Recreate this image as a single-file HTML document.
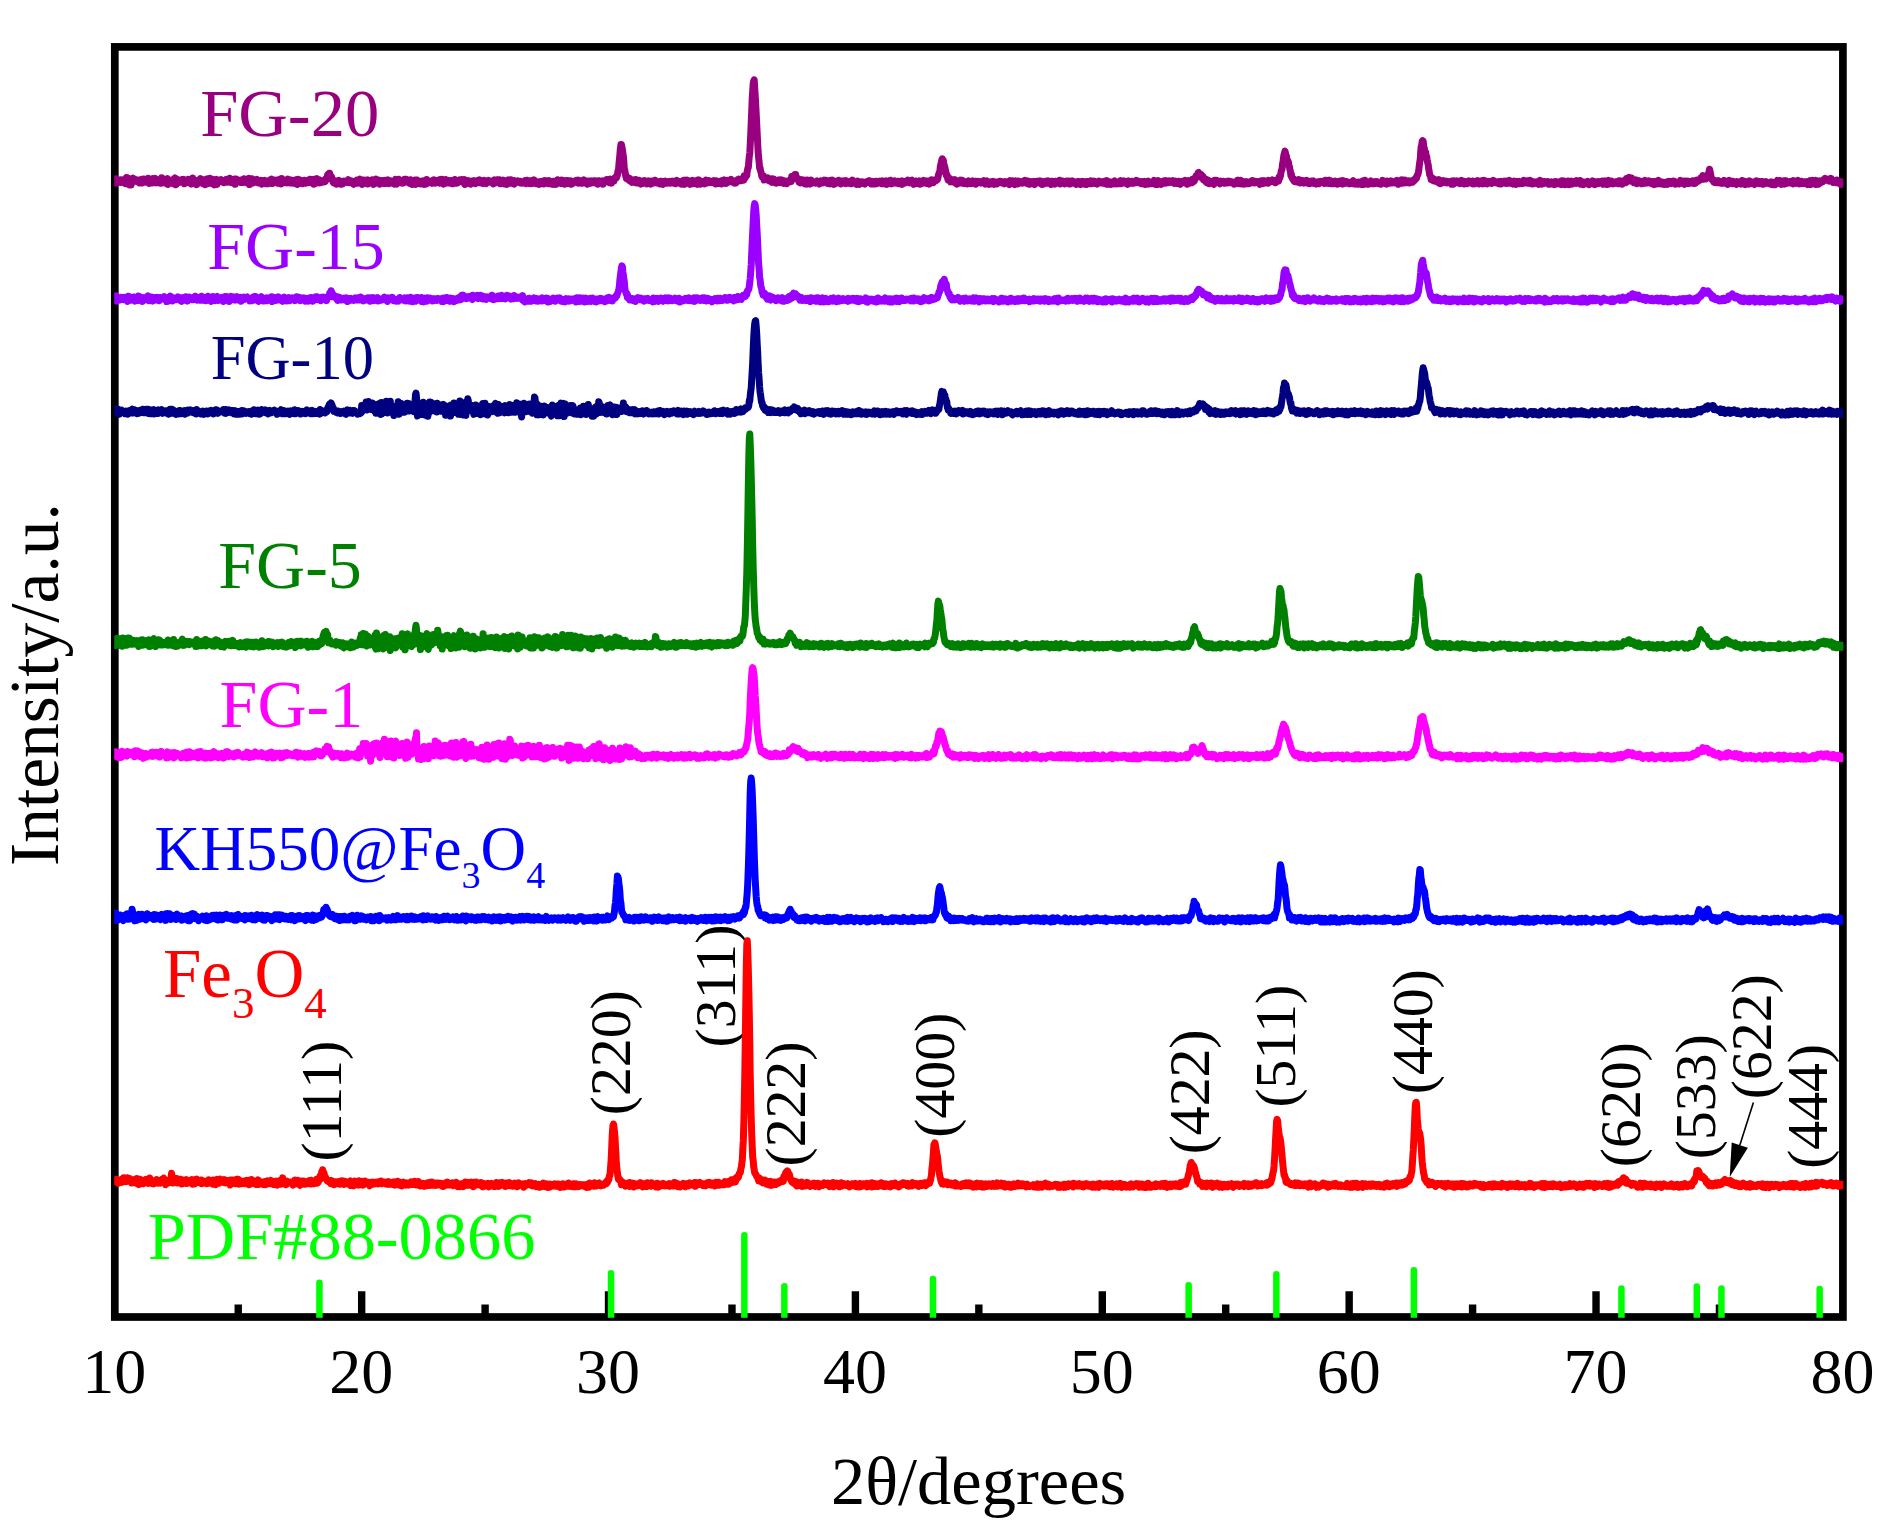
<!DOCTYPE html>
<html lang="en"><head><meta charset="utf-8"><title>XRD patterns</title>
<style>html,body{margin:0;padding:0;background:#fff;overflow:hidden}svg{display:block}text{font-family:"Liberation Serif",serif}</style></head><body>
<svg width="1890" height="1530" viewBox="0 0 1890 1530">
<rect width="1890" height="1530" fill="#fff"/>
<rect x="114.80" y="46.90" width="1728.10" height="1270.10" fill="none" stroke="#000" stroke-width="7.70"/>
<path d="M361.67 1317.0 V1291.3 M608.54 1317.0 V1291.3 M855.41 1317.0 V1291.3 M1102.29 1317.0 V1291.3 M1349.16 1317.0 V1291.3 M1596.03 1317.0 V1291.3 M238.24 1317.0 V1304.6 M485.11 1317.0 V1304.6 M731.98 1317.0 V1304.6 M978.85 1317.0 V1304.6 M1225.72 1317.0 V1304.6 M1472.59 1317.0 V1304.6 M1719.46 1317.0 V1304.6" stroke="#000" stroke-width="7.4" fill="none"/>
<g font-size="64" text-anchor="middle" fill="#000">
<text x="114.3" y="1393">10</text>
<text x="361.2" y="1393">20</text>
<text x="608.0" y="1393">30</text>
<text x="854.9" y="1393">40</text>
<text x="1101.8" y="1393">50</text>
<text x="1348.7" y="1393">60</text>
<text x="1595.5" y="1393">70</text>
<text x="1842.4" y="1393">80</text>
</g>
<text x="978.6" y="1503.7" font-size="68.5" text-anchor="middle">2θ/degrees</text>
<text transform="translate(58 684.5) rotate(-90)" font-size="69.5" text-anchor="middle">Intensity/a.u.</text>
<g font-size="57.7" text-anchor="middle" fill="#000">
<text transform="translate(341.0 1101.1) rotate(-90)">(111)</text>
<text transform="translate(629.8 1052.8) rotate(-90)">(220)</text>
<text transform="translate(735.0 986.0) rotate(-90)">(311)</text>
<text transform="translate(805.0 1104.1) rotate(-90)">(222)</text>
<text transform="translate(953.7 1075.3) rotate(-90)">(400)</text>
<text transform="translate(1208.8 1091.9) rotate(-90)">(422)</text>
<text transform="translate(1295.0 1046.2) rotate(-90)">(511)</text>
<text transform="translate(1431.7 1031.7) rotate(-90)">(440)</text>
<text transform="translate(1639.8 1104.7) rotate(-90)">(620)</text>
<text transform="translate(1714.8 1096.8) rotate(-90)">(533)</text>
<text transform="translate(1770.6 1036.8) rotate(-90)">(622)</text>
<text transform="translate(1826.5 1106.4) rotate(-90)">(444)</text>
</g>
<g font-size="68">
<text x="200.2" y="135.9" font-size="68.6" fill="#99007f">FG-20</text>
<text x="207.3" y="269.3" fill="#9900ff">FG-15</text>
<text x="210.7" y="378.7" fill="#000080" font-size="62.5">FG-10</text>
<text x="218.3" y="588" fill="#008000">FG-5</text>
<text x="219.6" y="727.3" fill="#ff00ff">FG-1</text>
<text x="163" y="997.2" font-size="69" fill="#ff0000">Fe<tspan font-size="45" dy="20.3">3</tspan><tspan dy="-20.3">O</tspan><tspan font-size="45" dy="20.3">4</tspan></text>
<text x="147.8" y="1259" font-size="68.4" fill="#00ff00">PDF#88-0866</text>
</g>
<text x="154.6" y="870" font-size="63.1" fill="#0000ff">KH550@Fe<tspan font-size="38" dy="18">3</tspan><tspan dy="-18">O</tspan><tspan font-size="38" dy="18">4</tspan></text>
<clipPath id="pa"><rect x="114.2" y="0" width="1729.2" height="1530"/></clipPath>
<g clip-path="url(#pa)">
<path transform="scale(.1)" fill="none" stroke="#99007f" stroke-width="70" stroke-linejoin="round" d="M1148 1819l5 9 5-10 5-31 5 43 5-9 5-19 5 21 4-4 5-1 5-5 5 10 5-25 5 11 5-6 5 21 5-11 5-6 5-10 5 10 5 5 5-5 5 30 5-6 4-57 5 2 5 33 5-5 5 12 5 0 5 34 5-59 5 14 5 45 5-25 5 0 5-22 5-22 5 35 5-2 4-25 5 11 5 11 5-16 5 16 5 3 5-1 5-10 5 21 5 5 5-11 5-21 5 29 5-23 5 26 5-36 4 36 5-17 5-22 5 17 5 7 5 4 5-23 5-3 5 24 5-12 5 13 5 10 5-44 5 34 5 18 5-28 4-9 5 28 5-9 5 12 5-22 5-21 5 25 5-6 5 22 5-11 5-32 5 7 5 38 5-4 5-24 5 12 4 8 5 0 5 8 5-11 5-7 5-3 5 24 5-54 5 33 5 3 5-26 5 31 5-17 5 26 5-17 5 14 4 10 5-15 5-22 5-11 5 57 5-33 5-10 5 15 5-6 5 18 5-14 5-1 5-12 5 20 5-26 5 30 4 15 5-53 5-8 5 45 5 24 5-52 5-4 5 32 5-25 5 6 5 2 5 16 5-17 5 12 5-8 5-11 4 9 5-11 5 17 5-20 5 1 5 43 5-25 5 0 5 9 5-16 5 4 5 11 5-3 5-24 5 34 5-24 4-8 5 2 5 9 5 34 5-47 5 22 5-36 5 34 5 15 5-19 5-7 5 15 5 7 5 0 5 22 5-30 4-13 5 8 5 1 5 3 5-3 5 4 5-31 5 42 5-24 5-9 5 29 5 12 5-14 5-5 5-18 5 48 4-19 5-33 5 6 5 14 5-26 5 28 5-10 5 27 5-4 5-48 5 33 5-27 5 44 5-15 5 6 5-26 4 47 5 3 5-50 5 23 5-17 5 11 5-20 5 50 5-45 5 10 5 13 5-18 5 6 5-5 5 7 5-16 4 11 5 4 5-2 5 6 5-5 5 16 5-17 5 3 5-8 5 2 5-12 5 29 5-27 5 7 5 17 5 1 4-13 5-25 5 38 5-2 5-27 5 35 5-23 5-7 5 19 5-4 5 6 5-28 5 53 5-38 5-14 5 33 4-15 5 11 5-11 5 5 5 5 5-16 5 22 5-18 5-6 5 15 5 6 5-11 5-10 5 23 5-36 5 11 4 16 5-21 5 21 5-1 5 15 5-28 5 4 5 15 5-36 5 62 5-42 5 0 5 24 5-14 5-26 5 37 4 3 5-20 5 3 5 11 5-21 5 21 5-4 5-13 5-11 5 18 5-10 5 28 5-13 5 10 5-10 5 2 4-16 5 22 5 17 5-31 5-5 5 7 5-5 5-3 5 12 5-6 5 26 5-22 5 5 5 10 5-19 5 26 4-31 5-3 5 7 5 4 5-19 5 20 5-24 5 45 5-22 5-8 5-4 5 8 5 2 5-12 5 2 5 11 4-5 5 21 5 3 5-16 5 6 5-26 5 29 5-10 5 8 5 16 5-53 5 33 5-19 5 24 5-28 5 12 4 11 5 6 5-8 5-13 5 4 5 21 5-13 5-25 5 37 5-6 5 6 5-17 5 17 5-28 5 24 5-15 4 16 5 5 5-25 5 10 5 1 5 17 5-7 5-28 5 24 5 5 5 17 5-52 5 16 5 27 5-38 5 2 4 24 5 7 5-24 5 18 5-6 5 19 5-21 5 14 5-27 5 10 5 1 5 18 5-8 5-19 5 20 5 2 4-13 5-2 5 1 5-21 5 26 5 1 5-15 5 22 5-30 5 12 5 1 5 34 5-50 5 30 5 6 5-8 4 11 5-31 5-14 5 39 5-28 5 12 5-12 5 31 5-3 5-22 5 22 5-11 5-4 5 2 5-4 5 10 4-6 5-11 5 15 5-27 5 6 5-8 5 3 5-41 5 19 5-30 5-6 5-1 5 27 5 6 5-4 5 10 4 16 5 5 5 28 5 7 5-5 5-6 5-10 5 7 5 12 5 16 5-14 5-16 5 4 5-7 5-4 5 9 4 5 5 23 5-25 5 18 5 6 5-23 5 21 5-12 5-15 5 9 5-3 5-4 5 1 5 4 5 4 5-17 4 11 5-20 5 24 5 5 5-6 5 2 5 4 5-17 5 6 5 10 5 6 5-8 5 22 5-28 5 14 5 4 4-19 5-9 5-5 5 18 5 13 5-11 5-2 5-7 5 13 5-34 5 29 5-2 5-19 5 45 5-45 5 4 4-2 5 31 5-26 5 20 5-1 5-4 5-21 5 9 5 31 5-40 5 6 5 9 5 13 5-7 5 6 5-24 4 27 5-5 5-28 5 41 5 6 5-36 5 10 5 18 5-38 5-6 5 9 5 9 5 0 5 16 5-5 5-20 4 24 5 17 5-9 5-2 5-13 5 13 5-26 5 23 5-11 5 16 5-9 5-20 5 16 5 14 5-31 5 8 4-3 5-9 5 31 5 5 5-7 5-7 5-4 5 4 5-12 5 21 5 2 5-2 5-19 5 8 5-3 5 25 4-21 5-26 5 29 5 19 5-15 5 2 5-10 5-26 5 2 5 7 5 15 5 5 5 5 5-13 5 17 5-16 4-6 5 20 5-22 5-14 5 12 5 15 5-27 5 21 5 0 5-14 5 0 5 13 5-2 5 23 5-11 5-25 4 10 5 19 5 16 5-20 5-1 5 20 5-24 5-3 5-14 5 11 5 32 5-43 5 18 5-18 5 19 5 10 4-14 5 12 5 0 5-4 5 16 5-11 5-14 5-5 5-2 5 17 5-10 5 29 5-2 5-26 5-1 5 25 4-45 5 18 5 18 5-24 5 6 5 2 5 12 5-6 5 3 5 2 5-7 5 14 5-23 5-9 5-4 5 2 4 13 5 20 5-11 5-9 5-6 5 7 5 1 5-2 5-11 5 12 5 19 5-38 5 22 5-22 5 27 5-11 4-16 5 26 5 22 5-21 5 13 5-16 5-23 5 30 5-11 5-13 5 28 5-6 5-10 5 17 5-21 5 18 4-19 5 18 5-20 5 32 5-15 5 14 5-28 5 5 5 16 5-35 5 11 5 26 5-7 5 6 5-15 5 10 4-15 5-8 5-4 5 14 5 0 5-1 5-17 5 0 5 18 5 10 5-10 5-4 5-14 5 49 5-38 5 34 4-1 5-16 5-10 5 8 5-15 5 17 5-3 5 6 5 5 5 10 5-26 5 17 5-22 5-1 5 3 5-4 4 24 5-1 5 4 5-15 5 3 5-10 5-7 5 19 5-2 5-16 5 20 5-28 5 19 5-6 5 2 5-7 4 25 5-5 5 7 5-12 5-18 5 12 5-10 5 19 5 10 5-11 5-11 5 3 5 6 5-19 5 19 5 0 4-8 5 1 5 7 5-12 5 0 5 19 5-6 5 17 5-32 5-9 5 32 5 0 5-20 5-8 5 16 5-20 4 17 5-19 5 20 5-20 5 20 5 21 5-21 5 12 5-17 5-3 5-7 5 30 5-13 5 20 5-33 5 11 4 4 5 16 5 5 5-30 5-5 5-8 5 37 5-17 5-7 5 7 5-22 5 3 5 31 5-6 5-3 5-14 4 19 5 14 5-35 5 14 5-5 5 9 5-4 5-2 5-8 5 10 5-7 5 5 5 1 5 9 5-15 5 3 4 17 5-15 5-1 5 13 5-7 5-2 5 2 5-17 5 20 5 10 5-9 5-25 5 22 5-14 5 8 5 4 4-15 5 29 5-16 5 10 5-2 5 8 5-2 5-31 5 18 5-23 5 17 5 14 5 2 5 5 5-20 5 8 4-2 5 14 5 3 5-22 5 27 5-23 5-4 5 11 5 2 5-3 5-14 5 25 5-16 5 17 5-2 5-31 4 4 5-1 5 15 5-2 5 2 5-12 5 14 5 11 5-31 5 13 5 5 5-4 5-1 5 23 5-6 4-5 5-19 5 32 5-19 5-10 5 2 5-1 5 28 5-20 5-2 5-24 5 32 5-21 5-1 5 20 5-17 4 20 5 3 5-33 5 19 5-17 5 18 5 11 5-26 5 36 5-24 5-10 5 12 5 10 5-24 5 15 5-15 4 29 5-12 5-7 5 17 5-26 5 10 5 25 5-22 5 17 5-13 5-11 5 6 5 3 5-5 5-5 5 0 4-8 5 19 5 3 5 4 5-29 5 30 5-10 5-16 5 17 5 9 5-4 5 3 5 2 5-1 5-10 5-22 4 14 5 12 5-9 5 13 5 1 5-8 5 21 5-33 5 22 5-16 5-4 5 16 5-14 5 17 5-23 5 13 4-10 5 7 5-1 5-9 5 20 5-21 5 3 5 21 5 1 5-4 5-4 5 19 5-36 5 5 5-3 5 21 4-7 5 9 5-1 5-14 5-7 5-2 5 34 5-12 5-4 5-11 5 1 5-2 5 0 5-19 5 22 5-4 4 7 5-1 5 6 5-10 5 8 5-32 5 9 5 31 5-34 5 9 5 10 5-20 5 16 5-27 5-8 5 2 4-10 5 10 5-15 5-11 5-40 5 1 5-67 5-52 5-51 5-60 5-38 5 0 5 23 5 25 5 42 5 30 4 47 5 76 5 12 5 37 5 25 5 23 5-20 5 18 5 6 5 6 5-16 5 24 5-19 5 27 5 4 5 2 4-19 5 25 5-20 5-3 5 3 5 2 5 12 5 8 5-31 5 17 5 16 5-8 5 4 5-22 5 28 5-28 4 19 5 14 5 6 5-15 5 4 5-17 5 2 5 18 5-13 5-1 5-14 5 17 5 6 5-16 5 3 5 24 4-16 5-5 5-9 5 5 5 4 5 18 5-21 5 26 5-30 5 6 5 14 5-12 5-7 5 8 5 7 5-24 4 16 5 1 5-3 5 13 5-15 5 3 5 4 5 8 5-11 5 20 5-27 5 24 5-24 5 8 5 6 5 18 4-12 5-15 5 19 5-16 5-7 5 14 5-4 5 9 5-16 5 10 5 3 5-4 5-3 5-8 5 18 5-9 4 4 5-9 5 4 5-11 5 12 5 7 5-7 5 8 5-6 5 12 5-17 5-16 5 23 5-7 5-9 5 18 4-4 5 2 5-9 5 6 5 1 5 16 5-27 5 8 5 4 5-23 5 1 5 40 5-41 5 25 5-15 5 0 4-13 5 12 5 18 5-23 5 21 5-3 5 19 5-27 5 19 5-5 5-12 5-16 5 35 5-31 5 9 5 15 4 3 5-22 5 9 5-2 5 15 5 9 5-42 5 30 5-31 5 22 5-13 5 34 5-20 5-10 5 3 5-1 4 8 5-4 5 9 5 10 5-9 5-21 5-5 5 10 5 19 5-15 5-3 5 8 5-17 5 3 5 18 5-9 4-1 5 8 5-10 5-1 5 2 5 12 5-6 5-14 5 10 5 10 5 13 5-33 5 16 5-6 5 12 5-5 4 11 5-10 5-12 5 0 5 10 5 0 5 17 5-3 5-31 5 16 5-18 5-4 5 26 5-2 5-18 5 29 4-29 5-2 5 20 5-5 5-5 5 1 5 3 5-5 5 0 5-19 5 5 5 21 5-15 5 13 5 7 5-17 4 6 5 18 5-15 5 12 5-4 5-10 5-10 5-9 5-4 5 16 5-1 5-9 5 9 5-17 5 16 5-14 4-3 5-3 5-4 5 19 5-44 5 14 5 6 5-14 5-20 5 10 5-46 5-23 5-8 5-59 5-55 5-32 4-81 5-96 5-124 5-113 5-132 5-73 5-77 5-24 5-12 5 78 5 78 5 87 5 98 5 99 5 99 5 102 4 75 5 61 5 44 5 61 5-1 5 34 5 11 5 31 5 14 5 6 5 2 5-18 5 41 5-12 5-3 5 4 4-1 5 10 5 1 5-5 5-16 5 23 5 7 5 1 5-6 5 8 5 7 5-15 5 21 5-36 5 8 5 5 4-11 5 11 5 25 5 0 5-12 5 18 5-16 5-7 5 8 5-4 5 10 5-24 5 27 5-15 5 14 5-26 4 12 5 6 5 9 5-23 5 31 5-13 5-11 5 19 5-12 5 11 5 9 5-14 5-14 5 0 5 10 5-5 4-14 5-2 5 10 5 8 5-50 5 20 5-19 5 2 5-5 5-9 5-9 5 0 5 0 5 39 5-8 5 4 4 10 5-5 5 22 5 15 5 1 5-27 5 33 5-22 5-11 5 7 5 4 5 10 5-10 5-5 5 14 5 23 4-28 5 13 5-4 5 21 5-42 5 32 5-25 5 7 5 6 5 22 5-29 5-12 5 34 5-23 5 7 5 2 4 2 5-3 5 4 5 2 5 5 5-14 5-3 5-4 5 18 5-7 5 7 5 0 5 12 5-16 5 6 5-21 4 2 5 8 5-10 5 20 5-21 5 15 5-22 5 9 5 9 5 1 5-17 5 20 5 10 5-4 5-14 5 1 4-6 5 19 5 9 5-21 5-13 5 21 5 5 5-29 5 23 5 20 5-13 5-3 5-1 5 7 5-21 5 1 4 13 5-12 5 10 5-23 5 29 5 1 5-9 5 1 5 16 5-29 5 2 5-2 5 7 5-6 5 11 5-7 4-9 5-1 5 30 5-14 5-2 5 3 5-1 5 9 5-2 5-12 5-3 5-3 5-1 5 28 5-25 5-11 4 12 5 1 5 11 5-12 5 15 5-2 5 9 5 8 5 0 5-7 5-26 5 8 5 7 5 18 5-14 5 6 4-15 5 8 5 2 5-13 5 13 5 3 5-13 5 13 5 6 5-16 5-1 5-3 5-4 5 9 5-6 5 1 4-5 5-8 5 6 5 14 5-16 5 5 5 24 5-5 5-19 5 13 5-13 5 24 5-23 5 7 5 14 5-24 4 23 5-23 5 12 5-6 5 2 5 3 5-3 5-10 5 20 5-1 5 6 5 1 5-29 5 28 5 0 5-20 4 17 5 5 5-22 5-8 5 10 5 25 5-18 5-16 5 10 5-7 5 6 5 5 5-22 5 25 5 11 5-17 4-2 5 16 5-25 5 0 5-2 5 13 5 6 5-5 5 7 5 3 5-4 5-14 5 6 5 16 5-24 5 8 4-1 5 2 5-9 5-3 5 35 5-11 5-18 5 7 5 8 5-11 5 10 5-13 5 3 5 3 5-4 5-16 4 21 5 2 5 3 5-16 5 14 5-1 5-21 5-2 5 26 5-15 5 20 5 11 5-28 5-1 5 7 5 7 4-19 5 25 5-2 5-4 5-13 5 16 5-1 5-22 5 34 5-24 5 7 5-10 5 10 5 8 5-21 5-9 4 12 5-9 5 6 5 6 5 1 5 14 5-24 5 14 5-10 5 20 5 6 5-18 5 14 5-24 5-11 5 3 4-4 5 6 5 6 5 14 5-6 5-4 5-10 5-6 5 6 5-2 5-4 5-5 5-14 5-32 5-8 5-19 4-1 5-54 5-20 5-20 5-28 5-11 5 10 5 5 5 29 5 25 5 13 5 24 5 23 5 36 5-8 5 24 4 18 5 15 5-27 5 21 5 7 5-6 5 22 5-5 5-5 5-12 5 4 5 5 5 15 5-17 5-7 5 6 4 9 5 24 5 4 5-25 5 15 5 5 5-1 5-15 5-12 5 9 5-14 5 22 5 5 5-27 5 19 5 4 4 10 5 1 5-6 5-15 5 3 5 17 5-19 5 6 5 17 5-15 5-16 5 11 5 10 5-8 5 14 5 1 4-20 5 1 5 5 5-12 5 17 5-6 5 10 5-14 5-3 5 28 5-28 5 3 5-2 5 5 5-6 4 9 5-7 5 3 5 8 5 4 5-3 5-12 5 11 5-5 5 0 5-17 5 25 5-8 5 19 5-11 5-18 4-3 5 26 5-21 5 17 5-11 5 24 5-20 5 15 5-2 5-18 5 1 5 19 5-15 5-10 5 22 5 8 4-21 5 15 5-16 5 16 5-17 5 17 5-8 5-8 5 4 5-8 5-6 5 1 5 10 5-10 5 16 5 1 4-1 5-10 5 6 5-1 5 14 5-22 5 4 5 2 5 1 5-6 5 1 5 17 5-17 5 16 5 11 5-7 4-32 5 26 5-3 5 1 5-23 5 25 5-19 5 25 5-2 5 9 5-25 5-11 5 26 5-2 5-13 5 19 4-7 5-21 5 10 5-1 5 3 5 3 5-9 5 5 5 9 5-7 5-2 5-1 5 2 5-19 5 22 5-12 4 12 5-17 5 25 5-7 5-17 5 17 5-10 5 26 5-13 5-14 5 11 5-3 5 13 5-9 5 2 5-17 4 20 5 12 5-14 5-7 5 2 5-11 5 11 5-13 5 12 5-5 5-4 5 15 5-22 5 15 5-13 5 33 4 1 5-12 5 11 5-13 5-1 5-10 5-5 5 11 5-7 5 1 5 12 5-9 5-15 5 14 5-5 5 4 4-8 5 24 5 7 5-31 5 18 5 0 5-18 5 13 5 13 5-6 5 8 5-29 5 5 5 11 5 0 5-3 4-5 5 0 5-2 5 11 5-26 5 38 5-22 5-9 5 20 5-20 5 18 5-8 5 11 5 2 5 5 5-19 4 2 5 3 5-14 5 21 5-5 5-16 5 27 5 2 5-28 5 19 5 7 5-4 5-19 5-4 5 13 5-4 4 5 5-1 5 7 5-12 5 5 5 22 5-22 5 9 5-5 5 0 5-12 5 15 5-6 5 9 5 12 5-19 4 6 5-18 5 11 5 15 5-16 5-6 5 8 5-4 5 0 5-2 5 25 5-30 5 5 5-2 5 19 5-16 4 17 5-12 5-2 5-15 5 28 5-7 5-2 5-5 5-3 5-9 5 23 5-7 5-7 5-2 5 7 5-2 4 18 5-9 5-14 5-5 5 9 5-7 5 10 5 3 5 3 5-2 5-7 5 8 5-15 5 8 5 10 5-6 4-16 5 1 5-4 5 35 5-35 5 15 5 20 5-7 5 2 5-19 5 13 5 13 5-21 5 5 5-8 5 3 4 4 5 11 5-24 5-5 5 15 5 2 5 12 5-7 5-14 5 12 5 6 5-9 5-6 5 10 5-10 5-16 4 33 5-27 5 10 5 0 5 0 5 0 5-12 5 21 5-5 5 0 5 10 5 1 5 2 5 5 5-14 5-21 4 19 5-3 5 1 5-7 5-3 5 18 5 1 5-21 5 17 5-7 5-3 5 11 5-7 5-5 5 6 5-21 4 14 5 2 5-10 5 16 5 1 5-9 5 4 5 9 5 4 5-19 5 12 5 7 5-11 5-8 5 0 5 5 4-8 5 32 5-27 5 10 5-2 5 5 5-11 5-9 5 30 5-18 5 2 5 1 5 11 5-5 5 4 5-4 4-6 5 1 5-11 5-12 5 17 5-8 5 32 5-5 5-4 5-18 5 27 5-39 5 5 5 5 5-2 5 11 4 1 5 18 5-10 5 3 5-9 5-6 5-5 5-9 5 7 5 5 5 12 5-26 5 4 5 16 5-13 5 14 4-8 5-3 5-6 5 13 5-7 5 1 5 0 5 9 5-1 5-19 5 16 5 6 5 6 5-2 5-6 5-14 4 3 5 18 5-17 5 18 5 2 5-24 5 16 5-6 5 22 5-12 5-14 5 9 5-14 5 8 5 4 5-1 4 2 5-13 5-10 5 15 5-5 5 1 5 28 5-9 5-14 5-13 5 1 5 16 5 7 5-14 5 3 5 0 4 7 5-32 5 19 5-1 5 2 5-11 5-23 5-3 5-20 5 7 5-11 5-5 5-20 5-3 5 31 5-9 4 21 5-9 5-16 5 29 5 10 5-11 5-7 5 33 5-2 5 10 5-19 5 29 5-23 5 14 5 19 5-26 4 0 5 15 5 23 5 0 5-23 5 17 5-4 5-3 5 1 5-11 5 16 5 3 5 10 5-11 5-30 5 8 4 16 5-3 5-20 5 18 5-2 5 3 5 0 5 10 5 6 5-8 5-18 5 2 5 2 5 7 5-4 5 1 4-6 5 19 5-1 5 1 5-10 5 5 5-14 5-1 5 5 5 11 5-7 5-10 5 12 5 4 5-3 5-8 4 7 5-5 5 1 5 3 5 8 5 11 5-2 5-10 5-11 5 1 5 1 5 14 5-32 5 23 5-23 5 21 4 13 5-23 5-11 5 34 5 2 5-10 5 7 5-21 5 21 5 5 5-11 5-4 5 11 5-2 5-19 5 21 4-6 5-6 5 12 5-4 5-2 5-13 5 14 5-20 5 10 5-16 5-1 5 23 5-6 5 2 5 5 5-3 4-12 5 10 5-2 5-5 5 4 5-2 5-3 5 3 5 6 5 18 5-29 5 14 5-21 5 31 5-20 5 5 4 12 5-3 5-26 5 21 5-8 5 8 5-5 5 6 5-5 5-4 5 13 5-28 5 11 5-6 5 8 5-3 4 2 5-4 5 0 5-13 5 16 5 3 5-10 5-2 5-1 5 23 5-17 5 1 5-9 5-5 5-7 5 21 4-39 5 13 5-14 5-16 5-33 5-21 5-7 5-53 5-23 5-41 5-32 5-15 5-20 5 21 5 32 5-1 4 46 5-11 5 17 5 5 5 34 5 13 5 30 5 14 5 44 5-12 5 34 5 8 5 10 5-9 5 25 5 3 4-6 5 4 5-3 5 9 5-14 5 16 5-1 5-18 5-5 5 20 5 0 5 14 5-11 5-5 5-9 5 13 4-4 5-5 5 10 5 12 5-9 5-12 5 14 5-14 5-5 5 22 5-11 5 17 5-8 5-11 5 10 5 12 4-16 5-9 5 5 5-2 5-4 5-1 5 18 5 7 5-15 5 12 5 1 5 8 5-19 5-2 5 8 5-3 4 2 5 11 5-18 5 7 5-13 5 9 5-6 5 0 5 5 5-2 5 8 5 5 5-24 5 26 5-31 5 23 4 5 5-14 5 4 5-5 5 17 5-30 5 11 5-10 5 22 5 11 5-1 5-5 5-5 5-10 5 20 5-6 4-15 5-4 5 6 5 18 5 2 5 4 5-25 5 4 5 18 5-12 5 6 5-22 5 10 5 4 5-4 5 0 4-13 5 34 5-15 5-17 5 26 5-10 5 6 5-9 5-6 5 0 5 12 5 4 5-3 5 2 5 6 5-10 4 8 5 1 5-9 5-3 5-4 5-8 5-4 5 30 5-14 5-5 5 22 5-7 5-9 5 10 5-12 5 5 4 15 5-8 5-13 5 10 5 5 5-14 5-3 5 24 5-22 5-11 5 15 5 19 5-14 5 4 5-32 5 16 4 18 5-16 5 18 5-9 5-1 5 14 5-23 5 0 5 6 5 2 5-20 5 30 5-10 5-4 5 8 5-11 4 17 5-12 5 7 5-17 5 6 5 7 5-14 5 3 5 7 5 11 5-3 5 1 5-6 5 6 5 7 5-14 4 2 5 2 5-27 5 20 5 5 5 3 5-11 5 14 5-17 5 5 5 19 5-32 5 14 5-1 5 0 5-4 4 12 5-18 5-3 5 19 5-18 5 17 5-4 5-8 5 4 5 2 5 6 5-11 5 4 5-13 5 12 5-17 4 19 5-4 5 24 5-7 5-15 5 11 5-7 5-14 5-10 5 32 5-7 5-25 5 27 5 2 5-16 5 14 4-26 5 15 5 3 5 7 5-5 5-2 5 3 5-13 5 21 5-19 5 10 5-9 5-3 5 7 5-3 4 8 5-5 5-19 5 9 5-7 5-13 5-8 5 8 5-16 5-20 5-2 5-18 5-28 5-48 5-36 5-29 4-75 5-47 5-17 5-38 5-6 5 6 5 53 5 11 5 37 5 7 5 3 5 45 5-2 5 35 5 29 5 17 4 38 5 23 5 36 5 12 5 7 5 31 5-3 5 5 5-8 5 16 5-17 5 22 5-12 5 13 5-3 5 6 4 3 5-4 5 1 5-14 5-3 5 33 5-7 5-20 5 35 5-26 5 13 5-1 5-3 5 6 5-20 5 14 4-2 5 3 5-3 5-4 5-1 5 17 5-17 5 12 5 0 5-4 5 5 5 2 5-11 5 9 5 16 5-31 4 8 5-4 5 28 5-35 5 15 5 9 5-18 5 8 5-6 5-7 5 13 5 6 5-9 5 6 5 5 5 6 4-25 5 19 5-13 5-13 5 12 5 14 5-3 5-15 5 28 5-12 5-5 5-5 5 10 5-8 5 16 5-9 4 3 5-9 5-12 5 20 5-15 5 9 5 1 5-8 5 17 5-23 5 29 5-21 5 16 5 3 5-22 5 2 4 17 5-8 5-1 5-19 5 2 5 22 5 9 5-22 5-1 5 11 5 2 5 1 5-10 5-15 5 34 5-20 4 18 5-33 5 24 5-9 5-6 5 21 5 4 5-19 5 12 5-17 5 4 5 4 5-1 5 10 5-19 5 23 4-1 5-12 5-9 5-9 5 20 5-7 5 9 5-12 5 11 5-1 5 1 5 3 5 0 5 7 5-18 5 15 4-6 5-6 5-5 5 25 5-13 5-7 5 6 5-1 5-6 5-8 5 15 5-3 5-1 5 13 5-24 5 4 4 11 5 7 5-2 5 1 5-28 5 26 5-1 5 3 5-14 5 12 5 5 5 6 5-14 5-16 5 14 5 6 4-1 5 14 5-21 5-8 5 4 5 13 5-15 5-3 5 3 5 20 5-10 5-5 5 12 5-2 5-17 5 18 4-5 5-24 5 9 5 15 5 2 5-8 5-7 5 13 5-21 5 24 5-7 5 1 5-6 5 15 5-30 5 12 4 15 5-13 5 22 5-11 5-12 5 19 5-12 5 7 5-12 5 0 5 14 5-7 5-8 5-2 5 16 5 11 4-26 5 15 5-28 5 7 5 21 5 10 5-16 5 5 5-3 5 8 5-21 5 17 5-11 5 1 5 3 5-2 4-5 5 5 5-7 5 25 5-8 5-12 5 21 5-3 5-8 5-11 5 8 5 3 5 9 5-16 5-4 5 26 4-6 5-11 5-13 5 15 5 6 5-4 5 1 5-8 5 11 5-18 5 2 5 0 5-2 5 26 5-37 5 20 4-12 5-3 5 14 5-17 5 15 5 21 5-22 5 6 5-13 5 13 5-20 5 17 5-3 5 22 5-21 5-3 4-2 5-7 5 20 5 7 5-18 5 11 5-11 5 7 5 1 5-19 5 6 5 18 5-29 5 19 5-3 5-6 4 10 5 2 5 3 5-26 5 37 5-22 5 16 5-12 5-5 5 6 5 21 5-5 5-19 5 6 5 9 5-6 4-5 5-3 5-9 5 19 5 3 5 10 5-26 5 12 5-7 5 13 5-14 5-6 5-10 5 24 5-5 5 10 4-18 5 27 5-28 5 12 5-1 5 7 5-13 5-7 5-1 5 18 5-7 5 3 5-12 5 9 5 1 5 4 4-21 5 7 5 26 5-22 5 3 5-3 5-12 5 5 5 15 5-11 5 27 5-36 5-4 5 16 5-9 5 27 4-19 5 10 5-20 5 21 5 0 5 6 5-10 5 3 5-4 5 8 5-14 5 10 5-12 5 13 5-10 5-4 4 0 5 21 5-31 5 1 5 21 5-17 5 5 5-1 5 26 5-29 5-1 5 2 5 5 5 0 5-22 5 17 4 12 5-41 5 21 5-1 5-8 5-5 5-19 5 34 5-14 5 3 5 16 5-32 5 21 5 8 5 2 5 0 4 16 5-16 5 9 5-1 5-21 5 9 5 30 5-22 5 4 5-12 5 11 5-10 5 8 5 12 5-14 5 3 4 20 5-9 5 1 5 5 5-16 5 2 5-16 5 28 5-10 5 2 5-11 5 18 5 0 5-5 5-18 5 8 4 8 5-8 5 13 5 6 5-18 5 6 5-5 5 17 5-1 5 11 5-20 5-10 5 14 5-7 5 5 5 11 4-16 5 10 5-28 5 32 5-10 5-4 5-2 5 19 5-19 5 18 5-18 5 5 5 4 5 16 5-17 5-1 4-3 5-2 5-3 5 25 5-4 5-22 5 9 5-14 5 22 5-3 5-6 5-9 5 16 5-2 5-8 5 9 4-21 5 8 5-4 5 11 5 16 5-17 5 11 5-12 5-3 5 14 5-5 5 9 5-4 5-19 5-12 5 22 4-14 5-2 5-1 5 9 5 4 5 2 5 20 5-33 5 13 5-13 5 2 5 11 5 4 5-18 5 25 5-22 4 20 5-11 5 10 5-4 5-9 5 8 5-20 5 0 5 10 5 17 5-23 5 1 5 22 5-18 5-2 5-12 4 9 5 3 5-10 5 5 5-9 5 3 5-6 5-15 5 6 5 5 5-18 5-18 5 14 5-4 5 24 5-12 4-17 5 10 5 18 5-28 5 4 5-1 5-13 5-23 5-12 5-24 5 23 5 25 5 27 5 16 5 14 5 3 4 3 5 11 5 8 5 2 5-20 5 15 5 6 5-9 5 8 5-7 5 7 5-19 5 20 5-9 5-2 5 4 4 14 5-1 5-7 5 7 5-13 5-8 5-7 5 19 5-1 5 2 5 0 5 12 5-22 5 2 5 28 5-12 4-11 5-17 5 12 5 5 5 2 5 3 5-4 5 14 5-24 5 10 5-4 5 14 5-6 5 7 5-8 5 20 4-13 5-15 5 8 5-4 5 11 5 3 5-6 5-6 5-5 5 23 5-5 5-31 5 21 5-10 5 5 5 21 4-29 5 1 5 32 5-26 5 3 5 14 5-17 5 6 5 2 5 12 5-31 5 8 5 7 5 11 5-16 5 11 4-10 5 1 5 17 5-15 5 23 5-17 5 8 5-4 5-24 5 1 5 20 5-16 5 6 5 2 5-6 5 22 4-5 5-6 5 4 5-15 5 18 5-17 5 25 5-23 5 1 5 17 5-5 5-16 5 16 5-6 5 0 5 6 4 0 5 4 5-5 5-2 5-4 5 16 5-23 5 27 5 1 5 0 5-22 5 22 5-9 5 0 5 9 5-18 4 4 5-19 5-8 5 24 5 1 5 3 5-4 5-24 5 25 5 7 5 5 5-26 5 1 5 2 5 0 5-10 4 10 5 23 5-27 5-9 5 17 5-3 5 13 5-15 5 6 5-7 5-1 5 13 5-2 5-2 5 6 5-14 4 9 5 2 5 10 5-32 5 16 5 8 5-10 5 6 5 7 5-3 5-22 5 5 5-8 5 27 5-4 5 11 4-13 5-12 5 22 5-24 5 13 5-2 5 10 5 2 5-14 5-3 5 7 5-6 5 16 5-6 5 11 5 6 4-30 5 3 5 11 5-1 5-8 5-14 5 39 5-20 5-13 5-9 5 35 5-11 5-3 5-11 5 9 5-3 4-16 5 41 5-17 5-8 5-7 5 4 5 26 5-16 5-19 5 23 5-5 5-1 5-8 5-2 5 2 5-7 4-15 5 1 5 7 5-20 5 13 5-4 5 9 5-5 5-4 5 2 5 9 5 8 5-20 5-3 5 9 5-13 4 13 5 17 5 3 5 7 5-14 5 3 5-6 5 2 5 10 5 8 5-3 5-24 5 26 5-4 5-6 5 8 4 9 5-8 5-9 5 29 5-27 5 11 5 8 5-21"/>
<path transform="scale(.1)" fill="none" stroke="#9900ff" stroke-width="70" stroke-linejoin="round" d="M1148 2989l5-11 5 2 5-23 5 55 5-9 5-22 5 16 4-7 5-12 5 22 5-18 5-1 5-6 5 18 5-8 5 9 5-17 5 11 5-15 5 25 5-9 5 2 5 1 4-20 5 26 5 17 5-52 5-1 5 3 5 33 5-10 5 14 5-5 5-8 5 2 5-7 5 15 5-29 5 11 4 9 5 22 5-36 5-5 5 8 5 21 5-17 5 22 5-45 5 43 5-2 5-34 5 22 5 15 5-16 5 13 4 14 5-24 5-8 5-7 5 20 5-12 5 0 5 1 5 11 5-24 5-6 5-7 5 45 5-16 5 20 5-21 4-10 5 17 5-8 5-16 5 5 5 36 5-19 5 1 5-10 5-5 5 21 5-13 5-9 5 8 5-10 5 15 4 13 5-27 5 31 5-29 5 11 5-13 5 8 5 4 5-7 5-3 5 0 5-2 5-10 5 18 5 9 5 7 4-4 5 19 5-23 5-11 5 32 5-40 5 28 5-26 5 17 5-31 5 39 5-15 5-10 5 35 5-12 5-10 4-10 5 9 5-2 5 12 5 1 5-19 5 1 5 1 5-11 5 10 5 7 5 10 5 8 5-28 5 18 5-13 4 32 5-27 5 8 5-20 5 2 5 14 5-8 5 10 5-26 5 30 5-21 5 35 5-27 5 19 5-33 5 24 4-18 5 6 5 6 5-4 5 8 5 6 5-1 5-10 5-17 5 8 5 8 5-24 5 36 5-13 5 0 5 16 4-4 5-6 5-16 5 17 5 1 5-16 5 25 5-7 5-32 5 27 5-18 5 31 5-4 5-25 5 3 5 13 4-5 5 23 5-10 5-13 5 11 5-33 5 30 5 7 5-14 5-6 5 16 5 18 5-23 5-17 5 33 5-42 4 30 5-14 5 20 5-23 5 28 5-13 5-26 5-3 5 21 5 20 5-14 5-1 5-4 5 12 5-4 5-1 4-17 5 28 5 2 5-34 5 42 5-16 5-15 5-18 5 32 5-1 5-14 5-16 5 37 5-21 5 1 5 31 4 0 5-13 5-18 5 14 5-33 5 27 5-11 5-7 5-4 5 27 5-6 5 1 5 9 5-21 5-5 5-7 4 18 5 14 5-11 5 9 5-22 5 9 5-4 5-6 5 39 5-13 5-20 5 0 5 9 5-17 5 23 5-21 4 11 5-8 5 7 5-11 5-3 5 8 5 3 5 5 5 5 5 18 5-9 5-13 5 12 5-18 5 27 5-11 4-24 5 26 5 1 5-35 5 16 5 3 5-18 5 11 5 1 5 18 5-2 5 21 5-30 5 19 5-13 5 2 4-17 5-9 5 14 5 18 5 10 5-11 5-2 5-16 5 29 5-2 5-23 5 6 5-12 5 30 5-13 5-6 4 6 5 1 5-11 5-10 5 0 5-6 5 27 5 19 5-45 5 22 5 3 5-16 5 14 5-16 5 28 5-22 4 9 5 7 5-14 5-16 5 15 5 16 5-10 5 3 5-15 5 14 5 7 5-8 5 23 5-26 5-10 5-7 4 34 5-15 5 13 5-7 5 14 5-4 5-20 5 8 5 10 5-28 5 32 5-3 5-2 5-15 5 6 5-16 4 14 5-8 5 8 5-7 5 9 5 11 5-30 5 27 5-35 5 0 5 23 5 1 5 5 5-24 5 18 5 3 4 13 5-16 5 7 5-17 5 9 5-3 5 13 5-20 5 2 5 17 5 14 5-16 5-1 5-8 5 17 5-7 4 14 5-16 5-15 5 4 5-4 5-4 5 30 5-5 5-24 5 35 5-18 5-14 5 16 5-6 5-8 5-14 4 23 5 3 5-27 5 30 5 1 5-13 5 7 5-5 5-6 5 5 5 20 5-33 5 19 5 0 5-11 5 3 4-12 5 6 5 9 5 3 5-15 5 31 5-32 5 3 5-10 5-10 5 9 5-33 5 10 5-9 5-27 5 29 4-10 5 42 5-17 5 4 5-4 5 12 5 12 5-2 5-1 5 7 5 6 5 20 5-36 5 14 5-4 5-6 4 3 5 4 5 19 5-10 5-4 5 13 5-4 5-5 5 7 5-14 5 17 5-2 5-10 5-9 5 31 5-16 4 22 5-30 5 17 5-15 5 8 5 7 5-19 5 8 5 3 5 0 5 5 5 5 5-2 5-7 5-6 5-9 4 4 5 3 5 13 5-12 5-9 5 21 5-16 5 0 5 6 5 8 5-28 5 10 5 15 5-6 5-6 5 4 4 22 5-21 5 13 5 1 5-14 5 10 5-10 5-2 5-6 5 23 5-14 5-2 5-7 5 33 5-12 5-9 4-7 5-9 5 20 5 0 5-19 5 29 5-4 5-20 5 5 5 1 5 7 5-3 5-17 5 35 5-13 5 10 4 0 5-16 5 6 5 5 5 0 5-10 5-5 5 7 5-9 5 2 5-16 5 23 5-12 5 5 5 6 5 4 4 18 5-19 5-18 5 17 5-8 5 11 5-12 5 0 5 2 5-1 5-14 5 13 5 8 5 13 5-16 5-1 4 10 5 0 5 12 5-12 5-6 5 15 5 2 5-22 5 7 5-21 5 15 5-6 5 8 5-3 5 3 5 1 4 7 5-3 5-9 5-8 5 28 5 2 5-21 5 11 5-23 5 0 5 14 5 19 5-27 5 2 5 27 5-39 4 28 5-1 5-8 5 4 5 20 5-34 5 9 5 1 5-5 5-7 5 32 5-15 5-22 5 12 5 12 5 0 4-20 5 15 5 3 5 2 5 0 5-24 5 40 5-18 5 17 5 3 5-24 5-12 5 23 5-11 5-3 5-7 4 30 5-23 5-10 5 10 5-8 5 15 5-7 5-7 5 18 5-13 5 15 5 6 5-18 5-3 5 9 5 8 4-10 5 2 5-2 5 3 5 4 5-15 5 3 5 6 5-8 5 9 5 4 5-6 5-6 5-2 5 27 5-9 4-22 5 3 5 30 5-4 5-15 5 11 5-29 5 16 5 8 5-28 5 12 5 17 5 4 5-19 5 10 5 14 4-22 5-10 5 14 5-4 5 18 5-12 5-10 5 30 5-27 5 11 5 2 5 1 5-7 5 5 5-7 5-15 4 13 5 1 5 0 5 3 5-30 5 21 5 3 5-39 5 22 5-8 5-14 5 26 5-11 5 3 5-3 5 18 4 2 5-10 5 4 5-8 5 2 5-9 5 8 5-8 5 12 5 5 5-6 5 10 5 8 5-42 5 21 5-6 4 1 5-9 5 15 5-4 5-4 5 4 5-3 5-15 5 33 5-15 5-7 5 13 5-10 5-14 5 31 5-28 4 16 5 4 5 13 5-2 5-11 5-10 5 4 5 16 5 7 5-13 5-12 5 17 5-15 5 0 5 2 5 9 4-4 5 8 5 3 5-8 5-27 5 4 5 19 5-2 5 22 5-22 5-1 5 12 5 1 5-14 5 8 5-17 4 2 5 23 5-28 5 25 5-3 5 1 5 1 5-3 5-27 5 10 5 4 5 17 5-22 5 4 5 4 5 18 4-29 5 1 5 21 5-28 5 24 5-8 5-12 5 13 5-7 5 13 5 2 5 12 5-16 5 1 5-7 5 6 4 11 5-31 5 27 5-12 5 6 5 3 5 5 5-6 5-7 5 8 5-4 5-2 5 4 5 7 5-7 5 0 4-15 5 12 5-18 5 49 5-17 5 23 5 7 5-25 5 18 5-9 5-10 5-3 5 14 5 9 5-11 5-19 4 5 5 8 5 17 5-11 5 0 5 9 5-15 5 2 5-1 5-17 5 24 5-1 5 6 5-23 5 4 5 18 4-6 5 11 5-23 5 11 5-9 5 10 5-8 5 10 5 6 5-4 5-26 5 29 5-5 5-16 5 2 5 9 4 6 5-11 5-12 5 20 5-1 5 19 5-34 5 34 5-3 5-15 5 14 5-16 5 9 5-18 5 9 4-11 5-6 5 13 5-4 5 13 5 7 5-15 5 3 5 1 5-19 5 20 5-3 5 0 5-11 5-9 5 18 4 6 5 10 5-2 5 3 5-11 5 8 5-14 5 9 5 3 5 11 5-18 5-16 5 28 5-23 5 8 5-3 4-6 5 23 5-7 5-13 5 7 5-5 5 11 5-10 5-4 5 1 5 2 5 7 5-12 5 9 5 5 5 16 4-12 5-29 5 15 5 1 5 8 5 13 5-9 5-28 5 24 5-2 5 3 5 9 5-25 5 23 5-29 5 18 4 3 5 17 5-28 5-10 5 25 5-14 5 23 5-24 5-2 5 22 5-12 5 10 5-25 5 31 5-23 5 15 4-19 5-6 5 14 5 4 5 14 5-12 5 3 5 0 5 14 5-29 5 21 5-15 5 5 5-9 5 18 5-25 4-1 5 11 5-9 5 19 5 2 5-18 5 16 5-15 5 6 5 1 5 19 5-20 5-9 5-1 5 22 5-30 4 12 5 1 5-17 5 15 5 15 5-9 5-12 5 15 5-2 5 14 5-29 5 2 5 3 5-4 5 0 5-4 4-10 5-15 5 4 5-19 5-12 5-16 5-18 5-34 5-64 5-36 5-39 5-38 5-23 5 9 5 52 5 34 4 34 5 28 5 65 5 30 5 12 5 17 5-4 5 37 5-18 5 29 5 4 5-4 5 17 5-17 5 10 5 4 4-5 5-6 5 18 5-8 5-5 5 0 5 4 5 20 5-19 5-4 5-8 5-1 5-7 5 22 5-2 5-10 4-5 5 12 5-2 5-8 5 17 5-1 5-2 5 8 5-14 5 20 5-24 5 16 5 1 5-9 5 6 5-16 4-2 5 13 5-5 5 13 5-6 5 6 5-3 5-1 5-1 5-5 5 0 5 25 5-39 5 16 5 13 5-6 4 10 5-9 5-18 5 9 5-11 5 24 5 5 5-19 5 10 5-10 5-10 5 10 5-12 5 11 5 8 5 5 4 6 5-17 5 6 5 2 5 1 5-25 5 12 5 16 5-20 5 14 5 6 5-28 5 18 5 4 5-2 5-16 4 19 5-9 5 14 5-4 5-10 5 7 5-9 5 0 5-9 5 14 5 10 5-7 5-1 5-6 5 1 5 13 4-23 5 36 5-22 5 22 5-9 5-16 5 11 5-4 5 2 5 3 5-14 5 0 5 2 5-10 5 11 5 5 4 0 5 0 5-6 5 12 5-27 5 15 5 0 5 13 5-3 5 2 5-8 5 9 5-20 5 11 5-19 5 35 4-1 5-22 5-2 5-11 5 4 5 16 5-3 5-13 5 10 5-2 5 12 5 2 5-9 5 3 5-1 5-19 4 21 5-3 5 8 5-26 5 26 5-14 5 9 5 10 5-27 5 1 5 24 5-22 5 2 5 15 5-8 5 10 4-5 5-3 5 10 5 12 5-23 5 16 5-4 5-10 5 3 5-14 5 4 5 8 5-3 5 14 5-27 5 10 4-3 5 5 5 13 5-24 5 20 5-14 5 2 5 14 5-13 5 9 5-6 5-3 5-2 5-14 5 10 5 9 4 0 5-17 5 25 5-5 5-19 5 3 5 15 5-23 5 10 5 7 5-2 5 1 5 4 5-12 5 2 5 25 4-35 5 9 5 5 5-8 5 18 5-12 5 6 5-27 5 30 5-2 5-20 5 20 5-12 5 5 5 7 5-18 4-14 5 8 5-15 5 2 5-3 5-3 5 15 5-9 5-23 5 13 5-37 5-1 5-9 5-7 5-31 5-38 4-38 5-66 5-69 5-113 5-114 5-102 5-101 5-102 5-58 5-24 5 14 5 49 5 52 5 103 5 77 5 111 4 84 5 107 5 53 5 89 5 20 5 53 5 24 5 14 5 38 5-5 5 29 5-17 5 8 5-6 5 29 5 8 4-4 5-1 5-5 5 32 5-11 5-24 5 17 5-15 5 36 5 6 5-5 5-14 5-4 5-7 5 20 5-12 4 4 5-2 5 4 5 12 5 9 5-15 5-1 5-11 5-1 5 2 5 19 5-6 5 8 5-6 5-8 5-8 4 9 5-11 5 35 5-18 5-6 5 24 5-24 5 9 5-8 5 5 5-8 5 8 5 9 5-29 5-8 5 31 4-15 5 4 5-15 5 14 5-2 5-35 5 14 5-17 5-13 5 13 5 9 5-18 5 4 5 28 5-7 5 8 4-11 5 9 5 12 5 4 5 2 5 17 5-12 5-16 5 8 5 9 5 14 5-19 5 4 5 4 5-7 5-1 4 7 5 12 5-5 5-7 5 7 5-17 5 23 5-3 5-4 5-19 5 37 5-39 5 8 5 1 5 17 5-22 4 17 5-4 5-1 5 12 5 5 5-10 5-7 5-15 5 33 5-18 5-15 5 20 5 13 5-16 5-10 5 33 4-15 5-3 5 7 5-29 5 18 5-1 5 23 5-27 5 0 5-8 5 6 5 6 5 5 5-5 5 22 5-15 4 2 5 7 5-7 5-12 5-10 5 19 5-12 5 22 5-21 5-12 5 20 5 10 5-13 5 4 5 0 5 16 4-15 5-3 5-6 5-10 5 31 5-3 5-21 5 16 5-3 5-7 5 0 5 11 5-20 5 7 5 5 5 0 4-2 5 5 5 3 5-14 5 9 5-6 5 21 5-30 5 12 5 10 5-10 5-1 5-2 5 9 5-15 5 11 4 0 5-14 5 17 5-7 5 8 5 5 5-5 5-15 5 15 5-19 5 8 5 25 5-17 5 16 5-18 5 2 4-11 5 20 5-11 5 8 5-2 5 1 5-2 5-3 5 0 5-7 5-12 5 24 5 16 5-10 5 10 5-16 4-14 5 0 5 17 5-4 5-5 5 9 5-16 5 14 5-8 5 4 5 11 5-14 5 15 5 0 5-21 5 28 4-33 5 12 5 8 5-27 5 30 5 1 5-12 5 4 5-1 5-4 5 13 5-15 5 3 5 5 5 4 5 3 4-26 5-5 5 18 5 1 5-10 5 14 5 3 5-2 5 12 5-27 5 11 5 19 5-12 5-18 5 13 5 10 4 7 5-13 5 5 5-22 5 8 5 15 5-22 5 9 5-18 5 33 5-16 5 7 5-20 5 1 5 32 5-22 4-2 5 11 5 0 5-25 5 10 5 10 5-1 5 4 5-8 5 2 5 5 5-10 5-1 5 3 5 5 5-1 4-4 5 3 5 2 5 3 5 1 5-17 5 23 5-26 5 21 5-12 5 13 5 4 5-29 5 25 5-4 5-7 4 8 5-9 5 7 5-12 5 18 5-2 5 1 5-14 5 25 5 1 5-20 5-4 5 0 5 11 5 3 5-17 4-13 5 24 5-5 5 2 5 3 5-16 5 11 5-4 5 7 5 8 5-13 5-9 5 21 5-6 5-10 5-16 4 8 5 10 5 3 5-12 5 9 5-12 5 0 5 7 5-11 5 1 5 3 5-3 5-25 5-5 5-22 5-13 4 0 5-25 5-32 5 4 5-32 5-10 5-3 5-5 5-3 5-13 5 34 5 1 5 6 5 10 5 49 5 6 4 15 5 19 5 6 5-4 5 30 5 10 5 1 5 15 5 7 5-24 5 6 5 14 5-5 5 2 5 8 5-1 4-11 5 6 5-8 5 6 5-8 5-8 5 14 5 0 5 15 5 7 5-15 5 4 5-10 5-3 5 7 5 0 4 6 5-2 5 15 5-18 5-14 5 18 5-8 5 9 5 9 5-17 5 5 5 6 5-14 5 11 5 4 5 2 4 3 5-5 5-2 5-17 5-6 5 10 5 24 5-13 5-20 5 15 5 8 5-22 5 24 5-17 5 21 4-9 5 19 5-33 5 16 5-17 5 26 5-10 5 8 5-8 5-13 5 5 5-6 5 2 5 12 5 9 5-2 4-3 5-11 5 11 5-14 5 11 5 6 5-10 5-3 5 1 5 10 5-9 5-11 5 10 5-7 5 26 5-15 4-14 5 17 5 4 5-3 5-8 5 5 5 2 5 7 5-6 5 16 5-22 5 17 5-15 5-17 5 6 5-7 4 1 5 29 5-18 5 12 5-15 5 9 5-10 5 19 5-11 5-2 5 3 5 21 5-15 5 3 5-20 5 6 4 9 5-21 5 31 5-10 5-3 5-2 5 0 5-3 5 19 5-7 5 5 5-15 5-5 5 21 5-25 5 6 4 13 5 4 5-24 5 11 5 3 5-2 5-7 5 15 5-12 5 3 5-17 5 18 5-18 5 26 5-2 5-10 4 7 5-1 5-2 5 5 5-5 5-3 5-3 5 24 5-15 5-2 5 7 5-10 5 0 5 10 5 3 5-3 4-21 5 15 5-1 5 5 5-13 5-2 5 9 5-7 5-2 5 10 5 9 5-7 5 9 5-20 5 16 5-7 4-8 5 4 5-4 5 6 5-5 5 20 5-16 5-10 5 11 5 6 5-7 5 12 5-17 5 0 5 24 5-16 4 6 5-1 5 1 5-5 5-2 5 12 5-15 5 5 5 6 5-10 5-11 5 19 5 6 5-8 5-19 5 23 4 12 5-33 5-5 5 17 5 3 5 7 5 0 5-7 5 5 5-2 5-2 5-2 5-1 5 8 5-3 5-8 4 15 5-17 5 4 5 4 5-20 5 15 5 12 5-1 5-19 5 4 5-3 5 8 5 2 5-15 5 19 5-3 4-1 5-6 5 5 5-15 5 19 5 0 5-3 5-11 5 24 5-2 5-28 5 21 5-2 5-21 5 24 5 2 4 0 5-5 5-8 5 2 5 9 5 7 5-16 5 2 5 9 5-26 5 24 5-7 5-17 5 27 5-16 5 16 4 6 5-25 5 0 5 11 5-16 5 24 5-6 5 8 5-27 5 20 5 2 5-21 5 25 5-21 5 14 5-14 4 20 5 9 5-16 5 0 5 12 5-16 5 4 5 8 5-4 5 11 5-4 5 7 5-18 5 11 5-19 5 17 4 8 5 2 5-31 5 11 5 8 5-15 5 14 5 0 5-10 5-1 5-3 5 11 5 10 5-10 5 16 5-33 4 9 5 12 5-17 5 14 5 4 5-6 5-4 5 11 5-5 5 3 5-1 5-12 5-4 5 7 5 5 5-3 4 10 5-6 5 7 5-8 5-9 5 15 5-3 5-13 5 4 5 23 5-39 5 31 5-10 5-1 5-3 5-2 4 24 5-23 5 1 5 11 5-4 5-6 5-1 5-10 5 23 5-20 5-10 5 30 5-3 5-4 5-8 5 16 4-22 5-9 5 21 5 7 5-2 5 13 5-11 5-10 5 0 5 10 5-9 5-1 5-15 5 14 5-10 5 15 4-1 5 6 5 10 5-19 5 16 5-25 5 12 5 8 5 10 5-30 5 8 5 4 5-2 5-9 5-6 5 4 4 11 5-13 5 31 5-6 5-30 5 14 5 17 5 2 5-4 5-25 5 11 5 16 5-12 5-5 5 9 5 5 4-8 5 1 5 8 5-16 5-4 5 17 5-20 5 17 5-12 5 15 5-20 5 23 5-8 5-6 5-5 5 6 4-7 5-3 5 22 5-4 5 6 5-25 5-6 5 3 5 22 5 1 5-26 5 28 5-14 5-7 5 11 5 6 4-8 5 0 5-6 5-6 5 10 5-12 5 21 5-14 5 21 5-28 5 29 5-23 5 0 5 12 5 5 5-9 4-3 5 22 5-14 5-17 5 9 5 18 5-13 5 4 5 11 5-26 5 9 5-11 5 6 5 4 5-20 5 13 4-2 5 7 5-19 5-11 5 12 5-19 5 7 5-3 5-21 5 0 5-17 5-17 5-2 5-11 5 16 5-12 4 9 5 2 5 14 5-11 5 4 5 14 5 17 5-11 5 10 5 1 5 0 5-3 5 17 5 0 5 0 5 20 4-25 5 5 5-7 5 19 5-9 5 28 5-15 5 15 5 6 5-10 5 13 5-7 5-7 5 2 5 10 5 15 4-22 5 10 5-13 5 11 5-15 5 5 5 8 5-7 5 5 5 13 5-11 5-6 5-5 5 7 5 17 5-12 4-1 5 9 5 1 5 2 5-14 5-5 5-7 5 9 5 3 5 11 5-4 5-8 5 14 5-21 5 2 5-1 4 1 5 8 5-6 5 1 5 20 5-27 5 4 5 8 5 7 5 0 5-7 5-1 5 1 5 10 5-17 5-10 4 21 5-13 5 11 5 14 5-13 5 17 5-33 5 18 5 1 5 5 5-16 5 9 5 0 5-1 5-14 5-3 4 22 5-2 5-3 5 6 5 4 5-22 5 19 5 7 5-5 5-4 5 1 5-21 5 9 5 15 5 5 5-10 4-9 5 3 5 10 5 10 5-11 5-13 5 11 5-2 5 15 5-13 5-6 5-1 5-11 5 1 5 6 5-3 4 9 5-1 5 8 5 6 5-14 5-3 5-17 5 22 5 3 5-15 5 4 5-3 5 16 5-4 5 5 5-24 4 31 5-28 5-2 5 11 5-8 5 22 5-22 5-4 5 16 5 1 5-22 5 2 5 0 5-1 5 16 5-8 4-6 5-4 5-21 5-3 5-24 5-26 5-2 5-64 5-18 5-43 5-48 5-18 5-12 5 3 5 0 5 33 4 14 5 20 5-13 5 27 5 14 5 32 5 11 5 27 5 17 5 20 5 19 5 33 5-9 5-1 5 28 5-2 4 13 5 3 5-6 5 0 5 0 5 7 5-6 5 10 5 12 5-19 5 1 5 1 5 12 5 1 5 8 5-6 4-6 5 4 5-17 5 19 5-4 5 18 5-6 5-21 5 3 5 14 5-28 5 11 5 12 5 3 5-4 5 10 4-14 5 3 5-2 5-9 5 11 5-6 5 7 5-21 5 21 5-6 5-1 5 7 5-5 5 13 5 3 5-3 4 1 5-6 5-3 5-13 5 9 5 15 5-4 5-12 5 6 5 9 5-12 5 18 5-23 5 15 5-1 5-5 4 1 5 2 5-24 5 24 5 6 5-7 5 7 5-22 5 10 5 4 5-5 5 14 5-7 5-10 5 13 5 0 4-12 5 10 5-2 5 0 5-16 5 25 5-6 5-7 5 4 5 0 5-7 5-2 5 6 5-6 5 1 5-7 4 9 5 12 5-8 5-1 5-4 5-1 5-10 5 30 5-23 5-7 5 18 5-1 5-8 5-9 5 1 5 29 4-17 5-5 5 25 5-24 5-4 5 15 5-2 5 12 5-31 5 18 5-19 5 21 5-11 5 2 5-3 5 16 4 7 5-16 5-2 5-2 5 9 5-15 5 30 5-22 5 19 5-15 5-15 5-2 5 11 5-3 5 5 5-9 4 31 5 0 5-37 5 22 5 7 5-15 5 1 5 13 5-6 5-17 5 24 5-17 5 23 5-27 5-10 5 20 4 11 5-7 5-3 5-11 5 18 5-27 5 26 5-20 5 6 5-7 5 4 5 23 5-26 5 13 5-9 5 18 4-24 5 13 5 9 5 11 5-31 5 3 5 8 5 15 5-25 5 18 5-14 5-4 5-6 5 17 5 9 5-11 4-18 5 13 5 15 5-1 5-6 5 12 5-27 5 0 5 33 5-14 5-9 5-3 5-14 5 27 5-27 5 0 4 18 5 15 5-18 5 7 5-8 5 8 5-21 5 37 5-30 5 15 5-24 5 36 5-14 5 16 5-27 5 16 4-12 5 1 5 13 5-22 5 16 5 11 5-2 5-7 5-8 5-14 5 23 5-21 5 17 5-16 5 2 4-1 5 4 5-12 5 4 5-10 5 8 5-7 5-4 5-19 5 2 5-16 5-13 5-30 5-43 5-23 5-61 4-42 5-73 5-17 5-19 5-11 5 37 5 22 5 46 5 15 5-5 5 19 5-8 5 29 5 32 5 32 5 21 4 28 5 29 5 14 5 26 5 20 5 1 5 14 5-11 5 7 5 11 5 19 5-8 5 9 5-15 5 13 5-28 4 23 5-24 5 33 5-7 5 7 5-7 5-8 5-2 5 10 5 13 5-8 5-12 5 0 5-1 5 5 5 2 4-4 5 5 5-15 5 31 5-13 5 13 5-12 5-5 5 3 5 2 5-9 5 3 5 23 5-10 5-14 5 10 4-13 5 22 5-24 5 19 5-8 5 0 5-8 5 5 5-5 5-1 5 13 5 15 5-22 5 13 5-10 5-7 4 20 5-7 5 5 5-10 5 1 5-10 5 6 5 19 5-36 5 23 5 11 5-7 5 1 5-11 5 14 5 0 4-12 5 17 5-21 5-15 5 20 5-1 5-8 5 4 5 0 5-13 5 30 5-12 5 19 5-19 5 4 5-19 4 25 5-21 5 16 5 4 5-2 5-15 5 0 5 15 5 5 5 2 5-14 5-1 5 19 5-24 5 13 5-10 4-11 5 3 5 15 5-2 5 3 5-8 5-2 5 8 5-5 5-14 5 12 5 21 5-24 5 12 5-6 5 8 4-15 5-4 5 16 5-11 5 7 5-3 5 12 5-6 5-2 5-10 5-6 5 7 5 16 5-1 5-1 5-10 4-6 5 21 5-9 5 3 5-14 5 2 5 13 5 1 5-17 5 13 5-14 5 23 5-5 5 12 5-4 5-21 4 8 5-7 5 6 5 7 5-8 5 1 5-14 5 19 5-6 5 6 5 4 5-10 5 7 5-13 5 15 5-9 4-6 5 4 5-12 5 8 5 2 5 4 5-1 5-5 5 4 5-17 5 20 5 4 5 3 5 3 5-13 5 1 4-4 5 0 5 6 5 12 5-29 5 11 5 8 5-13 5 14 5-17 5 10 5-13 5 19 5-11 5 14 5-9 4-6 5 5 5 5 5-1 5-3 5-1 5 4 5 8 5-14 5 10 5-17 5 22 5-6 5-7 5 1 5-14 4 18 5-4 5-11 5 10 5 9 5-3 5 0 5-7 5 13 5-8 5 8 5 12 5-39 5 14 5 5 5-7 4 17 5-13 5 19 5-9 5-3 5-4 5 8 5-3 5 9 5-10 5 6 5-6 5-1 5-18 5 15 5 4 4-15 5-2 5 10 5 6 5-19 5 19 5 6 5-11 5 4 5 3 5-11 5 12 5-2 5-16 5 17 5 4 4-19 5 18 5-10 5-11 5 3 5 2 5 13 5-10 5 1 5-8 5 12 5-12 5 6 5 12 5 0 5-11 4 5 5 5 5-5 5 12 5 1 5-14 5-11 5 11 5 14 5-2 5 0 5 0 5-16 5 8 5 8 5-8 4 6 5-19 5-2 5 31 5-12 5-1 5 8 5 5 5 0 5-39 5 24 5 6 5-28 5 1 5 15 5 20 4-9 5 10 5-16 5 7 5 5 5-11 5-4 5 1 5-21 5 23 5-21 5 10 5 15 5-3 5-24 5 25 4 2 5-5 5 4 5-1 5-22 5 15 5-1 5-9 5 11 5-8 5 8 5-8 5 19 5 9 5-25 5 6 4 0 5 3 5-6 5-17 5 22 5-4 5-10 5 9 5-3 5 7 5-5 5 0 5 4 5 1 5-2 5 11 4-9 5-10 5 24 5-16 5 14 5-26 5 16 5 11 5-4 5-12 5-7 5 0 5 4 5-8 5 2 5-3 4 0 5 12 5-20 5 18 5 5 5-17 5 0 5 8 5-1 5 9 5-30 5 18 5 13 5-14 5 15 5 0 4-26 5 18 5-12 5-7 5-5 5-2 5-9 5 5 5 9 5 1 5-18 5 7 5-2 5-25 5 26 5-19 4 0 5 20 5 9 5-26 5 3 5 0 5 6 5 3 5-3 5-5 5 35 5-20 5-1 5 18 5-10 5 16 4-1 5 4 5-12 5 12 5-20 5 3 5 15 5-3 5 17 5-14 5-14 5 18 5-3 5 6 5-13 5 4 4 9 5 7 5-3 5 3 5-21 5 13 5 4 5 7 5-6 5-5 5 1 5 1 5-13 5 14 5 8 5-1 4-25 5 18 5-14 5 25 5-5 5 1 5-13 5-12 5 8 5 7 5-11 5 5 5 27 5-30 5 18 5-23 4 20 5 6 5-4 5 8 5 5 5-30 5 16 5 2 5-1 5 11 5-12 5 9 5-1 5-9 5 3 5-12 4 10 5-1 5-3 5-3 5 14 5-11 5 20 5-6 5-5 5-13 5 14 5-7 5-1 5-12 5 17 5-4 4-7 5-2 5 4 5-10 5 7 5 19 5-20 5 25 5-32 5 24 5 0 5 0 5-5 5-22 5 27 5-1 4-10 5-21 5 30 5-19 5 6 5 14 5 1 5-10 5-9 5 21 5-6 5-13 5-9 5 12 5-17 5 29 4-14 5-11 5 5 5-23 5 12 5-10 5-14 5 3 5 4 5-25 5 5 5-20 5 9 5-25 5 19 5-3 4 1 5 10 5-14 5 3 5 8 5-7 5-11 5 10 5 2 5 17 5-4 5 6 5 14 5 2 5 22 5-15 4-4 5 26 5-13 5 6 5 14 5-6 5 7 5-11 5 4 5 11 5-11 5 2 5 4 5 17 5-1 5-12 4-1 5-7 5 19 5-8 5 5 5-23 5 21 5-7 5 6 5 2 5-11 5-5 5 8 5-21 5 22 5-16 4-20 5 17 5-10 5-1 5-11 5-7 5-4 5-6 5 23 5 4 5-6 5 13 5-13 5 19 5-9 5 0 4-8 5 18 5-5 5-3 5 14 5-3 5 16 5-22 5 5 5 31 5-22 5 11 5-8 5 7 5 16 5-37 4 25 5-5 5 0 5-8 5-1 5 23 5-9 5-16 5 12 5-13 5 31 5-14 5-22 5 27 5-3 5-3 4-1 5-7 5 3 5-17 5 32 5 6 5-14 5 1 5-19 5 9 5-9 5 1 5 18 5 8 5-14 5 19 4-10 5-28 5 16 5 16 5-11 5 9 5-27 5 29 5-24 5 15 5 16 5-19 5-3 5 10 5-15 5-2 4 19 5-24 5 3 5 29 5-29 5 16 5 7 5-12 5-10 5 19 5-17 5 28 5 0 5-29 5 15 5-12 4 10 5-6 5-7 5 15 5-21 5 19 5-5 5-6 5 17 5-9 5-4 5 2 5 0 5 11 5-12 5-17 4 0 5 9 5-2 5 10 5-11 5 6 5 21 5-26 5 21 5-10 5 14 5-4 5-8 5 10 5-8 5-13 4 16 5 0 5-6 5 3 5-6 5 7 5-6 5-12 5 12 5 19 5-8 5 7 5-15 5-4 5-6 5 11 4 9 5-2 5-1 5-12 5 6 5-9 5 16 5-2 5-12 5 7 5-21 5 27 5-15 5 4 5 10 5 0 4-13 5 22 5 3 5-4 5-2 5-12 5 13 5-22 5-2 5 12 5 1 5-11 5 25 5-31 5-6 5 16 4 20 5-9 5-4 5-2 5 3 5-2 5-3 5-2 5-15 5 25 5-14 5 7 5 0 5 5 5-19 5 15 4-1 5-10 5-1 5 1 5-12 5 4 5-8 5 22 5-20 5-3 5 12 5 3 5-8 5-6 5 14 5 5 4-24 5 25 5-25 5 24 5-10 5 3 5 10 5 8 5 6 5-5 5-6 5-19 5 10 5 6 5-7 5 12 4-7 5 20 5-18 5-11 5 8 5-2 5 15 5 7"/>
<path transform="scale(.1)" fill="none" stroke="#000080" stroke-width="70" stroke-linejoin="round" d="M1148 4144l5-54 5 33 5-14 5 2 5 3 5-24 5 24 4-8 5 38 5-24 5-8 5 1 5-5 5-5 5 9 5 12 5-10 5 16 5-15 5 2 5 21 5-14 5-13 4 4 5 9 5 19 5-29 5 0 5 16 5-24 5 7 5 16 5-4 5-7 5 8 5-35 5 40 5-26 5-9 4 25 5 6 5-15 5-9 5 15 5-1 5 19 5-9 5-7 5 12 5-17 5-10 5 20 5 0 5-10 5-8 4 13 5-28 5 34 5-2 5-28 5 22 5-13 5 22 5-35 5 14 5 21 5 6 5-41 5 19 5 11 5-12 4 28 5-36 5 20 5-18 5 32 5-19 5-4 5-17 5 43 5-12 5 0 5 5 5-10 5-12 5-2 5 0 4 27 5-36 5 11 5 4 5 7 5 4 5-23 5-6 5 22 5 15 5-6 5-6 5-7 5 8 5-7 5 13 4-20 5 12 5-3 5 8 5-4 5 22 5-6 5 0 5-44 5 21 5-4 5 15 5-32 5 40 5-1 5-30 4 4 5 2 5 11 5 7 5 17 5-27 5 12 5-8 5 20 5-13 5 8 5-30 5 11 5-8 5 29 5-11 4-12 5-1 5 11 5-15 5-2 5 17 5 19 5-28 5-4 5-7 5-2 5 23 5 4 5-11 5 4 5-2 4 0 5-21 5 14 5 7 5-11 5 3 5-4 5 6 5 15 5-16 5 4 5 12 5-3 5 13 5-45 5 35 4-16 5 7 5 9 5 3 5-1 5-11 5 18 5-23 5 2 5 11 5-16 5 31 5-12 5 12 5-25 5-4 4 7 5 7 5-17 5 12 5-5 5 21 5-28 5 21 5-21 5-4 5 3 5-6 5 17 5 10 5-10 5 5 4 13 5-17 5-1 5-6 5-16 5 29 5-31 5 30 5-8 5 14 5-15 5-9 5 14 5-11 5 5 5 2 4-2 5 0 5-8 5 8 5-22 5 22 5-13 5 29 5 1 5-39 5 26 5-4 5-11 5 19 5-12 5-15 4 18 5 1 5 3 5-16 5 23 5 1 5-23 5 6 5 7 5-6 5 28 5-18 5-15 5 3 5 8 5 25 4-26 5 4 5 4 5-6 5 24 5-30 5 15 5-7 5 6 5-22 5 35 5-22 5 2 5-12 5 3 5 15 4 5 5-3 5 6 5-6 5-8 5 9 5-3 5-8 5 10 5 7 5-13 5-7 5 13 5 14 5-25 5 1 4 0 5 16 5-36 5 26 5 10 5-24 5 27 5-11 5-13 5 9 5-21 5 12 5 28 5-32 5 32 5-22 4 12 5-11 5-24 5 17 5 9 5-16 5-2 5 20 5-12 5-12 5 12 5 18 5-16 5 17 5 7 5-18 4-14 5-2 5 15 5 11 5-7 5 3 5-11 5 8 5-9 5 2 5-11 5-4 5 13 5-7 5 2 5 19 4-9 5 24 5-12 5-19 5 17 5-5 5-12 5 21 5-22 5-14 5 32 5-16 5 24 5-25 5-6 5 32 4-31 5 15 5 15 5-16 5-2 5 2 5 9 5-19 5 16 5 0 5 16 5-27 5-7 5 20 5-14 5 8 4-1 5 12 5-22 5 7 5-22 5 13 5 28 5-26 5 0 5-6 5 21 5-5 5-16 5 22 5-5 5 6 4-16 5 27 5-15 5-6 5-5 5 3 5 13 5-13 5 16 5-6 5 9 5-6 5-11 5-21 5 26 5 5 4-7 5 5 5-12 5 1 5-7 5 27 5-14 5-8 5-9 5 13 5 19 5-12 5-13 5 24 5 0 5-5 4-2 5 4 5-7 5 2 5-17 5 26 5-15 5 20 5-46 5 31 5 3 5-16 5 9 5 3 5-2 5-13 4 4 5 12 5 2 5-15 5-2 5-2 5 5 5-31 5-12 5 4 5-28 5-8 5-1 5 3 5-12 5 33 4-16 5 40 5-14 5 12 5 28 5-8 5-2 5 6 5 12 5-5 5 1 5 12 5-19 5 3 5 0 5 19 4-2 5 4 5-15 5-1 5 11 5-14 5 14 5-1 5-16 5 7 5 0 5 21 5 3 5-24 5 2 5-23 4 25 5-2 5-12 5 21 5-27 5 15 5 4 5-15 5 24 5 2 5-28 5 0 5 23 5-7 5-14 5 11 4 2 5-1 5 11 5-5 5 16 5-4 5-8 5 4 5 3 5-7 5-22 5 24 5-76 5 60 5-35 5 26 4-32 5 4 5 4 5-33 5-2 5-26 5 60 5 19 5-58 5 46 5-73 5 25 5 43 5-41 5 43 5-25 4 35 5-27 5-38 5 46 5 23 5-30 5 43 5-52 5 12 5 60 5-61 5-26 5 54 5-12 5-24 5 31 4-60 5 88 5 23 5-47 5-74 5 116 5-9 5-9 5-83 5 34 5 6 5 7 5 38 5-10 5-102 5 56 4 5 5 56 5-52 5-37 5 33 5 33 5-94 5 110 5-24 5 26 5-38 5-5 5 41 5 33 5-90 5 14 4 49 5-48 5-14 5 31 5-38 5 12 5-54 5 78 5 48 5-18 5 7 5-49 5-47 5 62 5-6 5 0 4 14 5-49 5 25 5 41 5-14 5-6 5 9 5-11 5-68 5 0 5 55 5-52 5 73 5-69 5 35 5 6 4-24 5 1 5 19 5 9 5-10 5 7 5 35 5-35 5-66 5-69 5-18 5 46 5 51 5 134 5-17 5-52 4 21 5 17 5 15 5-18 5-73 5 92 5-90 5 13 5-1 5-46 5 7 5 117 5 4 5-99 5-10 5 105 4-75 5 30 5 62 5-45 5 17 5-21 5-93 5 51 5-50 5 83 5-75 5 54 5-1 5-16 5 40 5-39 4-3 5 43 5-33 5-39 5 84 5-88 5 64 5 9 5-28 5 1 5 11 5 1 5-40 5 62 5-60 5 8 4 54 5-57 5-12 5 59 5-4 5-20 5 73 5-92 5 83 5-26 5 30 5-40 5-19 5 15 5-2 5 17 4 42 5-112 5 71 5-16 5-28 5-23 5 59 5-82 5 96 5-83 5 47 5 4 5 23 5-69 5 57 5 19 4 19 5-44 5-5 5-84 5 68 5 67 5-65 5 9 5 2 5 9 5-72 5 122 5-38 5-11 5-28 5 81 4-74 5 14 5-74 5-32 5 21 5 78 5 17 5-28 5 17 5-43 5 19 5 11 5-17 5 49 5-8 5 40 4-35 5-34 5 30 5-56 5 62 5-26 5 49 5-71 5 29 5-29 5 58 5-10 5-48 5 84 5-48 5-44 4-4 5-16 5 16 5 25 5-42 5 53 5-54 5 30 5 81 5-69 5 17 5 58 5-65 5 32 5-52 5 12 4 10 5-14 5-5 5 49 5 0 5-10 5 4 5-54 5 51 5-1 5-57 5-17 5 75 5 15 5-14 5-61 4 85 5-88 5 78 5-37 5 41 5-12 5-44 5 26 5-12 5 7 5-27 5 2 5 55 5 6 5-34 5-38 4 53 5-6 5 9 5-40 5-9 5 65 5-73 5 34 5-43 5 37 5-10 5 9 5 41 5-58 5 50 5-28 4-7 5-26 5 43 5 25 5-72 5 14 5-37 5 57 5-38 5 57 5-28 5 46 5-37 5-42 5 63 5-27 4 91 5-70 5 19 5 5 5-44 5-47 5 44 5 16 5-1 5-2 5 27 5-60 5 26 5-32 5 33 5 30 4-74 5 43 5 11 5 26 5-20 5-18 5 51 5-22 5-82 5 6 5-63 5 8 5 67 5 4 5-19 5 117 4-90 5 30 5 21 5 40 5-64 5 49 5-75 5 31 5 6 5-27 5 21 5 36 5 23 5-21 5-67 5 18 4 29 5-10 5 22 5-33 5-13 5 20 5 2 5 36 5-50 5 33 5 15 5 12 5 19 5-97 5-13 4 38 5-31 5 1 5 62 5-19 5 32 5-20 5 16 5-18 5-4 5 50 5-97 5 69 5-80 5 108 5-80 4-8 5-39 5 43 5 79 5-50 5-49 5-20 5 131 5-86 5-39 5 63 5 21 5 12 5-40 5 0 5 30 4-54 5 30 5 6 5 2 5-56 5 15 5 25 5 36 5-76 5 8 5 28 5 1 5 49 5-28 5 22 5-38 4 5 5 1 5 41 5-37 5 21 5-31 5 33 5-10 5-40 5 69 5-19 5-36 5-9 5 45 5-66 5 50 4-34 5 29 5-39 5 20 5 56 5-8 5-67 5 37 5-62 5 63 5 16 5-37 5 3 5 16 5-19 5 9 4 67 5-41 5-12 5 52 5-52 5 13 5-18 5-35 5 70 5-75 5 36 5-46 5 22 5-60 5 8 5 38 4 63 5-65 5 47 5-11 5-32 5 27 5 8 5-4 5 9 5 22 5-4 5-23 5-30 5 70 5-46 5 5 4-43 5 30 5-5 5-28 5-4 5 18 5 46 5 13 5 11 5 10 5-66 5-13 5 50 5-40 5 60 5 5 4-70 5 44 5 28 5-38 5-28 5 29 5 2 5-29 5 36 5-34 5 4 5-8 5 37 5-36 5 19 5-68 4 63 5-14 5 2 5-10 5-2 5 30 5 16 5-17 5-9 5 10 5 12 5 15 5-3 5-9 5 12 5-29 4 2 5-3 5 17 5 16 5-10 5-14 5-8 5 41 5-6 5-27 5 26 5-6 5 12 5-8 5 5 5-6 4-13 5 7 5-4 5 16 5-20 5-5 5 23 5 5 5 3 5-4 5-27 5 9 5 1 5 6 5-21 5 21 4 3 5-13 5 11 5 11 5-12 5 11 5 0 5-7 5 0 5-8 5 17 5-18 5-2 5 14 5-15 5 12 4 7 5-10 5 0 5 9 5-2 5-24 5 2 5 28 5-10 5-25 5 7 5 14 5-10 5 15 5-4 5 4 4-17 5 18 5 14 5-28 5 22 5-4 5-3 5-8 5-11 5 3 5 17 5 2 5 3 5-3 5-1 5-14 4-8 5 15 5 3 5-4 5-17 5 10 5-10 5 17 5-12 5 9 5 5 5-2 5 13 5-26 5-9 5 31 4 5 5 0 5-12 5 2 5-4 5-15 5 8 5 11 5-11 5 26 5-36 5 11 5 16 5-18 5-5 5-3 4 7 5 24 5-12 5 1 5-11 5 15 5-8 5-11 5 5 5 7 5 10 5-13 5 6 5 15 5-29 5-4 4 23 5-6 5-6 5 4 5-6 5 9 5-9 5 12 5-21 5 4 5 10 5-7 5 13 5-8 5-5 5 7 4-7 5-11 5 4 5 4 5 3 5 6 5 9 5-4 5 13 5-6 5-15 5 19 5-5 5-17 5 8 5 8 4-9 5 8 5-6 5 3 5-11 5 8 5-8 5 11 5-25 5 21 5 9 5-7 5-6 5 6 5-15 5 0 4 5 5 2 5 12 5-20 5 20 5-27 5 8 5 8 5 12 5-18 5-15 5 25 5-5 5-11 5 1 5 3 4 8 5 6 5-23 5 36 5-21 5-4 5 11 5-6 5 19 5-9 5-16 5 0 5-2 5 2 5 10 5-14 4 23 5-18 5-1 5 11 5-32 5 11 5 15 5-7 5-1 5 4 5-11 5 3 5-13 5-7 5 32 5-25 4 1 5 20 5-5 5-19 5-2 5 1 5-12 5 12 5-8 5-6 5 1 5-8 5 2 5-16 5-51 5 5 4-52 5-45 5-33 5-85 5-83 5-87 5-131 5-116 5-85 5-55 5-28 5-4 5 56 5 72 5 106 5 85 4 99 5 98 5 67 5 77 5 56 5 27 5 43 5 31 5 1 5 34 5 10 5 11 5-12 5 14 5 19 5-3 4-13 5 13 5 15 5-13 5 6 5 19 5-20 5 1 5-8 5 5 5 23 5-16 5-10 5 3 5 11 5 8 4-15 5 16 5-12 5 9 5 2 5 2 5-11 5 3 5 7 5-18 5 15 5 4 5 6 5-11 5-2 5 4 4-9 5 5 5 7 5-1 5-14 5 7 5-17 5 29 5-14 5 7 5-14 5 10 5 5 5 5 5-26 5 21 4-12 5-9 5 10 5-11 5-4 5-9 5 5 5-6 5-5 5-11 5 4 5 10 5 11 5-12 5 19 5-11 4-7 5 22 5-13 5 18 5 10 5-12 5 4 5 24 5-17 5 1 5 7 5-9 5 1 5 5 5-24 5 36 4-26 5 0 5 17 5-5 5-13 5 16 5-14 5 4 5-8 5 7 5 13 5-3 5 2 5 7 5-10 5-6 4 4 5 20 5-17 5 3 5-4 5 3 5 2 5-4 5-2 5-6 5-1 5 13 5 4 5 2 5-9 5-9 4 15 5 0 5-22 5 24 5-3 5 12 5-29 5-2 5 21 5-26 5 11 5-4 5 1 5-9 5 17 5 13 4-6 5 0 5-8 5 19 5-10 5 6 5-27 5 19 5-15 5 15 5-1 5-14 5 14 5 10 5-7 5 1 4-15 5 2 5-5 5 13 5 11 5-8 5-4 5-12 5 17 5-7 5-18 5 2 5 15 5-6 5 26 5-17 4-11 5 6 5 22 5-27 5 18 5-3 5 10 5-9 5-10 5 10 5-5 5 9 5-10 5 21 5-22 5 6 4-12 5 9 5-1 5 1 5 8 5-15 5-3 5 20 5-15 5-4 5 19 5-4 5-29 5 17 5 12 5 1 4-14 5 22 5-25 5 6 5 4 5-2 5 9 5 2 5-11 5 15 5-22 5 5 5 20 5-16 5 10 5-16 4 2 5 2 5 2 5-5 5 4 5 7 5 5 5-11 5 5 5 3 5-20 5-6 5 33 5-3 5-13 5 3 4-13 5-5 5 18 5-19 5 25 5-16 5 10 5 17 5-1 5-22 5 14 5-22 5 5 5 9 5 11 5-20 4 11 5-4 5-14 5 11 5 17 5-16 5 6 5 3 5-16 5 20 5 3 5 1 5-3 5-18 5-1 5-3 4-1 5 1 5 19 5 5 5-22 5 15 5-22 5 10 5-7 5-6 5 17 5 0 5-5 5-1 5-5 5 9 4-5 5 9 5-15 5 15 5 3 5 7 5-2 5-9 5-9 5-12 5 19 5 15 5 2 5-38 5 13 5 5 4-8 5 13 5-2 5-5 5 5 5-16 5 6 5 1 5 18 5-26 5 15 5 10 5-9 5 9 5-15 5 11 4 5 5 11 5-13 5 7 5-14 5 1 5 15 5-11 5 9 5-7 5 13 5 0 5-30 5 28 5-15 5 1 4-6 5 8 5-19 5 4 5-1 5 11 5 6 5-2 5-4 5-10 5-12 5 22 5-3 5 2 5 10 5-17 4-1 5-19 5 26 5-7 5-8 5 10 5-16 5 4 5 24 5-15 5-2 5-7 5-8 5-13 5 6 5-37 4-12 5-34 5-29 5-44 5-23 5 22 5-4 5-14 5 15 5 19 5-2 5 46 5-9 5 24 5 7 5 54 4 0 5 28 5-18 5 21 5 2 5 5 5 22 5 2 5-5 5-17 5 15 5 5 5-7 5 1 5-1 5-13 4 12 5 15 5-27 5 11 5 9 5-23 5 13 5-16 5 12 5-8 5 5 5 4 5 3 5 1 5-19 5 37 4-19 5-8 5 5 5 9 5-13 5 6 5 0 5 10 5-13 5 12 5-1 5-5 5 15 5-13 5-12 5 15 4-2 5-1 5 2 5 19 5-18 5 2 5-7 5 16 5-14 5-8 5-4 5 18 5 2 5-24 5 9 4 14 5 4 5-24 5 9 5 13 5-14 5 1 5-1 5-8 5 14 5 3 5-18 5 16 5 10 5-9 5 7 4-15 5 20 5-22 5 27 5-24 5-3 5-2 5 5 5 0 5-2 5 3 5 11 5 2 5-13 5 16 5-23 4 0 5-1 5 18 5-22 5 1 5 28 5 4 5-3 5-30 5 16 5 8 5-7 5-18 5 13 5-14 5 5 4 34 5-14 5-22 5-1 5 21 5-11 5 12 5-13 5 5 5 4 5-13 5-9 5 8 5 5 5 5 5 1 4 0 5 6 5-14 5 23 5 7 5-17 5-2 5 11 5-6 5-5 5-4 5-6 5-4 5 19 5 5 5-23 4 10 5 3 5-6 5-4 5 4 5-16 5 19 5-2 5 24 5-11 5-14 5 4 5 18 5-2 5-14 5-3 4-14 5 12 5 1 5-6 5 26 5-37 5 18 5 5 5 0 5 13 5-31 5 6 5 9 5 0 5-5 5-4 4 19 5-22 5 5 5 21 5 3 5-9 5-18 5 0 5 0 5-3 5 8 5 17 5-11 5-10 5 0 5-4 4 24 5-32 5 23 5-18 5 4 5-4 5 25 5-11 5 22 5-32 5 0 5 17 5 0 5-9 5-17 5 35 4-9 5-2 5-10 5 12 5-12 5 6 5-2 5 15 5-18 5 1 5 15 5-9 5-2 5-3 5 13 5-17 4 12 5 16 5-17 5-12 5-5 5 14 5-14 5-4 5 9 5-4 5 21 5-24 5 31 5-24 5 9 5 6 4-5 5 5 5-18 5-9 5 18 5-16 5 12 5 15 5-11 5-5 5-5 5 9 5 1 5-15 5 20 5-15 4 14 5-7 5 15 5-2 5-8 5-2 5 6 5 10 5-3 5-10 5 2 5 13 5-33 5 22 5-15 5 24 4-19 5 4 5-10 5 11 5 8 5 9 5-30 5 9 5 25 5-11 5-10 5 6 5-26 5 37 5-15 5-17 4 27 5-18 5-4 5 16 5-2 5-8 5 4 5-14 5-1 5 25 5 4 5-9 5-1 5-8 5 3 5-8 4 27 5-23 5 10 5-5 5-14 5 34 5-23 5-5 5 10 5-11 5 10 5-11 5 16 5-5 5-15 5 25 4-9 5-13 5 15 5 1 5 15 5-28 5 17 5-10 5 8 5-9 5 2 5 6 5-18 5-8 5 20 5-4 4 5 5 6 5-9 5 15 5-13 5 2 5 7 5-2 5-7 5 2 5-9 5 1 5 8 5 7 5-13 5 13 4 12 5 0 5-20 5 11 5-5 5 2 5 0 5-3 5 3 5-6 5-5 5 6 5 2 5 8 5-9 5 4 4 7 5-25 5 7 5 9 5-6 5-10 5 20 5-11 5-9 5 29 5-32 5 13 5-7 5 8 5 5 5-15 4 8 5 0 5-9 5 22 5-10 5-5 5-4 5 3 5 5 5-6 5 18 5-34 5 0 5 18 5-16 5 18 4-6 5 13 5-2 5 9 5-4 5 4 5-8 5 6 5-6 5-11 5-7 5 0 5 18 5-26 5 23 5-10 4 15 5-5 5-10 5 8 5-21 5 23 5 2 5-23 5 28 5-11 5 3 5-16 5 21 5 0 5-6 5-10 4 18 5 4 5-8 5 6 5-16 5 7 5 3 5-3 5 19 5-16 5-10 5 14 5-19 5 15 5 4 5-13 4 1 5-6 5 11 5-8 5 25 5-12 5-9 5-12 5 34 5-6 5-8 5-3 5-1 5-6 5 24 5-17 4-17 5 8 5-15 5 28 5 1 5 10 5 2 5-28 5 13 5 5 5-2 5-14 5 14 5-3 5 8 5-14 4-2 5-3 5 1 5-4 5 4 5 8 5 0 5 8 5-3 5-5 5-18 5 17 5 6 5-26 5 1 5 1 4-2 5 6 5-8 5 12 5-19 5 8 5-7 5-8 5 16 5-16 5-1 5-15 5 4 5-8 5-15 5-23 4 21 5-5 5-7 5 1 5 0 5 4 5-9 5 14 5 8 5-4 5 2 5 35 5-6 5-4 5 3 5-11 4 11 5 16 5 19 5-32 5 16 5 29 5-11 5-2 5 9 5-12 5 0 5 10 5 1 5-19 5 27 5-33 4 11 5 27 5-25 5 13 5-17 5 7 5-4 5 4 5 10 5 12 5-9 5 7 5-21 5 20 5-9 5 9 4-19 5 2 5 17 5-8 5-5 5-8 5 6 5 6 5 2 5-13 5 2 5 8 5-15 5 21 5-10 5-2 4-19 5 4 5 6 5 5 5-6 5 16 5-3 5-4 5-18 5 35 5-17 5 9 5-13 5 7 5 7 5-5 4 8 5-12 5 22 5-40 5 14 5 16 5-13 5-2 5-14 5 31 5-32 5 25 5-3 5 7 5 6 5-23 4-1 5 5 5-14 5 26 5-13 5 6 5-13 5 11 5-6 5 5 5-10 5 22 5-18 5-13 5 27 5-10 4-6 5 30 5-22 5-13 5 7 5 11 5-7 5 15 5-2 5-19 5 9 5 6 5-11 5-1 5 14 5-4 4-20 5 9 5 1 5 3 5-6 5 21 5-24 5-1 5 13 5-23 5 10 5 16 5-20 5 5 5 19 5-7 4-4 5 1 5-9 5 9 5-6 5 23 5-17 5-9 5 2 5-1 5-16 5 5 5 22 5-33 5 6 5 13 4 0 5-33 5 16 5-32 5 3 5-36 5-38 5-25 5-40 5-53 5-3 5-41 5 16 5-2 5 7 5 27 4 26 5 19 5 21 5-3 5 16 5 14 5 37 5 26 5-4 5 50 5 11 5 19 5-23 5 15 5 4 5-11 4 7 5 1 5 17 5 0 5 11 5-17 5-10 5 20 5 0 5 3 5 7 5-18 5 14 5-18 5 12 5 6 4-8 5 4 5-17 5 8 5 9 5-14 5 4 5 29 5-18 5-11 5-2 5 25 5-34 5 16 5 10 5-12 4 11 5-16 5 11 5 0 5 0 5 2 5-1 5 11 5-14 5-4 5 3 5 0 5-12 5-4 5 6 5 16 4-9 5 2 5 26 5-10 5-14 5-4 5 21 5-22 5 20 5-6 5 8 5-22 5 17 5-28 5 17 5 13 4-4 5-26 5 26 5-2 5-6 5-7 5 5 5-3 5 16 5-5 5 6 5-4 5-20 5 14 5 21 5-33 4 14 5-11 5-1 5 11 5 8 5-2 5-3 5 5 5-27 5 25 5-4 5-6 5 2 5-9 5 21 5-20 4-7 5 15 5-6 5 5 5 17 5-17 5 2 5 21 5-36 5 18 5 8 5 4 5 6 5-29 5 14 5-8 4-3 5-3 5-8 5 19 5 4 5-19 5 19 5-13 5-5 5-9 5 31 5-4 5-11 5-1 5-9 5 19 4-6 5 6 5-4 5-16 5-2 5 21 5-22 5 20 5 7 5-23 5 20 5-6 5 5 5-12 5 6 5 5 4 15 5-12 5-2 5-19 5 17 5-10 5 6 5 4 5 7 5-4 5-4 5-3 5 15 5-23 5 9 5 14 4-16 5 11 5 0 5 11 5-8 5-29 5 17 5 3 5 5 5-4 5 15 5-8 5-24 5 6 5-13 5 37 4-19 5 0 5-15 5 12 5 8 5-8 5 0 5-3 5 27 5-26 5-10 5 10 5 2 5 2 5-2 5-9 4 10 5 6 5-19 5 35 5-3 5-36 5 15 5 14 5 3 5 5 5-37 5 6 5 7 5 11 5-17 5 15 4 0 5 3 5-21 5 15 5-1 5-5 5 18 5-17 5 18 5-21 5 23 5 0 5-26 5 12 5-1 5-13 4 18 5-3 5-15 5 10 5 8 5-12 5-6 5 24 5-28 5 13 5 8 5-4 5-29 5 15 5 1 4-2 5 8 5-3 5-6 5-1 5 6 5-1 5-36 5 36 5-33 5 6 5-37 5-3 5-29 5-4 5-38 4-55 5-54 5-52 5-70 5-41 5-25 5 21 5 16 5 20 5 49 5 26 5 25 5-10 5 20 5 33 5 2 4 32 5 43 5 22 5 34 5 19 5 16 5 32 5-2 5 2 5 13 5 6 5 9 5 9 5 11 5-29 5 12 4-15 5 22 5 5 5-12 5-2 5 0 5-4 5 23 5 13 5-31 5 30 5-18 5-13 5 21 5 2 5-4 4-6 5 20 5-20 5 10 5 0 5-16 5-9 5 1 5 14 5 8 5-22 5 11 5 24 5-35 5 24 5-1 4 4 5-23 5 19 5-18 5 28 5-23 5 13 5-12 5 10 5-17 5 19 5 3 5-6 5 17 5-13 5 4 4-3 5 15 5-27 5 4 5 1 5 9 5-4 5 6 5-6 5-8 5 5 5 5 5-24 5 34 5-20 5 2 4 6 5-5 5-12 5 13 5 16 5-3 5 2 5-19 5 4 5 13 5 5 5-15 5-11 5-10 5 35 5-30 4 20 5 5 5 11 5-18 5-3 5 6 5 0 5 9 5-7 5-15 5-12 5 23 5-10 5 22 5-29 5 16 4-10 5-1 5 27 5-16 5-4 5 10 5-16 5 4 5-3 5 28 5-17 5 3 5 5 5-14 5 1 5-16 4 22 5-2 5-7 5 17 5-32 5 24 5-19 5 2 5 10 5 16 5-26 5 2 5-3 5 34 5-15 5-1 4 16 5-18 5-23 5 15 5-7 5 33 5-36 5 19 5-9 5 1 5 5 5-2 5-6 5-6 5 6 5-4 4 2 5 11 5-3 5 7 5-8 5 23 5-28 5-3 5 21 5-18 5 9 5 9 5-12 5-2 5 14 5-7 4-9 5-7 5 8 5-13 5 8 5-2 5 15 5 5 5-16 5 3 5-7 5-3 5 10 5 10 5-1 5 2 4-10 5-17 5 30 5 5 5-5 5 0 5 2 5 9 5-17 5 13 5-8 5-1 5-9 5-2 5-8 5 18 4-10 5-9 5 5 5-5 5 30 5-20 5 4 5-14 5 2 5 22 5-14 5 5 5 17 5 1 5-13 5-2 4-3 5-5 5 23 5-33 5 12 5-20 5 7 5 18 5 1 5-2 5-7 5-4 5 2 5 2 5 15 5 4 4-11 5-10 5-4 5 13 5-6 5-17 5 34 5-14 5-4 5-6 5 0 5 19 5-19 5 11 5 6 5 12 4-13 5-7 5-4 5 14 5 1 5-15 5 11 5-8 5-16 5 7 5 19 5 7 5-8 5-9 5-6 5 14 4-3 5-20 5 24 5-15 5 15 5-1 5 2 5 3 5-4 5-18 5 0 5 22 5-6 5-22 5-4 5 30 4 11 5-11 5-12 5 6 5-24 5 10 5 22 5-2 5-30 5 33 5-6 5 4 5-12 5 2 5-12 5 15 4 6 5-19 5 14 5-10 5 17 5-1 5-31 5 26 5 6 5-17 5 3 5 1 5-10 5 11 5 17 5-11 4 11 5-6 5 3 5-12 5 7 5 12 5-5 5-12 5-11 5-2 5 12 5 2 5-24 5 22 5 1 5 0 4-9 5 26 5-11 5-24 5 7 5 16 5-3 5-4 5-2 5-2 5-2 5-6 5 17 5-27 5 13 5 21 4-22 5-4 5 32 5-9 5-12 5-5 5 4 5-2 5 1 5-5 5 14 5-12 5-13 5 5 5 14 5-11 4-9 5 36 5-11 5-10 5-1 5 11 5 9 5-21 5 11 5-11 5 10 5-16 5-7 5 20 5-2 5 8 4-14 5 21 5-14 5 16 5-20 5 19 5-17 5 2 5 9 5-30 5 7 5 31 5-36 5 10 5 10 5 9 4-22 5 6 5-14 5 7 5 13 5-8 5-6 5 4 5-5 5-1 5-7 5-7 5 16 5-20 5 23 5 10 4-5 5 6 5-32 5 14 5-10 5 1 5-9 5 6 5 23 5 0 5 6 5 1 5-3 5-15 5 8 5 10 4 7 5-17 5 0 5 1 5 22 5-10 5-9 5-4 5 13 5-22 5 16 5-4 5 0 5 9 5 2 5 17 4-20 5 7 5-16 5-9 5 30 5 8 5-31 5 10 5 13 5-11 5-22 5 32 5-13 5 10 5-18 5 19 4 2 5-19 5 13 5-12 5 2 5-4 5 5 5-3 5 20 5-15 5-10 5 27 5-9 5 5 5-11 5 8 4-9 5-9 5 11 5 1 5 0 5 7 5-27 5 21 5-11 5 5 5 8 5-4 5-8 5 15 5-8 5 10 4 3 5-17 5-7 5 12 5 8 5-6 5-15 5-6 5 8 5 0 5 16 5-5 5 8 5-10 5 18 5-17 4 5 5-10 5 9 5 7 5-3 5 5 5-20 5 11 5 13 5-15 5-5 5-1 5-3 5 7 5 13 5-10 4-5 5-9 5-3 5 31 5-25 5 6 5-7 5 7 5-7 5 5 5 14 5-24 5 13 5-7 5 7 5-15 4 10 5-15 5-10 5 4 5 2 5-3 5 6 5 13 5-25 5 14 5-5 5-12 5-5 5 12 5-2 5-12 4-1 5-1 5-16 5 12 5 0 5 13 5-33 5 3 5 9 5-7 5 1 5 5 5-3 5 4 5 6 5-20 4 24 5-24 5 40 5-6 5-13 5 19 5-10 5 9 5 6 5-2 5-1 5 8 5-6 5 0 5-4 5-7 4 37 5-7 5-21 5 19 5-1 5-22 5 13 5 8 5 19 5-6 5 1 5-10 5 7 5-23 5 18 5 0 4-21 5 15 5 13 5 4 5-6 5-21 5 7 5-4 5 19 5-21 5-1 5-6 5 20 5 3 5-10 5-1 4 7 5 16 5-27 5 15 5 3 5 2 5 10 5-4 5-5 5 13 5-3 5-9 5 0 5-14 5 14 5-10 4-3 5 9 5-15 5 9 5 4 5 8 5-6 5 7 5 12 5-7 5-21 5-6 5 9 5 0 5-11 5 3 4 0 5 11 5 21 5 3 5-28 5 5 5-9 5-3 5 16 5 1 5-7 5 13 5-10 5 15 5-16 5 14 4-11 5 3 5 5 5-20 5 6 5 7 5-2 5 6 5-11 5-6 5 13 5 4 5-11 5 20 5-5 5 2 4-1 5-17 5 31 5-29 5 11 5 4 5-4 5-1 5-11 5 5 5 4 5 13 5-20 5 14 5-2 5-4 4-6 5 4 5-16 5 19 5 2 5-9 5 11 5-2 5-10 5 16 5-14 5 25 5-30 5 2 5 2 5 9 4 9 5-11 5-5 5 24 5-9 5-14 5 2 5-15 5 16 5 18 5-30 5-2 5 15 5-22 5 35 5-30 4 8 5 6 5 14 5-8 5-24 5 2 5 20 5-23 5 17 5-5 5 17 5 4 5-33 5 25 5 2 5-15 4 2 5-6 5 8 5 8 5 10 5 1 5-18 5-6 5 19 5-30 5 5 5 21 5 15 5-29 5 9 5-13 4 11 5 0 5-7 5 12 5-6 5 7 5-8 5-10 5 14 5 7 5-17 5 22 5-9 5-9 5 4 5-5 4-5 5 19 5-1 5-14 5 3 5-1 5 9 5 8 5-22 5 9 5-4 5 6 5 9 5-25 5-12 5 19 4-15 5 33 5-25 5 4 5 6 5-1 5-6 5 4 5 10 5-13 5 22 5-15 5-24 5 30 5-27 5 22 4 17 5-9 5-22 5 4 5 9 5 15 5-22 5 19 5-8 5-4 5 0 5 19 5-32 5 4 5 21 5 1 4-23 5 4 5-2 5 17 5-12 5 21 5-6 5-5"/>
<path transform="scale(.1)" fill="none" stroke="#008000" stroke-width="70" stroke-linejoin="round" d="M1148 6406l5 10 5 40 5-22 5-49 5 35 5-13 5 17 4-38 5 40 5 0 5 28 5-26 5 4 5-43 5 74 5-83 5 64 5-30 5-11 5 4 5 0 5 22 5-10 4 34 5-70 5 39 5-19 5 35 5-58 5 35 5 11 5-35 5 52 5-17 5 17 5-1 5-40 5 4 5 12 4 20 5 2 5-32 5 2 5-4 5 5 5 7 5 2 5 44 5-51 5 4 5 16 5-29 5 12 5 8 5 15 4-42 5 55 5-35 5 10 5 14 5-4 5 9 5-18 5-4 5 7 5-27 5 45 5-40 5-10 5 66 5-43 4-21 5 61 5-44 5 28 5-38 5 12 5-28 5-5 5 19 5 18 5 17 5 24 5-60 5 41 5-32 5 9 4-26 5 0 5 14 5-8 5 23 5-14 5 39 5-22 5 1 5 19 5-12 5-11 5-1 5-1 5 24 5-6 4-8 5 8 5-26 5 21 5-37 5 53 5-24 5 2 5 8 5-12 5-4 5 28 5-21 5-20 5 26 5-41 4 65 5-35 5 4 5 37 5 0 5-36 5 10 5 9 5 11 5-34 5 5 5 21 5-18 5 9 5-3 5-33 4 6 5-22 5 33 5 30 5-46 5 45 5-5 5-20 5 1 5 2 5-17 5 10 5 5 5 12 5 4 5-29 4 29 5-29 5 11 5 10 5-7 5-2 5 7 5-15 5-1 5 8 5 21 5-19 5 37 5-31 5-41 5 29 4 39 5-31 5-8 5-8 5 41 5-6 5-6 5-5 5 19 5-11 5-38 5 37 5-11 5-5 5 16 5-13 4-37 5 64 5-9 5-21 5-4 5 11 5-28 5 29 5-9 5-3 5-10 5 5 5 32 5 4 5-15 5-10 4-14 5 28 5 16 5-57 5 49 5-56 5 30 5 13 5-31 5-3 5 30 5 13 5-24 5 32 5-38 5 45 4-29 5 3 5 6 5-5 5 27 5 3 5-26 5-12 5-18 5 8 5 13 5-2 5 1 5 1 5 9 5-32 4 6 5 37 5-5 5-24 5 32 5-34 5 7 5-27 5 47 5-15 5 19 5-7 5-10 5 1 5 18 5-23 4 0 5 4 5 13 5 2 5 17 5-34 5 23 5-33 5 22 5-8 5 27 5-19 5-18 5 18 5-4 5-11 4 0 5-11 5 50 5-31 5 14 5-36 5 1 5 16 5 0 5 16 5-30 5 26 5 17 5-41 5 31 5-32 4 22 5 1 5 23 5-41 5 14 5 15 5-37 5 20 5-15 5 3 5 23 5 1 5 21 5-10 5-1 5-24 4-3 5 8 5-36 5 61 5-39 5-6 5 10 5 22 5 6 5-26 5 13 5-8 5-16 5 20 5-3 5-25 4 43 5-44 5 30 5-21 5 4 5 2 5 23 5-32 5 17 5 29 5-37 5 11 5 12 5-21 5 18 5-19 4 22 5-10 5-16 5 38 5-24 5-3 5-11 5 8 5 6 5 4 5 15 5-39 5 16 5 25 5-16 5 3 4 19 5-20 5 2 5-8 5 29 5-11 5-28 5 20 5-27 5 36 5-7 5-13 5-4 5-22 5 41 5-14 4-3 5 16 5-22 5 1 5-1 5-11 5 54 5-35 5-3 5 20 5-46 5 32 5 0 5-15 5 22 5-38 4 31 5 14 5-45 5 8 5 20 5 2 5-10 5 16 5-2 5-25 5 19 5-19 5-9 5 0 5 45 5-18 4 32 5-53 5 17 5 11 5-8 5 10 5-5 5-12 5-19 5 13 5 42 5-15 5 9 5-30 5 5 5-11 4 20 5-6 5 6 5 19 5-41 5 23 5-35 5 37 5-27 5 2 5-3 5 16 5-36 5-20 5-25 5 7 4-34 5-8 5-1 5 9 5-16 5 33 5 32 5-34 5 59 5 25 5-30 5 27 5-23 5 31 5-6 5 12 4-16 5 3 5 7 5-3 5 2 5 7 5-13 5 15 5 10 5-35 5 31 5-14 5-5 5-3 5 7 5 2 4 16 5-24 5 35 5-28 5 23 5 6 5-34 5 34 5 16 5-38 5 16 5-11 5 4 5-4 5-5 5 19 4 2 5-13 5 23 5-6 5-6 5-21 5 39 5-9 5-49 5 13 5 10 5 21 5 4 5-22 5 8 5 6 4-29 5 28 5-13 5 7 5-3 5-17 5 3 5 9 5-22 5-39 5 44 5-79 5 100 5-6 5-10 5-98 4 81 5 11 5-16 5 42 5-110 5 110 5 8 5-66 5-21 5-11 5 69 5-22 5 28 5-27 5 39 5-36 4 3 5-18 5 21 5-27 5-14 5 2 5 28 5-56 5 128 5 11 5-162 5 34 5-7 5 132 5-93 5 40 4-67 5 19 5 76 5 3 5-49 5 40 5 22 5-9 5 19 5-135 5 127 5-70 5-67 5 109 5-45 5-28 4 72 5-74 5 8 5 9 5 83 5-110 5 138 5-64 5 3 5-33 5 34 5 3 5 9 5-47 5 41 5-64 4 83 5 8 5-40 5 18 5-21 5-36 5-19 5 54 5-9 5-13 5-1 5-4 5 20 5-51 5-39 5 133 4-40 5 8 5-55 5 63 5 51 5-92 5-20 5 36 5-63 5-20 5 101 5-31 5 37 5 9 5-47 5-25 4 79 5 3 5-17 5-43 5 28 5 14 5-99 5 84 5-103 5-47 5-29 5 38 5 90 5 30 5-30 5 60 4-20 5-13 5-52 5 140 5-138 5 87 5-47 5 33 5 5 5 33 5-28 5-34 5-2 5 36 5-47 5-43 4-15 5 7 5 131 5 20 5-88 5 49 5-59 5-1 5 6 5 48 5-76 5 55 5-35 5-49 5 16 5 69 4-31 5-2 5 25 5-7 5-4 5-5 5-103 5 35 5 66 5-5 5-29 5 90 5-95 5 51 5 9 5 67 4-44 5-26 5 3 5-44 5-11 5 51 5-24 5 16 5-57 5 64 5-66 5 72 5 31 5-77 5-6 5 76 4-67 5 104 5-109 5 65 5 19 5-30 5-60 5-14 5 51 5-29 5 39 5 61 5-112 5 22 5 80 5-1 4-55 5 60 5-135 5 0 5-27 5 30 5 35 5 23 5 55 5-28 5-6 5 26 5-15 5 37 5-28 5-42 4 6 5-54 5 51 5 26 5 21 5-24 5 45 5-69 5 82 5-66 5-35 5 17 5 0 5-35 5-1 5 32 4 32 5-5 5 70 5-33 5-70 5 91 5-73 5 9 5 27 5 17 5-37 5 50 5-75 5 83 5-16 5-13 4 10 5-26 5-97 5 76 5 19 5 39 5-72 5 36 5 10 5-38 5 25 5 22 5-35 5-40 5 37 5 47 4-41 5-32 5 74 5-89 5 57 5-40 5-1 5 24 5 28 5 18 5-54 5 69 5-29 5-79 5 105 5-49 4 4 5-20 5 71 5-57 5 34 5-55 5 19 5-36 5 72 5-59 5-10 5 18 5-14 5-26 5 118 5-49 4-10 5-1 5-23 5 45 5-28 5 25 5 46 5-117 5 13 5 17 5 29 5-17 5-55 5 96 5-10 5-27 4 25 5-26 5-22 5 67 5-44 5-35 5 58 5-57 5 105 5-138 5 15 5-8 5 72 5 42 5-94 5 77 4-84 5-1 5 45 5 36 5-13 5-21 5 30 5-23 5 29 5 4 5-23 5-12 5 25 5-42 5 1 5-6 4 51 5-74 5 103 5-5 5-28 5 0 5 14 5-37 5 57 5-84 5-30 5 60 5 17 5-44 5-25 5 62 4-31 5 46 5-22 5-53 5 26 5 44 5-36 5-14 5 16 5 67 5-2 5-45 5 10 5-10 5-9 5-44 4 71 5-35 5-3 5 19 5-30 5-33 5 88 5-39 5 19 5 28 5-80 5 7 5 34 5 30 5 18 4-79 5 16 5-13 5-17 5 32 5-48 5 74 5-70 5 112 5-85 5 41 5 11 5-35 5 27 5-5 5-16 4 22 5 16 5-11 5-15 5-85 5 11 5 92 5-44 5-34 5 40 5-7 5-40 5 104 5-96 5 93 5-113 4 37 5 55 5-4 5 23 5-64 5-47 5 111 5-65 5 19 5 32 5 29 5-106 5 75 5-87 5 62 5-56 4 104 5-25 5-38 5 32 5-39 5 80 5-66 5 12 5 56 5-113 5 79 5-23 5 6 5-44 5 51 5-49 4 53 5-57 5 37 5-16 5-14 5 62 5-67 5 22 5 38 5-27 5 59 5-90 5-2 5 9 5-8 5 101 4-29 5-70 5 61 5-29 5 22 5-18 5-18 5 47 5-33 5-1 5-42 5 35 5 27 5-49 5 65 5-28 4-9 5-45 5 21 5 24 5 6 5-15 5 40 5-20 5 17 5-41 5 38 5-37 5 16 5 59 5-65 5-23 4 29 5 40 5-34 5-42 5 22 5 13 5 6 5 8 5-37 5 72 5-11 5-60 5 5 5 49 5-42 5-44 4 50 5 9 5-29 5 13 5 44 5-55 5 2 5-22 5 43 5 10 5-11 5-24 5 63 5-31 5-5 5 11 4-23 5 47 5-33 5-26 5 11 5 37 5-27 5 35 5-17 5 15 5-17 5 23 5-9 5 12 5-16 5-15 4-4 5 11 5 10 5-12 5 33 5-25 5 6 5-4 5-17 5 29 5-5 5 3 5-23 5 12 5-1 5 16 4-32 5 25 5 8 5-21 5-5 5 27 5-14 5 11 5-4 5 4 5-16 5-23 5 33 5-16 5 16 5-14 4 27 5-24 5 14 5 3 5-15 5 5 5-4 5-11 5 30 5-30 5-8 5 13 5 8 5-1 5-5 5-27 4-53 5 7 5 40 5 3 5 12 5 32 5-12 5-23 5 16 5-9 5 3 5 39 5-11 5-15 5 3 5 19 4-33 5 23 5-18 5 19 5-8 5-12 5 23 5-7 5 17 5-29 5 7 5-10 5 24 5-25 5 9 5 17 4-10 5-3 5 0 5 1 5 4 5-12 5-21 5 41 5-30 5 37 5-20 5 20 5-9 5-9 5 6 5-29 4 20 5-7 5 5 5-25 5 0 5 33 5-8 5-7 5 5 5-7 5 2 5 15 5-12 5 12 5-18 5-14 4 14 5 7 5-12 5 9 5-2 5 18 5-1 5 3 5-23 5 14 5 12 5-14 5-4 5-8 5 20 5-9 4 11 5-15 5 27 5-25 5-15 5 18 5 3 5 10 5-22 5-1 5 4 5-2 5-19 5 33 5 6 5-25 4-3 5 11 5-9 5 20 5-17 5 15 5-23 5-2 5-2 5 2 5 23 5 5 5-9 5 1 5-27 5 38 4-30 5 32 5 8 5-24 5 7 5 0 5-24 5 2 5 5 5 11 5 8 5-9 5 12 5-20 5-12 5 18 4-1 5-17 5 30 5-25 5 3 5 11 5-16 5 21 5-3 5 0 5-6 5-6 5-4 5 13 5 13 5-8 4-5 5 7 5 3 5-32 5 14 5 15 5-23 5 1 5 13 5-11 5 16 5-19 5 10 5 15 5-11 5-32 4 2 5-1 5 10 5-19 5 22 5 12 5-5 5-32 5 2 5-4 5-12 5 26 5-36 5-12 5 9 5-10 4 2 5-14 5-40 5-46 5-1 5-46 5-57 5-140 5-135 5-157 5-244 5-297 5-332 5-268 5-203 5-44 4 94 5 140 5 182 5 216 5 211 5 274 5 225 5 163 5 155 5 110 5 81 5 38 5 42 5 22 5 38 5 8 4 9 5 26 5-1 5-5 5 35 5 3 5-1 5-14 5 29 5-17 5-13 5 24 5 26 5-25 5 14 5 11 4-12 5-5 5 5 5 8 5-12 5 12 5 3 5-10 5 13 5-1 5-10 5 2 5 5 5-3 5 0 5-10 4 14 5 8 5-1 5-17 5 17 5 1 5-19 5 18 5-9 5-2 5 7 5-5 5-21 5 26 5-17 5 12 4 9 5-12 5-4 5 6 5 2 5-18 5-1 5 9 5 8 5-25 5 3 5-27 5 0 5-9 5-25 5 8 4-7 5-23 5 23 5 8 5 5 5 7 5-9 5 13 5 15 5 0 5 12 5 27 5-20 5 11 5 30 5-21 4-7 5 16 5 1 5 1 5-21 5 24 5 2 5 20 5-15 5-13 5 9 5 5 5-9 5 1 5 17 5-10 4 1 5-17 5 16 5-27 5 37 5-19 5 13 5 9 5-29 5 26 5-10 5 10 5-17 5-4 5 23 5-10 4-4 5-14 5 29 5-19 5 1 5-5 5 8 5 7 5-7 5-1 5-5 5 24 5 1 5-22 5-7 5 14 4-22 5 21 5 1 5-2 5 17 5 3 5-16 5-9 5 16 5 1 5-27 5 5 5 6 5-16 5 6 5 32 4-33 5 24 5-19 5 21 5-8 5 7 5-27 5 20 5-10 5 15 5 0 5-7 5-3 5 1 5 3 5-8 4 1 5-3 5-5 5 25 5-28 5 31 5-7 5-28 5-1 5 21 5-13 5 14 5 10 5-7 5-7 5 1 4 19 5-21 5 24 5 3 5-27 5 8 5 16 5-28 5 13 5 8 5-24 5 16 5-3 5-7 5 23 5-19 4 24 5-14 5-16 5 11 5-12 5 18 5-2 5-21 5 9 5 10 5-4 5-12 5 24 5 3 5-33 5 34 4-40 5 21 5-6 5 2 5 8 5-15 5 12 5 20 5-14 5 12 5-7 5-29 5 39 5-10 5-3 5-11 4-2 5-6 5 10 5 3 5-3 5 0 5-20 5 13 5 0 5 12 5-8 5 0 5 6 5-6 5 2 5 16 4-15 5-8 5 17 5 2 5-2 5-22 5 26 5-10 5 1 5-1 5 4 5 1 5 11 5-14 5-4 5 9 4-9 5 14 5-11 5 7 5-15 5 18 5-5 5-16 5 5 5 5 5-16 5 3 5 18 5 0 5 10 5-30 4 10 5-19 5 43 5-35 5 13 5 24 5-6 5-26 5 33 5-18 5-16 5 14 5 4 5 0 5-31 5 45 4-39 5 16 5 18 5-12 5-4 5-7 5 13 5 9 5-21 5 11 5-9 5-1 5-19 5 27 5 7 5-12 4 14 5-10 5 12 5-12 5-6 5-2 5 7 5 2 5-12 5 7 5-13 5 0 5 22 5-3 5 5 5-8 4 1 5 18 5-30 5 12 5 15 5 4 5-16 5-8 5-10 5 9 5 4 5-2 5 5 5 0 5-11 5-5 4 6 5 8 5 13 5-37 5 29 5-15 5 14 5 8 5-16 5-19 5 7 5 7 5-9 5 1 5-10 5 4 4-8 5 13 5-11 5-2 5-36 5-1 5-23 5-26 5-46 5-52 5-39 5-91 5-73 5-26 5 26 5 9 4 14 5 37 5 31 5 36 5 23 5 58 5 53 5 20 5 46 5 24 5 24 5 14 5-6 5 10 5 9 5 7 4-8 5-7 5 17 5 4 5-7 5 6 5 13 5-23 5-1 5-4 5 17 5 7 5-16 5 26 5-26 5 10 4-4 5 17 5-22 5 26 5-20 5-13 5 9 5 4 5 21 5-24 5 6 5 23 5-21 5-9 5-1 5-9 4 21 5 10 5-17 5-8 5 15 5-3 5-2 5 7 5-5 5-4 5 15 5-32 5 9 5 9 5-12 5 32 4-40 5 31 5-2 5-2 5 1 5-11 5-2 5 24 5-17 5-15 5 3 5-4 5 20 5 10 5-16 4 5 5-7 5 16 5-1 5 1 5 10 5-34 5 23 5-26 5 25 5 1 5-1 5 1 5-10 5-5 5 15 4-15 5 15 5-17 5 13 5-1 5-12 5 6 5 13 5-10 5 6 5-12 5 7 5-17 5 8 5 22 5-8 4-6 5 2 5-16 5 19 5-18 5 5 5 16 5-16 5 3 5 4 5 2 5 14 5-33 5 14 5 11 5-12 4 1 5-5 5 6 5 10 5 7 5-10 5 11 5-14 5-19 5 26 5-30 5 22 5 0 5-12 5 10 5-4 4 8 5-5 5 10 5-11 5 11 5-7 5 3 5-1 5-7 5 18 5-6 5-30 5 10 5 32 5-21 5 25 4-18 5 1 5-10 5 2 5 4 5 9 5-9 5-2 5-10 5 6 5 0 5 3 5-6 5-4 5 8 5-19 4 6 5 7 5 13 5-11 5-5 5 19 5-9 5 17 5-18 5-5 5 4 5 23 5-3 5-15 5 10 5-26 4 28 5-10 5-4 5 1 5 2 5-7 5 0 5-9 5 30 5-26 5 7 5 13 5 2 5 2 5-21 5 1 4 4 5-19 5 29 5-27 5 16 5 11 5-1 5-13 5 14 5 2 5-30 5 15 5 10 5-2 5-7 5 1 4 26 5-29 5 16 5-24 5 18 5 6 5-16 5-2 5 27 5-22 5 13 5-26 5 34 5-39 5 11 5 3 4 6 5 3 5 15 5 6 5-2 5-12 5-6 5-24 5 21 5-5 5 13 5-18 5 2 5 1 5 15 5-5 4-13 5-8 5 13 5-1 5 1 5 7 5 7 5 1 5-16 5-1 5 25 5-19 5 10 5-6 5 3 5 13 4-20 5 15 5-7 5-7 5-3 5-1 5 18 5-1 5-20 5 13 5-24 5 21 5 21 5-35 5 16 5-10 4 8 5-12 5 13 5-25 5 20 5 0 5 2 5 23 5-34 5 5 5-8 5 21 5-6 5-13 5 23 5-7 4 13 5-8 5-7 5-10 5-13 5 15 5 19 5-15 5-6 5 12 5 5 5 15 5-34 5 7 5-9 5 5 4 18 5-11 5-15 5 30 5 5 5-11 5-19 5-1 5 26 5-25 5 5 5-10 5 37 5-29 5 6 5-7 4 1 5-5 5 25 5-20 5 24 5-31 5 20 5 5 5-23 5 15 5-9 5-6 5 8 5-16 5 17 5-14 4 25 5 9 5-1 5-24 5 7 5 23 5-8 5-7 5-28 5 18 5 28 5-20 5-10 5 6 5 24 5-10 4-29 5 2 5 13 5 14 5-23 5 2 5-15 5 14 5 14 5 0 5-23 5 25 5-18 5-7 5 21 5-23 4 12 5-4 5 8 5 4 5-8 5-4 5 4 5-15 5 19 5 25 5-19 5 9 5-13 5 0 5 5 5 3 4-1 5-16 5 10 5-17 5 28 5-12 5-3 5-11 5 20 5 6 5-6 5 7 5-21 5 19 5-10 5-22 4 25 5-15 5 10 5-6 5-2 5 22 5-18 5 8 5 6 5-12 5-10 5 15 5-2 5-9 5 12 5 13 4-4 5 7 5-2 5-13 5-2 5-13 5 26 5-20 5 13 5 12 5-17 5-18 5 5 5 8 5 19 5-19 4 2 5-11 5 16 5-2 5 7 5-19 5 17 5-23 5 8 5 2 5 4 5 6 5-27 5 22 5-4 5-10 4 11 5 9 5-11 5 0 5 13 5-16 5 20 5-7 5 0 5 2 5 7 5-22 5 21 5-23 5 14 5 3 4-6 5-14 5-1 5 1 5 12 5 2 5 4 5-24 5 21 5 8 5-10 5-2 5 9 5 8 5-2 5 1 4-33 5 30 5-20 5 12 5-17 5 10 5-13 5 2 5 22 5-38 5 20 5-17 5-21 5 16 5-28 5-24 4-9 5-34 5 7 5-53 5 1 5-18 5 31 5 16 5 11 5 16 5-9 5 4 5 28 5-4 5 25 5 5 4 10 5 18 5 21 5 5 5-4 5-21 5 27 5 6 5 4 5-13 5 21 5-7 5-25 5 31 5 11 5-15 4-12 5 30 5-9 5-32 5 33 5-7 5-1 5-23 5 1 5 21 5 20 5-20 5 0 5-8 5 2 5 16 4-20 5 30 5-16 5-2 5-5 5-6 5 5 5-14 5 17 5-22 5 44 5-23 5-17 5 20 5-1 5-8 4 9 5-12 5 8 5-1 5 8 5-12 5 9 5-25 5 34 5-10 5 4 5-9 5 13 5-10 5 3 5-2 4-7 5-4 5 17 5 1 5-8 5 15 5-13 5 4 5 7 5-4 5-10 5-10 5 3 5-3 5 21 5-32 4 46 5-33 5 22 5-9 5 3 5-21 5 27 5-13 5 8 5-18 5 10 5-7 5 11 5 4 5-10 5 8 4 0 5-6 5-3 5-19 5 34 5-10 5-5 5 6 5-9 5 2 5 10 5-23 5 13 5 6 5-20 5 5 4 27 5 8 5-19 5 4 5-18 5 25 5-16 5 2 5 3 5-11 5-2 5 7 5-12 5 6 5-17 5 11 4 16 5 7 5-6 5-17 5 10 5-12 5-2 5 23 5-17 5 0 5 5 5 7 5-10 5-5 5 5 5-7 4-4 5-22 5 11 5 5 5-14 5 28 5-6 5-10 5-41 5 0 5-23 5-33 5-66 5-30 5-64 5-93 4-73 5-95 5-25 5 15 5 15 5 59 5 36 5 47 5-5 5 31 5 15 5 55 5 33 5 55 5 50 5 28 4 34 5 25 5 14 5 21 5-3 5 16 5 0 5 0 5-2 5-6 5 15 5 16 5-9 5 22 5-26 5 7 4-12 5 31 5-27 5 21 5-1 5 20 5-8 5-5 5-7 5 20 5-25 5-9 5 24 5-10 5-7 5 12 4 2 5-23 5 28 5 12 5-26 5-13 5 20 5-4 5 10 5 2 5-11 5 18 5-38 5 13 5 10 5 3 4-5 5 6 5-20 5-8 5 32 5 6 5-15 5-13 5 5 5 15 5-4 5 12 5 4 5-4 5-17 5 15 4-6 5-4 5 0 5-3 5-10 5 15 5-13 5 8 5 10 5 0 5-30 5 13 5-4 5 15 5-11 5 18 4-15 5 10 5-16 5 3 5 5 5 8 5-28 5 24 5-18 5 19 5-22 5 15 5 18 5 3 5-28 5 31 4-24 5 5 5 5 5-4 5 3 5-2 5 7 5-7 5-7 5-7 5 0 5 10 5 9 5-4 5-7 5 8 4-11 5 8 5 3 5-9 5 19 5-2 5-16 5 10 5-5 5 2 5 0 5 11 5-11 5 0 5 7 5 0 4 9 5-28 5 16 5-27 5 20 5-14 5-1 5 14 5-11 5 9 5-20 5 38 5-38 5 16 5 26 5-34 4 34 5-7 5-13 5-3 5 1 5 6 5 8 5 4 5-38 5 33 5-3 5-21 5 24 5 1 5-1 5-11 4 10 5 5 5-21 5 2 5-1 5 19 5-13 5-8 5-3 5-3 5 16 5 7 5 5 5-25 5 0 5 0 4 1 5-7 5 34 5-12 5-11 5-17 5 37 5-6 5-7 5 6 5-16 5 15 5-13 5 11 5-7 5-13 4 3 5 24 5-1 5-14 5-5 5 2 5 10 5-20 5 26 5-20 5-4 5 13 5 21 5-29 5 3 5-8 4 15 5 0 5-3 5-4 5 8 5 5 5-14 5 2 5-5 5 1 5 19 5-24 5 13 5 9 5-18 5 12 4 2 5-25 5 27 5-23 5 13 5-19 5-2 5 15 5 21 5 5 5-1 5-9 5-2 5-5 5-2 5-13 4-2 5 9 5-1 5-13 5-8 5 3 5 30 5-33 5 21 5-5 5-5 5-24 5 25 5-26 5-18 4-12 5-9 5 4 5-67 5-34 5-48 5-65 5-103 5-95 5-92 5-63 5-48 5 11 5 53 5 60 5 65 4 21 5 30 5 2 5 26 5 24 5 29 5 69 5 41 5 70 5 25 5 36 5 16 5 26 5 23 5-7 5 30 4 16 5 2 5 0 5 8 5-11 5 3 5 17 5-9 5 14 5-15 5 14 5 8 5-14 5 21 5-1 5-39 4 46 5-41 5 42 5-33 5-11 5 7 5 21 5-16 5 5 5 20 5-24 5 17 5 9 5-35 5 8 5 16 4-3 5 4 5-25 5 12 5 15 5 2 5 8 5-19 5-3 5-3 5 1 5-12 5 41 5-24 5-3 5 1 4 14 5-5 5-10 5 20 5-8 5-5 5 2 5 13 5-5 5-9 5 13 5-34 5 30 5-18 5 3 5 4 4 25 5-24 5 1 5 8 5-29 5 20 5 10 5-19 5 18 5-15 5-8 5 27 5-9 5 7 5-6 5-14 4 24 5-7 5 0 5-9 5-8 5 29 5-7 5-7 5-9 5 22 5-25 5 1 5 32 5-16 5 3 5-2 4 15 5-18 5 1 5-16 5 11 5-18 5 13 5 4 5 8 5 8 5-24 5-4 5 15 5-13 5 29 5-4 4-26 5 14 5 12 5-25 5 5 5 4 5 17 5-10 5-8 5 6 5-3 5 1 5 4 5-3 5 5 5-8 4-3 5 0 5-15 5 13 5 25 5-21 5 7 5 4 5-15 5 1 5 10 5-17 5 21 5-2 5-5 5 0 4 5 5-7 5-23 5 28 5-17 5 5 5 1 5 0 5-14 5-2 5 20 5 2 5 4 5-19 5 11 5 12 4-13 5-2 5 29 5-41 5 10 5-4 5 7 5 28 5-34 5 9 5-3 5-3 5 18 5-14 5 17 5 4 4-21 5 21 5-29 5 17 5 8 5-23 5 11 5 6 5 1 5-3 5 19 5-24 5 15 5 9 5-29 5 2 4-7 5 20 5 8 5-36 5 9 5 4 5 29 5-26 5 8 5-18 5 24 5-22 5 11 5-11 5 11 5-1 4 4 5 0 5 18 5-28 5 23 5-12 5-5 5 5 5 0 5 7 5-1 5-2 5-4 5-21 5 28 5 3 4-9 5-1 5-12 5 12 5 7 5-25 5 10 5-1 5 20 5-19 5-16 5 22 5 14 5-17 5-3 5 7 4 17 5-22 5 0 5 7 5-13 5-10 5 20 5-5 5 8 5-3 5 5 5-18 5 15 5-14 5 15 5-9 4 24 5-29 5-14 5 25 5-7 5-5 5 13 5 16 5-20 5-6 5 23 5-3 5-12 5-7 5 14 5-16 4 1 5-2 5 15 5 11 5-16 5 19 5-42 5 22 5-19 5 29 5 4 5-34 5 11 5 9 5-17 5 7 4-2 5 12 5-9 5-5 5 4 5 8 5 2 5-3 5 15 5-17 5 5 5 5 5-10 5 19 5-7 5 1 4-19 5 8 5 8 5 6 5-19 5 1 5-9 5-2 5 29 5-12 5 6 5 6 5-12 5 2 5-13 5 5 4 11 5 11 5-4 5-19 5-1 5 16 5-2 5 1 5-4 5 12 5-11 5 13 5-10 5-6 5-13 5 16 4 7 5-8 5-13 5-10 5 18 5 22 5-32 5 7 5 7 5 9 5-21 5 11 5 3 5-16 5 17 5-16 4 13 5 5 5-6 5-15 5 22 5 0 5-6 5 7 5-14 5-4 5 7 5 7 5 4 5-17 5 10 5-1 4-7 5-17 5 3 5 29 5-28 5-3 5 4 5 12 5 17 5-10 5-10 5 1 5 8 5-5 5-20 5 31 4-4 5-23 5 8 5 6 5-3 5-9 5 2 5 17 5-26 5 11 5-11 5-18 5 16 5-6 5 5 5 2 4-9 5-10 5 1 5 3 5-19 5-2 5 21 5-20 5 11 5 24 5-8 5 6 5-12 5 16 5-20 5 4 4 9 5-3 5 25 5-14 5-8 5 24 5 1 5 7 5-25 5 5 5-12 5 28 5-4 5-5 5 22 5-22 4 3 5-4 5-1 5 11 5-1 5-2 5-8 5-2 5 8 5 6 5-9 5 5 5 1 5-6 5-6 5 15 4 19 5-12 5-7 5-6 5 1 5 19 5-24 5 32 5-19 5 3 5-7 5 15 5 0 5-19 5 29 5-18 4-19 5 22 5-2 5-1 5 7 5 3 5-25 5 11 5 0 5 2 5-20 5 23 5-2 5 20 5-30 5 4 4 10 5-5 5 10 5 3 5-23 5 11 5 6 5-15 5 30 5-19 5-1 5-19 5 9 5-14 5 29 5-16 4 9 5 4 5-2 5-7 5 12 5-20 5-9 5 5 5 24 5 7 5-23 5 1 5 11 5-20 5 10 5-11 4 16 5-23 5 6 5-3 5 18 5 6 5-6 5 23 5-22 5-12 5 6 5 12 5-3 5 19 5-22 5-13 4-2 5 21 5-32 5 26 5 4 5-15 5 7 5 11 5 0 5-3 5-6 5-16 5-15 5-14 5 35 5-17 4-37 5 14 5-33 5-17 5-26 5 21 5-51 5-3 5 22 5 9 5 7 5-6 5 19 5-1 5 9 5 28 4-16 5 7 5-15 5 10 5 20 5 19 5-6 5 28 5 14 5-36 5 26 5 11 5-6 5 24 5-16 5 4 4-20 5 30 5-15 5 10 5-8 5-5 5 6 5-12 5 11 5 15 5-2 5-22 5 19 5-15 5-4 5 12 4-1 5-18 5 15 5-14 5 19 5-43 5 10 5-5 5-9 5-9 5 28 5-11 5-18 5 10 5 4 5 10 4-13 5 30 5-15 5 18 5-8 5-8 5 4 5 9 5 0 5 4 5 8 5 8 5-23 5-5 5 10 5 26 4-15 5-3 5 12 5 5 5-20 5 2 5 11 5 0 5-7 5 31 5-8 5-16 5 10 5-21 5 24 5-13 4-5 5-8 5 25 5-8 5-7 5 18 5-15 5 6 5-8 5 10 5-18 5 9 5 5 5-10 5 3 5 15 4-14 5 18 5-7 5-5 5-17 5 34 5 0 5-13 5-2 5-1 5-5 5 2 5 7 5-22 5 17 5 5 4-24 5 12 5-10 5 1 5 23 5-20 5 36 5-25 5-7 5 6 5 3 5 3 5 1 5 0 5 8 5 2 4-13 5 3 5-12 5 1 5 3 5 20 5-24 5 11 5-1 5 7 5-15 5 2 5 17 5-9 5-9 5 19 4-12 5-7 5 16 5 10 5-25 5-6 5-12 5 44 5-27 5 2 5-7 5 9 5-10 5 29 5-9 5-14 4-8 5 21 5-16 5 23 5-11 5-3 5-13 5 16 5-18 5 28 5-35 5 18 5 26 5-28 5 14 5 4 4-8 5-5 5 13 5 0 5-18 5 24 5-3 5-26 5 17 5 0 5-4 5-9 5-6 5 19 5-24 5 12 4-16 5 14 5 10 5-18 5 25 5 1 5-6 5 3 5 9 5-8 5-28 5 18 5-8 5 9 5-19 5 20 4-4 5 9 5-17 5 7 5-21 5 22 5 1 5-15 5 14 5-16 5 20 5-15 5 4 5 22 5-13 5 9 4-7 5-14 5 17 5-16 5-6 5-7 5-11 5 17 5-11 5 5 5-9 5 5 5-15 5 8 5 7 5 3 4-15 5-10 5 28 5-2 5-20 5 24 5-7 5-15 5 13 5-14 5 12 5 1 5 6 5 15 5-26 5-7 4 35 5-9 5 15 5 1 5 11 5-40 5 41 5-17 5-4 5 24 5-3 5-28 5 9 5 23 5-31 5 20 4 2 5-7 5-4 5 15 5-11 5-8 5 18 5-24"/>
<path transform="scale(.1)" fill="none" stroke="#ff00ff" stroke-width="70" stroke-linejoin="round" d="M1148 7529l5-10 5 21 5 13 5 14 5-20 5-13 5-4 4 30 5 17 5-27 5-29 5 6 5 49 5-27 5-37 5 32 5-21 5 10 5 3 5-4 5 24 5-12 5-10 4 19 5 8 5-47 5 27 5-14 5 15 5-21 5 25 5-1 5-5 5-14 5 12 5-13 5-5 5 30 5-25 4 43 5-9 5-51 5 43 5-26 5 21 5 1 5-38 5 32 5 0 5 23 5-40 5 35 5-33 5 14 5-10 4 43 5-17 5 27 5-25 5 3 5 0 5-26 5 10 5 26 5-32 5 11 5-4 5 11 5-17 5 3 5 8 4-3 5-17 5 31 5-39 5 2 5-2 5 41 5-24 5-11 5-3 5 28 5-27 5-3 5 33 5-32 5 16 4 5 5-7 5 7 5 24 5-33 5-13 5-10 5 29 5-3 5 11 5-13 5 0 5-4 5 4 5 12 5-10 4 9 5 31 5-25 5-36 5 58 5-24 5-23 5 33 5-16 5-11 5 0 5-6 5 18 5 18 5-25 5 13 4 26 5-54 5 26 5-10 5-13 5 0 5 18 5 8 5-17 5 10 5 12 5-8 5 10 5-7 5 1 5 23 4-21 5-8 5 9 5-27 5 10 5 19 5-3 5 16 5-26 5-25 5 57 5-14 5-36 5 41 5-23 5-31 4 23 5-1 5 35 5-40 5 9 5 0 5-2 5-9 5 19 5 15 5-8 5-26 5-3 5 21 5-14 5 1 4-17 5 60 5-17 5-31 5 31 5 7 5-55 5 24 5 3 5 17 5-13 5-2 5 3 5 32 5 2 5-42 4-6 5 48 5-49 5 7 5 10 5 7 5 9 5-10 5-21 5 22 5-4 5 27 5-31 5-21 5 4 5 41 4-32 5-24 5 23 5 9 5 20 5-36 5 27 5 2 5-24 5 9 5 31 5-1 5-14 5-8 5 13 5-21 4 1 5-12 5 14 5-2 5 34 5-35 5 23 5 1 5-24 5 21 5-50 5 33 5 12 5-45 5 14 5 35 4-21 5-13 5 11 5-3 5 20 5-4 5-11 5-6 5 9 5 22 5-15 5 4 5-12 5-18 5 9 5 21 4-8 5-16 5-11 5 27 5-7 5 0 5 0 5 10 5 0 5 10 5 0 5 6 5-8 5-18 5 5 5 8 4-12 5 13 5 9 5-30 5-15 5 46 5-18 5 10 5-31 5 47 5-15 5-13 5-4 5 7 5-4 5-2 4-12 5 36 5-20 5 2 5 0 5-32 5 39 5-13 5 0 5 6 5-16 5 28 5-24 5-3 5 1 5 15 4 9 5-20 5-14 5 39 5-32 5 34 5-19 5-9 5 0 5 17 5 6 5-16 5 17 5 16 5-33 5-14 4 2 5-5 5 11 5-2 5-8 5 27 5-37 5 10 5 49 5-14 5-8 5-1 5 19 5-18 5-6 5-20 4 17 5-9 5 0 5 0 5 10 5-4 5 17 5-32 5 17 5 30 5-27 5 17 5-1 5 3 5-9 5-31 4 17 5-2 5-17 5 16 5-11 5-7 5 28 5-4 5-9 5-4 5 6 5 2 5 0 5 5 5-6 5 12 4 2 5-2 5-15 5 1 5 15 5-9 5 2 5-28 5 0 5 34 5-1 5 16 5-10 5-7 5-3 5-21 4 33 5-21 5 16 5-5 5 1 5 9 5-19 5 1 5-7 5 7 5 29 5-29 5 22 5-5 5-2 5 1 4-26 5 20 5 17 5-33 5 9 5-9 5 14 5-20 5 37 5-29 5-18 5 45 5-15 5-11 5-6 5-20 4-7 5 7 5-1 5 3 5-3 5-2 5 11 5 24 5 8 5-22 5-1 5 24 5-8 5-2 5-31 5 9 4-7 5 3 5-34 5 32 5-22 5-6 5-27 5 15 5 22 5-34 5 35 5 14 5-10 5 28 5-9 5 26 4-5 5-2 5 27 5-15 5 8 5-33 5 8 5 21 5 1 5-13 5 12 5-25 5 18 5-18 5 20 5-11 4-2 5 10 5 24 5-38 5 5 5 23 5-20 5 30 5-21 5-2 5 4 5 19 5-15 5-2 5-3 5-25 4 9 5 32 5-9 5-4 5 2 5-16 5 12 5-17 5 18 5-15 5 7 5 9 5-11 5 13 5-2 5-1 4 13 5-38 5-1 5 29 5 5 5 14 5-17 5-43 5-31 5 80 5-75 5 32 5-28 5 11 5-8 5-66 4 46 5-31 5 31 5 35 5 8 5-90 5 39 5 13 5 75 5-41 5 25 5 5 5-40 5-52 5 154 5-115 4 69 5-49 5 10 5 19 5-60 5-48 5 59 5-7 5-7 5 24 5-77 5 90 5-11 5 26 5-17 5-46 4 59 5 43 5-70 5-42 5-17 5 95 5-110 5 80 5 2 5 8 5-127 5 124 5-87 5 63 5-43 5-36 4 153 5-74 5-54 5-9 5 60 5 39 5-42 5-78 5 158 5-47 5 37 5-3 5-67 5 94 5-81 5 51 4-135 5-5 5 34 5 76 5-18 5-39 5 8 5 20 5-4 5 68 5-16 5-64 5-2 5 63 5-101 5 56 4 43 5-25 5-30 5-19 5 8 5 114 5-90 5-38 5-34 5 84 5 67 5-72 5-54 5 99 5-42 5-10 4 50 5-64 5 60 5-2 5-45 5-29 5 49 5-89 5 5 5-46 5 24 5-78 5 192 5-20 5 27 5 64 4-64 5-47 5 40 5-26 5 101 5-102 5 58 5 18 5 1 5-49 5-57 5 108 5 11 5-39 5 28 5-75 4 76 5-11 5-68 5 93 5-53 5-74 5 61 5 8 5 4 5-21 5-17 5 60 5-56 5 59 5-73 5-28 4 97 5-144 5 94 5-17 5 61 5-27 5-15 5-75 5 123 5-83 5 48 5-62 5 105 5-74 5-31 5 101 4-87 5 23 5 24 5-57 5 92 5-101 5 53 5 22 5-23 5-39 5 76 5-64 5-8 5 86 5 3 5-109 4 33 5 20 5-72 5 56 5 71 5-103 5 118 5-1 5-89 5-29 5 69 5-97 5 147 5-31 5-83 5 15 4 17 5 70 5-20 5-73 5 67 5-53 5 73 5-83 5 27 5-77 5 12 5-20 5 26 5 92 5 19 5 35 4-118 5 69 5-84 5 104 5-6 5-26 5-41 5 16 5 1 5-57 5 120 5-89 5 34 5-9 5 61 5-41 4 6 5 0 5 20 5-44 5-5 5 24 5-23 5 46 5-16 5-2 5 51 5-24 5-6 5-51 5 87 5-37 4-72 5 8 5 105 5-72 5 79 5-11 5-69 5 24 5 10 5-44 5-52 5 136 5-110 5 32 5 83 5-77 4 53 5-59 5-39 5 29 5 29 5-47 5 92 5-48 5-81 5 97 5-27 5-1 5 35 5-97 5 36 5 29 4-81 5 125 5-130 5 126 5-21 5-53 5 45 5-37 5 96 5-48 5-4 5-8 5-48 5-41 5 70 5 85 4-43 5-29 5 25 5-29 5 50 5-23 5-56 5 26 5-121 5 10 5 84 5 36 5-38 5 71 5-2 5-88 4 19 5 30 5-53 5 82 5-22 5 21 5-37 5 2 5 44 5-32 5-9 5 24 5-32 5 56 5-29 5-47 4-21 5 74 5 45 5-49 5 31 5-18 5 27 5-109 5 34 5 38 5-2 5-25 5-25 5-30 5 92 5 4 4-42 5 0 5-12 5 60 5-21 5 36 5-90 5 11 5-28 5 72 5-42 5 56 5 20 5-31 5 28 5-63 4-30 5 42 5-6 5 60 5-115 5 51 5 70 5-93 5 9 5 2 5 10 5 60 5 7 5-54 5 74 5-79 4 21 5 54 5-107 5 5 5-6 5 28 5 58 5 11 5-27 5 8 5-32 5-21 5-8 5 34 5-25 4-28 5 77 5-57 5 24 5 44 5-8 5-31 5-23 5-2 5 40 5-10 5-10 5-30 5 50 5-12 5-45 4 26 5 17 5 55 5-90 5 59 5 5 5 0 5-39 5 50 5-34 5-7 5-40 5-5 5 26 5-52 5 89 4-13 5 75 5-124 5-26 5 84 5 8 5-4 5-81 5 17 5 4 5 101 5-101 5 34 5 53 5-16 5-47 4-35 5 80 5-65 5 96 5-60 5 24 5-75 5 67 5-4 5-2 5 3 5 0 5-23 5 28 5 47 5-52 4-12 5 25 5-16 5 7 5 31 5-39 5 0 5 57 5-65 5-23 5 8 5 43 5-5 5-34 5-24 5 68 4-19 5-3 5-18 5-50 5 53 5-9 5 50 5 26 5-12 5-59 5 49 5-87 5 14 5-51 5-2 5 54 4 55 5 34 5-50 5-11 5 54 5-24 5-9 5 57 5-120 5-1 5 45 5 48 5 17 5-61 5-13 5-13 4 49 5 2 5-23 5 45 5 32 5-96 5 39 5-50 5 27 5-42 5 65 5 33 5-44 5 47 5-4 5 9 4-58 5-17 5 15 5 35 5-34 5-12 5-4 5 82 5-115 5 76 5-23 5 41 5 13 5-66 5 17 5-20 4 34 5-33 5-14 5-17 5-22 5 82 5-2 5 7 5-15 5 18 5-32 5 44 5-7 5-85 5 75 5 15 4-5 5-1 5-35 5 6 5 10 5 14 5-32 5-14 5 30 5-9 5 26 5 6 5 14 5-10 5-31 5 15 4 0 5 26 5-28 5 20 5-13 5 30 5-25 5 2 5-1 5 3 5 20 5-27 5-4 5 7 5 10 5-19 4 20 5 0 5-11 5-1 5-6 5 6 5-6 5 23 5 4 5-21 5 3 5-21 5 15 5 10 5-1 5-2 4 8 5-8 5-5 5 22 5-39 5 8 5 5 5 0 5-1 5 6 5-5 5 7 5 7 5-6 5 1 5-12 4-2 5 10 5 13 5-6 5 8 5-1 5 1 5-21 5 22 5-5 5 14 5-16 5-3 5-5 5 3 5-19 4 15 5 2 5 12 5-19 5 9 5 19 5-26 5 15 5-15 5 5 5 6 5 4 5-15 5-6 5 28 5-14 4 6 5 2 5-2 5-11 5 1 5-15 5 19 5-8 5 5 5 21 5-13 5-7 5-15 5 22 5 9 5-25 4 13 5-10 5 4 5-3 5-13 5 12 5-12 5 32 5-3 5-11 5 2 5-2 5 1 5 0 5-4 5 0 4-12 5 3 5 5 5 8 5-6 5 25 5-23 5-2 5 9 5 6 5 9 5-10 5-16 5 4 5 13 5-8 4 5 5-9 5 18 5-2 5-3 5-11 5-19 5 3 5 18 5 4 5-30 5 17 5 18 5-2 5-16 5 12 4-6 5-3 5 14 5 0 5-18 5-4 5-4 5-1 5 29 5 6 5-18 5 9 5-19 5 7 5 10 5-6 4-4 5-18 5 2 5 11 5-1 5 5 5-6 5 4 5 3 5 4 5-5 5-6 5 2 5 13 5-12 5-8 4-1 5 13 5 3 5 7 5-17 5 18 5-19 5 1 5-4 5 11 5 5 5-11 5-6 5-12 5 18 5-6 4 1 5-5 5-4 5 4 5 8 5 5 5-12 5 3 5-7 5-1 5-14 5 22 5-5 5 6 5-24 5 5 4-14 5 8 5-8 5 4 5-15 5 1 5-21 5 0 5-25 5-22 5-21 5-32 5-64 5-59 5-53 5-86 4-116 5-98 5-90 5-72 5-58 5-12 5 14 5 49 5 23 5 91 5 99 5 67 5 87 5 96 5 78 5 59 4 14 5 42 5 40 5 17 5 25 5 11 5 26 5-11 5 9 5 4 5 15 5-19 5 19 5-10 5-4 5 29 4-4 5 10 5-10 5 6 5-4 5 5 5-9 5 23 5-26 5 28 5-20 5 12 5-7 5 4 5 11 5-13 4-12 5 13 5 5 5-29 5 33 5 1 5-30 5 17 5 10 5-21 5 8 5 1 5 9 5 6 5-13 5 1 4 8 5-4 5-8 5 14 5-30 5 15 5-8 5-2 5 5 5-4 5 18 5-17 5-6 5 10 5-11 5-34 4 17 5 2 5-19 5 5 5-12 5 5 5-24 5-6 5 13 5 7 5 12 5-16 5-3 5 20 5-6 5 22 4-16 5-15 5 17 5 3 5-1 5 11 5 5 5 8 5 0 5 14 5 2 5 1 5 2 5-20 5 4 5 10 4 13 5-16 5 12 5 8 5 19 5-18 5-8 5 18 5-9 5-5 5 16 5-21 5 12 5-1 5 9 5-22 4-1 5 10 5 1 5 4 5-5 5 9 5 3 5-5 5-13 5 23 5-28 5 14 5 12 5-16 5 20 5 7 4-4 5-12 5 6 5-16 5 10 5 1 5-4 5 1 5-4 5-18 5 25 5-1 5 18 5-14 5-7 5 9 4-3 5-7 5-3 5-12 5 17 5 16 5-37 5 10 5 18 5-6 5 2 5-24 5 14 5 11 5 1 5-3 4-12 5 15 5-18 5 2 5-2 5 28 5-20 5 5 5-22 5 33 5-7 5-22 5 1 5 34 5-27 5 29 4-24 5-16 5 32 5-6 5 2 5-13 5 3 5 13 5-19 5-12 5 30 5-16 5 20 5-18 5 0 5 2 4-18 5 33 5-19 5 5 5 17 5-14 5 8 5-6 5 5 5-5 5 9 5-14 5 7 5-13 5 21 5-34 4 23 5 2 5 0 5-4 5 14 5 7 5-27 5-14 5 9 5 2 5 8 5 1 5 11 5-15 5 4 5 1 4-10 5 6 5 24 5-22 5-9 5-11 5 32 5-14 5-4 5 28 5-6 5-33 5 14 5 15 5-2 5-21 4 31 5 1 5-32 5-6 5 3 5 22 5 5 5-10 5-8 5 5 5 7 5-19 5-5 5 17 5 14 5-11 4 0 5-9 5 17 5-28 5 17 5-5 5 4 5-8 5 18 5-9 5-5 5 11 5-6 5-5 5 0 5 14 4-18 5 8 5-1 5 6 5-5 5 23 5-40 5 25 5-7 5 12 5-28 5 29 5-27 5 22 5-2 5-5 4-8 5-1 5 10 5-9 5-13 5 1 5 28 5 0 5-3 5-5 5 3 5 1 5-2 5-11 5 0 5-4 4 14 5-12 5 8 5 16 5-18 5 14 5 6 5-35 5 4 5 20 5-13 5 13 5 2 5-13 5 14 5 9 4-8 5-19 5 7 5-4 5 22 5-19 5-5 5 7 5 5 5-9 5 4 5-1 5 8 5 2 5-8 5-8 4 9 5-14 5 20 5-8 5-2 5-24 5 41 5-6 5-3 5-13 5 5 5 12 5-29 5 13 5-3 5-8 4 0 5-18 5 12 5-26 5 26 5-20 5-28 5-26 5 7 5-13 5-36 5 6 5-37 5-31 5-31 5-4 4-13 5 4 5 5 5-5 5 15 5 24 5 9 5 10 5 30 5 9 5 30 5 15 5 4 5 32 5 7 5 17 4-13 5 33 5 6 5-11 5 6 5 5 5 2 5 11 5-15 5-3 5 11 5 23 5-23 5-5 5 1 5 13 4 11 5-20 5 10 5 1 5 3 5-3 5 10 5-3 5-14 5 27 5-34 5 1 5 25 5-9 5-5 5 5 4 6 5-12 5-2 5-4 5 2 5 1 5 20 5-9 5 3 5-11 5 17 5-28 5 22 5 2 5-13 5-5 4 17 5-13 5-2 5 9 5-11 5 10 5 22 5-25 5 14 5-20 5 12 5-4 5 1 5 10 5 13 4-22 5 15 5-10 5 4 5-13 5-2 5 5 5-6 5 8 5-11 5 11 5 2 5 17 5-1 5-12 5-11 4 12 5 2 5-11 5-6 5-10 5 18 5 21 5-23 5 7 5 0 5 1 5 3 5-29 5 19 5 6 5-5 4 14 5-17 5 14 5 8 5-21 5 3 5-3 5 11 5-29 5 6 5 12 5 12 5-3 5-14 5 25 5-16 4-7 5 12 5 8 5-14 5-15 5 10 5 6 5 9 5-20 5 13 5-15 5 13 5-14 5 9 5-11 5 5 4-6 5-4 5 33 5 0 5-7 5-9 5 19 5-18 5 7 5 8 5-10 5 13 5-17 5 0 5 3 5-13 4 1 5 19 5-26 5 30 5-9 5 9 5-4 5-2 5 12 5-19 5 0 5 13 5-19 5 19 5-5 5-12 4-8 5-8 5 41 5-35 5 3 5 21 5-4 5-3 5-1 5-5 5-6 5 2 5 14 5 5 5 1 5-12 4-21 5 26 5-7 5-19 5 35 5-12 5-3 5 3 5-1 5 2 5-2 5-1 5 6 5-2 5 16 5-18 4-7 5-1 5 10 5-2 5 1 5-5 5 1 5 9 5 7 5-11 5-5 5-11 5 0 5 13 5-3 5 1 4-10 5 10 5-19 5 8 5 4 5 14 5-12 5-4 5 13 5-4 5 11 5-7 5-1 5-4 5 9 5-15 4-8 5 25 5-14 5 5 5 6 5 4 5-31 5 10 5 24 5-31 5 23 5-9 5-5 5 7 5-16 5 22 4 8 5-27 5 8 5 19 5-8 5-8 5 19 5-33 5 15 5 4 5-4 5 11 5-26 5 18 5-8 5 20 4-1 5-19 5-4 5 11 5-8 5 3 5 10 5-9 5 24 5-18 5-7 5-6 5 7 5 16 5-5 5 9 4-1 5-8 5-13 5 5 5 3 5-18 5 20 5-14 5 10 5-4 5 11 5 15 5-33 5 12 5 21 5-31 4 8 5 1 5 4 5-20 5 20 5 3 5 15 5-22 5-5 5 8 5-23 5 25 5 12 5-16 5 0 5-2 4 4 5-15 5 29 5-21 5 1 5 22 5-17 5-5 5 22 5-16 5 8 5-15 5-13 5 20 5 13 5-19 4 8 5 4 5-5 5-2 5 8 5-6 5-8 5 17 5-3 5-4 5 3 5-28 5 23 5-2 5-21 5 41 4-17 5-8 5 1 5 7 5-3 5-17 5 13 5 8 5 2 5 3 5-20 5 4 5 11 5-10 5 8 5-11 4 15 5-5 5 5 5-6 5-8 5-5 5 13 5-6 5-9 5 9 5 14 5 5 5-5 5 6 5-18 5 3 4-9 5 2 5 25 5-12 5 2 5 13 5 0 5-29 5 20 5-19 5 19 5-30 5 10 5 0 5 29 5-38 4 30 5 0 5-10 5 7 5 11 5-17 5-5 5 17 5-6 5-21 5 14 5 1 5-15 5 2 5 3 5-5 4 18 5-3 5-24 5 17 5 6 5-16 5 11 5 6 5-21 5 15 5-18 5 29 5-16 5-7 5-4 5 2 4 30 5-22 5 3 5 2 5-12 5 24 5-29 5 30 5-17 5 8 5 3 5 5 5-22 5 20 5-7 5-1 4-2 5 15 5-7 5 9 5-4 5-30 5 19 5 12 5-20 5-9 5-3 5 42 5-31 5 12 5-13 5 15 4 13 5-32 5 14 5-7 5-12 5 10 5 10 5 13 5 0 5-14 5-17 5 25 5-8 5 0 5-12 5 11 4 22 5-5 5-2 5-7 5-11 5 4 5 1 5 3 5-8 5-6 5 21 5-16 5 13 5-11 5 8 5-2 4 2 5-1 5-17 5-5 5 13 5 17 5-27 5-2 5 29 5-39 5 7 5-2 5-8 5-6 5 10 5-20 4-12 5-32 5 14 5-15 5-4 5 10 5 2 5 7 5 15 5-2 5 5 5 0 5 26 5-19 5 4 5 3 4-2 5-34 5-5 5-8 5-17 5 12 5 35 5-10 5 32 5 1 5 21 5 4 5-5 5-10 5 31 5-4 4-1 5 6 5-16 5 10 5 0 5-15 5 3 5 12 5-19 5 29 5 0 5-8 5 4 5-22 5 21 5 6 4-2 5 4 5-10 5 21 5-16 5 4 5 3 5-19 5-4 5 20 5-21 5 7 5 17 5-22 5 1 5-3 4 3 5 30 5-14 5 5 5-31 5 0 5 9 5 23 5 1 5-33 5 2 5 26 5-5 5 2 5 3 5-18 4 12 5-4 5 16 5-17 5-16 5 33 5 6 5-9 5-14 5-6 5 20 5-16 5 11 5 3 5-10 5-19 4 26 5-16 5-6 5 16 5 2 5-3 5 8 5-27 5 26 5 11 5-18 5-4 5 3 5 15 5-15 5-7 4-9 5 33 5 0 5-15 5 20 5-25 5 12 5-21 5 3 5 10 5 5 5 1 5-15 5 3 5 5 5-2 4 0 5 11 5 3 5-31 5 33 5-12 5 1 5 0 5 6 5-3 5-23 5 25 5-21 5 15 5-2 5-19 4 16 5-3 5-5 5 28 5-20 5-6 5 22 5-19 5-2 5-20 5 26 5 4 5 9 5-32 5 20 5 3 4-8 5-9 5-20 5 18 5-10 5-16 5 21 5-11 5-7 5 17 5-33 5-24 5-11 5 14 5-22 5-23 4-31 5-9 5-26 5-13 5-32 5-23 5-12 5-24 5 0 5-30 5 7 5 30 5-3 5-3 5 23 5 11 4 19 5 37 5 1 5 27 5 9 5 20 5 10 5 25 5 17 5 13 5 15 5 10 5 14 5-3 5 22 5-3 4 12 5-12 5 16 5-9 5-17 5 19 5 0 5-12 5 6 5 5 5 28 5-17 5 17 5-9 5 2 5-2 4-23 5 29 5-23 5 15 5-5 5 18 5-4 5 7 5-13 5-5 5 8 5 13 5-15 5-5 5-13 5 5 4 7 5 9 5-1 5-7 5 2 5 15 5 3 5-6 5 3 5-2 5 6 5-32 5 8 5 8 5 1 5 10 4-33 5 21 5 1 5-9 5 5 5 12 5-5 5-6 5 3 5-3 5 11 5-11 5 11 5-15 5 5 5-11 4 9 5 11 5-19 5 7 5 5 5-5 5 12 5-21 5 22 5 5 5 3 5-18 5-7 5-8 5 23 5 2 4-6 5 1 5 3 5-11 5-11 5 0 5 7 5-1 5-7 5 12 5-6 5 17 5-7 5 9 5-22 5 2 4-5 5 19 5 18 5-18 5-7 5 7 5-3 5 11 5-10 5-10 5-10 5 23 5 7 5-9 5-11 5 5 4 1 5 10 5-7 5 13 5-14 5-5 5 26 5-30 5 2 5 29 5-17 5 15 5-39 5 34 5-13 5 1 4 4 5-26 5 11 5 14 5 16 5-28 5 28 5-14 5 4 5-20 5 16 5-15 5-4 5 26 5-21 5 2 4 13 5-16 5-5 5 16 5 0 5 13 5-27 5 19 5 0 5-12 5 3 5 1 5-10 5-4 5 22 5-19 4 1 5 18 5-14 5 2 5-11 5 2 5-2 5 0 5 28 5-23 5-11 5 9 5 19 5-20 5 12 5-10 4-8 5 12 5-5 5 13 5 5 5-8 5 22 5-33 5 25 5-9 5 10 5-9 5-26 5 17 5 14 5-11 4-14 5 8 5 9 5 9 5-19 5 7 5-11 5-3 5 7 5 19 5-6 5-11 5 2 5 6 5-7 5-3 4 1 5 9 5-11 5 12 5-28 5 11 5 3 5 11 5-16 5 3 5 8 5-4 5-7 5 3 5-7 5 18 4-5 5 4 5 11 5-9 5-9 5-7 5 21 5-20 5-6 5 14 5-11 5-9 5 4 5 13 5-23 4-2 5-19 5-3 5 6 5-21 5-11 5-6 5-33 5-2 5-48 5-29 5-31 5-40 5-12 5-38 5-16 4-45 5 0 5 0 5-15 5 8 5-8 5 56 5-5 5 25 5 7 5 31 5 8 5 45 5 19 5 21 5 32 4 0 5 40 5 11 5 35 5 6 5 1 5 8 5 31 5-24 5 35 5-6 5 2 5-24 5 30 5-11 5-2 4 17 5-12 5 14 5-14 5 17 5-1 5-13 5 0 5 4 5 2 5 0 5 26 5-15 5-7 5 1 5-5 4 12 5-4 5-6 5 1 5 3 5-7 5 13 5-11 5 16 5-9 5 9 5-11 5-13 5 6 5 10 5 8 4 0 5 1 5 2 5-3 5 1 5-7 5 8 5-6 5 0 5 3 5 19 5-36 5 10 5 3 5 7 5-4 4 17 5-33 5 35 5-32 5 6 5 13 5-5 5-1 5 1 5 3 5 6 5-5 5-17 5 5 5 22 5 6 4-11 5 2 5-8 5 17 5-26 5 3 5-5 5 24 5-21 5 10 5-19 5-1 5 25 5-2 5 1 5-6 4-6 5-1 5-7 5 8 5 17 5-15 5-12 5 11 5-7 5-2 5 11 5-7 5-5 5 28 5 2 5-16 4 14 5-20 5 4 5 14 5-10 5 5 5-29 5 24 5-7 5 3 5-15 5 8 5 14 5 0 5 2 5 1 4 2 5-7 5-7 5-3 5 2 5-6 5 0 5 9 5-20 5 8 5 5 5 13 5 6 5-8 5-3 5-5 4 17 5-5 5-14 5 7 5 4 5 6 5-13 5 19 5-4 5-16 5 2 5-7 5 0 5 13 5 11 5 0 4-12 5-6 5-3 5 11 5-9 5 12 5-8 5 4 5-8 5 25 5-8 5-11 5-10 5 15 5 2 5-20 4 13 5 19 5-18 5-6 5 10 5 13 5-23 5 0 5 2 5 3 5 12 5-9 5-25 5 26 5 0 5 2 4-4 5-4 5 7 5-12 5-11 5 14 5-8 5 29 5-19 5 17 5-29 5 1 5 17 5-22 5 11 5-14 4 24 5-22 5 17 5-17 5 23 5 6 5-10 5-11 5 14 5 6 5-2 5 5 5 6 5-17 5-5 5-4 4 7 5-2 5-4 5 9 5 17 5-28 5 3 5 1 5-7 5 22 5-13 5 8 5-23 5 22 5-7 5-13 4 24 5 0 5-7 5 3 5-15 5 20 5-13 5 8 5 1 5-1 5-13 5 11 5-2 5 11 5-20 5 18 4-5 5-5 5 19 5-11 5-14 5 9 5-11 5-4 5 7 5 0 5 22 5-9 5-29 5 19 5-5 5 5 4 4 5-2 5 4 5-12 5 22 5-16 5 14 5-13 5 6 5-15 5 21 5-8 5-7 5 8 5 1 5-21 4 8 5-2 5 18 5-6 5-9 5-1 5 7 5-20 5 19 5 18 5-31 5 2 5 1 5 16 5-12 5 27 4-21 5-3 5-7 5 19 5 4 5-10 5 12 5-1 5-9 5-3 5-6 5 8 5-6 5 19 5-7 5-10 4-2 5 8 5 7 5-8 5 7 5-15 5 7 5 5 5-5 5 2 5 6 5-10 5 10 5-15 5 10 5-9 4 0 5 10 5 7 5-14 5 2 5 13 5-22 5 18 5-22 5-7 5 23 5-7 5-2 5-16 5 25 5-9 4-7 5 11 5-11 5 4 5-1 5 19 5-12 5 15 5-22 5-4 5 30 5-32 5 27 5-24 5 18 5-15 4 23 5 5 5-10 5-7 5-7 5 11 5 12 5-25 5-7 5 30 5-21 5 10 5-6 5 0 5-6 5 1 4-16 5 11 5-4 5 20 5-16 5 4 5-20 5 17 5 13 5-15 5 6 5-14 5-5 5 14 5-16 5-8 4 7 5-4 5 13 5-5 5-24 5 19 5-19 5 15 5 4 5-11 5 1 5 14 5-10 5-7 5 29 5-6 4-3 5 1 5 8 5-8 5 9 5-3 5-8 5 19 5-8 5-8 5 5 5-16 5 5 5 4 5 22 5 1 4 5 5-7 5 14 5-22 5-2 5-2 5 12 5-8 5-3 5 4 5 7 5-14 5 13 5 0 5 17 5-15 4-15 5 16 5-1 5-15 5-7 5 28 5-9 5-6 5 6 5 15 5 5 5-23 5 20 5-16 5 1 5-1 4 0 5-1 5-5 5 7 5-11 5 17 5-13 5 12 5-6 5-18 5 31 5-9 5-4 5-3 5 22 5-21 4 12 5-7 5-16 5 21 5-23 5 20 5 0 5-2 5-10 5 22 5 3 5-27 5 5 5 21 5-21 5 14 4-20 5 3 5 9 5 2 5-19 5 4 5 16 5 7 5-7 5-2 5 1 5-18 5 17 5 5 5-3 5-19 4 2 5 22 5-26 5 3 5 27 5-26 5 1 5 14 5 1 5-10 5-13 5 9 5 6 5-11 5-1 5 22 4-8 5 1 5 1 5-21 5 14 5 6 5-6 5-21 5-6 5 6 5 12 5-10 5 3 5-19 5 19 5-19 4 16 5-16 5-23 5 15 5-11 5-3 5 3 5 9 5-5 5 3 5-17 5-22 5 12 5-4 5 1 5 28 4-12 5-18 5 24 5-14 5-9 5 28 5-14 5 8 5 22 5-27 5 24 5-11 5-5 5 12 5 8 5 3 4-15 5 27 5-14 5 14 5 1 5-5 5 13 5-11 5-1 5-4 5-3 5 13 5-12 5 17 5-1 5 23 4-29 5 24 5-8 5-1 5-10 5-2 5 4 5 2 5 6 5-12 5 20 5 1 5-39 5 21 5-3 5-10 4-11 5 2 5 16 5 9 5-2 5 1 5-7 5 13 5-5 5 8 5-13 5-4 5-8 5 32 5-20 5-4 4-9 5 28 5-19 5 16 5 3 5 12 5-21 5-12 5 30 5-6 5-8 5 7 5 20 5-19 5-7 5 7 4 7 5-2 5 0 5 0 5-15 5 18 5 5 5-4 5-7 5 0 5 3 5-2 5-17 5 16 5 14 5-16 4-2 5 12 5-6 5-8 5 9 5 16 5 2 5-18 5-3 5 14 5-7 5 1 5-7 5-12 5-2 5 14 4-10 5 20 5 1 5 6 5-14 5 18 5-6 5-9 5 3 5-13 5-15 5 32 5-6 5 12 5-12 5-7 4-3 5-1 5 8 5-21 5 7 5 20 5-29 5 5 5 10 5 2 5 4 5 9 5-6 5 3 5-12 5 6 4-7 5 6 5 7 5-1 5-25 5 8 5 32 5-41 5 22 5-13 5 10 5-4 5 7 5-13 5 23 5 9 4-41 5 12 5-7 5 17 5 13 5 0 5-1 5-11 5-8 5 17 5-17 5-2 5 9 5-14 5 11 5-8 4 11 5 9 5-16 5 11 5 5 5-18 5 7 5-3 5 22 5-23 5 6 5-16 5 5 5 16 5-9 5 10 4-7 5 20 5-23 5 12 5-17 5 3 5-11 5 36 5-41 5 22 5-6 5 12 5-13 5 25 5-8 5-6 4-1 5 6 5-7 5 12 5-7 5-10 5 5 5-3 5 10 5-15 5 4 5-15 5 20 5-5 5-10 5 24 4-18 5-13 5 23 5-14 5-21 5 24 5-5 5 0 5-4 5-7 5 8 5-20 5 15 5 9 5 1 5-17 4 24 5-17 5-8 5 6 5-8 5 16 5-18 5 2 5-4 5 4 5 6 5 23 5-16 5 11 5-11 5 10 4-19 5 0 5 32 5-14 5-20 5 24 5-7 5 0 5 12 5-21 5 26 5-9 5-7 5-9 5 33 5-22 4-10 5 13 5 7 5 2 5 9 5-9 5-7 5 21"/>
<path transform="scale(.1)" fill="none" stroke="#0000ff" stroke-width="70" stroke-linejoin="round" d="M1148 9191l5 14 5-74 5 36 5 23 5 6 5-13 5 16 4-23 5 5 5-7 5-24 5 4 5 24 5-19 5 36 5 0 5 10 5-35 5 27 5-44 5 2 5 17 5 4 4-36 5-2 5 39 5-23 5 39 5-15 5-2 5-1 5 13 5-41 5-4 5-51 5 26 5 19 5 45 5-11 4-16 5 53 5-44 5 5 5 9 5 25 5-35 5 16 5-11 5-29 5 42 5 4 5-23 5 4 5-28 5 0 4 21 5 19 5-20 5 14 5 12 5-16 5 9 5 16 5-49 5 36 5-48 5 42 5-4 5-13 5-10 5 18 4-6 5 9 5-18 5 26 5-28 5 13 5-1 5 29 5-49 5 19 5 29 5-33 5-10 5 27 5-10 5 20 4-32 5 20 5 9 5 6 5-38 5 45 5-41 5-11 5 10 5 20 5-9 5 14 5 1 5-3 5-10 5 36 4-67 5 5 5 21 5-13 5-13 5 21 5 1 5-22 5 50 5 8 5-1 5-30 5 11 5-22 5 23 5-15 4 19 5-13 5 23 5-3 5 7 5-49 5-4 5 39 5-17 5 17 5-2 5-2 5 12 5-6 5-1 5-23 4 44 5-27 5 17 5-14 5 17 5-19 5 1 5-2 5-14 5 2 5 8 5 0 5-15 5 51 5-50 5 11 4 39 5-58 5 7 5-15 5-2 5-3 5 11 5 26 5 7 5-40 5 36 5-14 5 26 5-12 5-16 5 6 4 8 5 22 5 11 5-27 5-4 5 9 5-11 5 11 5-4 5-6 5-13 5 16 5 12 5-13 5 23 5-9 4-18 5 31 5-47 5 38 5 11 5-35 5 3 5 17 5 8 5-16 5-3 5 11 5-11 5-24 5 17 5 3 4-24 5 31 5-19 5 24 5-36 5 9 5-8 5 44 5 0 5 3 5 0 5-9 5 0 5-42 5 33 5-14 4 3 5-14 5 40 5-18 5-26 5 32 5-10 5-15 5 11 5-7 5-21 5 8 5 32 5-2 5-2 5-23 4 9 5 11 5 10 5-24 5-4 5 35 5-17 5-7 5-6 5 2 5 35 5-10 5-21 5-14 5 46 5-1 4-6 5-6 5-42 5 9 5 29 5-13 5 8 5-12 5-2 5 19 5-15 5 6 5 4 5 0 5 14 5 4 4-43 5 17 5-5 5 21 5-28 5 28 5-1 5-2 5-23 5 11 5-13 5 23 5 8 5-38 5 11 5 10 4-5 5 30 5-24 5 6 5-21 5 40 5-21 5 10 5-11 5-31 5 6 5 5 5 26 5-15 5 14 5-2 4 0 5 10 5-11 5-28 5 15 5 35 5-41 5 37 5 4 5-34 5 14 5-26 5 33 5-23 5-8 5 14 4-1 5-2 5 11 5-5 5-7 5 24 5 15 5-28 5-12 5-4 5 23 5-12 5 4 5-30 5 13 5 0 4 31 5-18 5-26 5 37 5 9 5 3 5-48 5 31 5 10 5-3 5-13 5-22 5 20 5 1 5 13 5 1 4-13 5 16 5-27 5 5 5 10 5 8 5-13 5 23 5-12 5-20 5 15 5-14 5-1 5-6 5 40 5-7 4-36 5 39 5-2 5-19 5 13 5 21 5-25 5 2 5 10 5-31 5-3 5-2 5 19 5 14 5-25 5-7 4 22 5-8 5 14 5-10 5-1 5 2 5 1 5-14 5-2 5 38 5 6 5-12 5-39 5 23 5 17 5-40 4 16 5 1 5-7 5 1 5 26 5-21 5 3 5 28 5-37 5-15 5 36 5 18 5-24 5 1 5-23 5 5 4 33 5-3 5-10 5-18 5-8 5 1 5-3 5 24 5-21 5 1 5 14 5-5 5-15 5-1 5-16 5-39 4 14 5-17 5-10 5 2 5-13 5 30 5-11 5 16 5 15 5 4 5 22 5 10 5 5 5-13 5 1 5 7 4 10 5-24 5 15 5-3 5 7 5-2 5 24 5-5 5 8 5-27 5 3 5 7 5 27 5 1 5-31 5 17 4 19 5-41 5 11 5 21 5-8 5-23 5 34 5-7 5-4 5-26 5 14 5 21 5-12 5 5 5-15 5 24 4-23 5 16 5-8 5-18 5 33 5-37 5 7 5 12 5-20 5-6 5 23 5-4 5 2 5 10 5 21 5-33 4 33 5-24 5-5 5-25 5 6 5 24 5 4 5-18 5 15 5 8 5-20 5-14 5 9 5 9 5 8 5 6 4-23 5 13 5-4 5 4 5 14 5 3 5-23 5-2 5-1 5 2 5 2 5 3 5-5 5-7 5-1 5 16 4 26 5-19 5 1 5-4 5-7 5 29 5-31 5-8 5-4 5 19 5-16 5 2 5 0 5-6 5 20 5-24 4 48 5-52 5 8 5 19 5 4 5-10 5 9 5-2 5 0 5 6 5-5 5-4 5-1 5 14 5-14 5 10 4 13 5-15 5 10 5-21 5 9 5 3 5-3 5 3 5 12 5-22 5-5 5 13 5-23 5 19 5 15 5-15 4 7 5-2 5 10 5-9 5-3 5-29 5 19 5 16 5-11 5-8 5 21 5-22 5 6 5 14 5-16 5 9 4-2 5-16 5 9 5 2 5-4 5 23 5-15 5-8 5-9 5 13 5 21 5-20 5 13 5-4 5-12 5-5 4 18 5-28 5 29 5-22 5 26 5-16 5 4 5 14 5-26 5 14 5-5 5 10 5 3 5-5 5-1 5-8 4 13 5-11 5 5 5 1 5-20 5 3 5 17 5-3 5 16 5-40 5 27 5 11 5-12 5 8 5-9 5-1 4 12 5-27 5-9 5 31 5-5 5 0 5 3 5 4 5-14 5 12 5-2 5-18 5 12 5 6 5-14 5 23 4-17 5 14 5 8 5-36 5 2 5 24 5-10 5 9 5 15 5-27 5 16 5-14 5-4 5 14 5-3 5 10 4-9 5 7 5-5 5-27 5 16 5 1 5 15 5-24 5 15 5-7 5-17 5 20 5 10 5-12 5 16 5-7 4-1 5-10 5 4 5 8 5-5 5-16 5 13 5 7 5 9 5-3 5-23 5 21 5-28 5 12 5-2 5 28 4-10 5-5 5-11 5 23 5-18 5 8 5 8 5-17 5 10 5-30 5 31 5-28 5 26 5-2 5 3 5 18 4-48 5 30 5-11 5 14 5-5 5-3 5-7 5-2 5 13 5-23 5 31 5-20 5 13 5-20 5 20 5-8 4 12 5 5 5-21 5 8 5 2 5 14 5-33 5 23 5-8 5-14 5 11 5-4 5 21 5-24 5 23 5-18 4 14 5-29 5 12 5 11 5-13 5-8 5 19 5 9 5-9 5-2 5 7 5-10 5 16 5 2 5-28 5 28 4-5 5-4 5 5 5 8 5 6 5-3 5-22 5 19 5-36 5 30 5-2 5 3 5-22 5 28 5-2 5-13 4-19 5 21 5-14 5-9 5 10 5 32 5-41 5 14 5 6 5 9 5-23 5 0 5 22 5-7 5 11 5-28 4 12 5 13 5-10 5-15 5 15 5-24 5 13 5 19 5 1 5-6 5 4 5-26 5 10 5 20 5 11 5-18 4-16 5-1 5 26 5-1 5-27 5 15 5 15 5 0 5-22 5 4 5 7 5-18 5-6 5 11 5 22 5-1 4-7 5-20 5-9 5 11 5 12 5 12 5-23 5 12 5-22 5-2 5 22 5-13 5 1 5-10 5 32 5-31 4 21 5-17 5 13 5 20 5-13 5-2 5 9 5-4 5 10 5-33 5 33 5-15 5-13 5 19 5 0 5-7 4 10 5-25 5-4 5 13 5 19 5-6 5-6 5-8 5 8 5 13 5-19 5-1 5 12 5 3 5-6 5 15 4-14 5-14 5-11 5 36 5-15 5 6 5 1 5 10 5-3 5 0 5-9 5-5 5 5 5-12 5 14 4 8 5-4 5-7 5-11 5-1 5 2 5 4 5 10 5 0 5 1 5 5 5-23 5 9 5 9 5 3 5-17 4 0 5 21 5-5 5-3 5-8 5-8 5 11 5 3 5 3 5 4 5-9 5 13 5-18 5 8 5-3 5-21 4 5 5 9 5 8 5 2 5 11 5-15 5-4 5 8 5-18 5 12 5-10 5 13 5-9 5 3 5 27 5-10 4 11 5-21 5-4 5-7 5 8 5-19 5 21 5-8 5-8 5-6 5 11 5 5 5 4 5-18 5 18 5 4 4 20 5-19 5 6 5-18 5 8 5-9 5-1 5 15 5-8 5 19 5-17 5 5 5-18 5 2 5 19 5-15 4 22 5-24 5-1 5 32 5-41 5 13 5 12 5 1 5-20 5 36 5-28 5-17 5 32 5-16 5 6 5 8 4-19 5 2 5 7 5 10 5-24 5 30 5-12 5-17 5 13 5 5 5 7 5-4 5 2 5-14 5 9 5-32 4 33 5-12 5 17 5-26 5 0 5 3 5 7 5-8 5 4 5-16 5 4 5 1 5-24 5-30 5-57 5-24 4-56 5-84 5-53 5-77 5 8 5 18 5 52 5 31 5 54 5 84 5 18 5 62 5 36 5 5 5 7 5 18 4 2 5 2 5 15 5 0 5 24 5-5 5-11 5 5 5 14 5-5 5-12 5-8 5 29 5-19 5 3 5 13 4-13 5 13 5-17 5 5 5-4 5 25 5-38 5 14 5-8 5 2 5-6 5 5 5 23 5 3 5-23 5-7 4 9 5 23 5-19 5-21 5 32 5-11 5 8 5-2 5-19 5 26 5-4 5-15 5-14 5 9 5 0 5 21 4-15 5 2 5 5 5-5 5 9 5 0 5 7 5-24 5 17 5-7 5 26 5-6 5-21 5 15 5-30 5 8 4 9 5 6 5-16 5 13 5 13 5-31 5 3 5-6 5 33 5-24 5 7 5-5 5 9 5-3 5 6 5 0 4 15 5-28 5 13 5-3 5-9 5 19 5 11 5-32 5 34 5-24 5 1 5-21 5 22 5-2 5-1 5 10 4-9 5 6 5-11 5-6 5 14 5 5 5 1 5-6 5-9 5 8 5-3 5-11 5 17 5-5 5-10 5 9 4 9 5 10 5-36 5 16 5 10 5 7 5-9 5-15 5 6 5 5 5-9 5-3 5-2 5 36 5-22 5-3 4 11 5-7 5-3 5 5 5-11 5 4 5 14 5-3 5-19 5 29 5-21 5-13 5 25 5-1 5-3 5-14 4 23 5-7 5-2 5-1 5 1 5 18 5-27 5 9 5 9 5-4 5-17 5 7 5-3 5-11 5 13 5 13 4-7 5 9 5-8 5-12 5 13 5-25 5 33 5-18 5 22 5-33 5 4 5 6 5 2 5-15 5 4 5 19 4-14 5 18 5 8 5-34 5 12 5 23 5-7 5-27 5 19 5 14 5-40 5 26 5 8 5-18 5-1 5 15 4-26 5 24 5 7 5-13 5-18 5 34 5-17 5 6 5-16 5 8 5 13 5-29 5 2 5-7 5 26 5 0 4-15 5 13 5-4 5 21 5-35 5 16 5-8 5 24 5-15 5-19 5 18 5-7 5-10 5 15 5-4 5-15 4 7 5 17 5-3 5-13 5-4 5 6 5-6 5-13 5 18 5-18 5 23 5-12 5-2 5-14 5 2 5-13 4-3 5-12 5 20 5-36 5 20 5-23 5-34 5 2 5-42 5-59 5-56 5-101 5-133 5-157 5-194 5-220 4-188 5-112 5-34 5 51 5 83 5 130 5 138 5 168 5 179 5 152 5 115 5 89 5 80 5 54 5 36 5 8 4 37 5 0 5 25 5 10 5 4 5 17 5-8 5 8 5-9 5 11 5 2 5 6 5-1 5-17 5 32 5 0 4-28 5 26 5 9 5-2 5 1 5-9 5-3 5 27 5-15 5 14 5-18 5 11 5-1 5 1 5-22 5 35 4-18 5-6 5 7 5-22 5 34 5-19 5 8 5-1 5-21 5 15 5 17 5-21 5 11 5 8 5 6 5-26 4 19 5-4 5-2 5 4 5-3 5-20 5 14 5-15 5 7 5-13 5 14 5-13 5-14 5-22 5 1 5-24 4-3 5-11 5 29 5-10 5 20 5 10 5 7 5-6 5 28 5 4 5-19 5 22 5-8 5 10 5 17 5-8 4 15 5-9 5 2 5 10 5-4 5-4 5 7 5-2 5-27 5 4 5 12 5 11 5-19 5-10 5 17 5-5 4 22 5-38 5 31 5-2 5-29 5 12 5 8 5 7 5-4 5 6 5-4 5-10 5 26 5-15 5-12 5 14 4-6 5-3 5-2 5-9 5 6 5-4 5-7 5 26 5-2 5-6 5-9 5 3 5 25 5-25 5 18 5-6 4 2 5-10 5 2 5 2 5-11 5 26 5-23 5 11 5 17 5-3 5-22 5 12 5 5 5-32 5 42 5-15 4-9 5 2 5-21 5 30 5 9 5-19 5 19 5-9 5-22 5 20 5-27 5 2 5 26 5-1 5-6 5-1 4-15 5 27 5-11 5-2 5 23 5-17 5-4 5 21 5-17 5-8 5 21 5-17 5-7 5 5 5 3 5 10 4 4 5-26 5 26 5-20 5 2 5-18 5 40 5-11 5-9 5 1 5 12 5-10 5-23 5 26 5-4 5 2 4-1 5 9 5-17 5 28 5-19 5-9 5 9 5-20 5 17 5-6 5-3 5 19 5-5 5-14 5 4 5 10 4 17 5-22 5 0 5 7 5-19 5 13 5 8 5-3 5-1 5-16 5 13 5 15 5 5 5-10 5-16 5 1 4 3 5 22 5-34 5 12 5-16 5 14 5 1 5 13 5-1 5-7 5-5 5-1 5 22 5-19 5-11 5 4 4 8 5-8 5-9 5 27 5-17 5 6 5 2 5-4 5 1 5-20 5 22 5-3 5-2 5 4 5 21 5-3 4-9 5 8 5-21 5 4 5 6 5 4 5 0 5 10 5-20 5 15 5-21 5 13 5-16 5 23 5-19 5 20 4-34 5 39 5-19 5 5 5-2 5-21 5 12 5-1 5 6 5-16 5 10 5 8 5 11 5-5 5-20 5 22 4 8 5-9 5-12 5-6 5 5 5 22 5-28 5-11 5 31 5-16 5 6 5-4 5 16 5-16 5-3 5-1 4 27 5-3 5-19 5-2 5 4 5 8 5-15 5 25 5-14 5-25 5 11 5 8 5 23 5-3 5-15 5-14 4 11 5 1 5-5 5 6 5 6 5-13 5-7 5 13 5-18 5 12 5 17 5-11 5-15 5 12 5-3 5 4 4 9 5-16 5-8 5 29 5-26 5 15 5-2 5-8 5 9 5-3 5-2 5 5 5-16 5 16 5-20 5 18 4 3 5-25 5 27 5-30 5 2 5-13 5-1 5-6 5-23 5-5 5-49 5-27 5-63 5-50 5-35 5-24 4-8 5 25 5 25 5 10 5 28 5 17 5 28 5 42 5 37 5 42 5 15 5 11 5-10 5 19 5 21 5 5 4-3 5-11 5-6 5 5 5 21 5 3 5 16 5-25 5 11 5-11 5 7 5 3 5-6 5 21 5-26 5 20 4-10 5-3 5 17 5-17 5 10 5-3 5 7 5-19 5 15 5 2 5-11 5-4 5 0 5 10 5-7 5 14 4-7 5-2 5 3 5 1 5 0 5 5 5 7 5-8 5 1 5 11 5 0 5-15 5-12 5 23 5-20 5 0 4 0 5 5 5-18 5 16 5 17 5 9 5-15 5 3 5 1 5-15 5-4 5 14 5 8 5-10 5 2 4-4 5-1 5-4 5 17 5-3 5-10 5 5 5 3 5 5 5 8 5-1 5-18 5 3 5-6 5 11 5 4 4-29 5 18 5 14 5-30 5 31 5-4 5-17 5-5 5 28 5-22 5-9 5 14 5-15 5 4 5 28 5-23 4 3 5-15 5 8 5 19 5-6 5 7 5-1 5-8 5-7 5-17 5 33 5-10 5 19 5-22 5 0 5-4 4-7 5 13 5 3 5-1 5-6 5-5 5 20 5-1 5-17 5-7 5 7 5 0 5 17 5-19 5 13 5-15 4 10 5 21 5-27 5 11 5-9 5 17 5-8 5-4 5 15 5-6 5-2 5-19 5 3 5 24 5-27 5 29 4 0 5-19 5-7 5-4 5 21 5-3 5-14 5-2 5 15 5-11 5 6 5-15 5 20 5-3 5-7 5-7 4 11 5 5 5 1 5-4 5-9 5 15 5 5 5-18 5-7 5 28 5-13 5-22 5 29 5-7 5-9 5 8 4-12 5 2 5-8 5 29 5-18 5 8 5 1 5-23 5 21 5-14 5 25 5-26 5 22 5 8 5-14 5 8 4 3 5-12 5-4 5-13 5 34 5-8 5-4 5-24 5 29 5-15 5 5 5 2 5 8 5-14 5-4 5 13 4-3 5-9 5 28 5-10 5-28 5-4 5 0 5 16 5 9 5 13 5-16 5-9 5 9 5-1 5-10 5 11 4-21 5 16 5 8 5-7 5 8 5 6 5-5 5 1 5 0 5-9 5 12 5-7 5-13 5 20 5-10 5-21 4 39 5-17 5-8 5 16 5-4 5-1 5 15 5-6 5-14 5-4 5-6 5 17 5-3 5 10 5-9 5 5 4 7 5-19 5-4 5 9 5-13 5 11 5 0 5 17 5-18 5 16 5-17 5 4 5-5 5 4 5-5 5-5 4-2 5 22 5-7 5 15 5-1 5-26 5 29 5-23 5-12 5 4 5 6 5-16 5 27 5-9 5 10 5-3 4 0 5 4 5-2 5-19 5 30 5-21 5 5 5 7 5-14 5 2 5-14 5 26 5 0 5-11 5-4 5-14 4 26 5-14 5 4 5 2 5-1 5 6 5 4 5-4 5-13 5 11 5-1 5-9 5 7 5 12 5-1 5-2 4 1 5-26 5 22 5 13 5-18 5 0 5-5 5 11 5-3 5-10 5 11 5-1 5 4 5 0 5-11 5 11 4-4 5-1 5-3 5 5 5-7 5-5 5 22 5-24 5 15 5 5 5-5 5-6 5 2 5-14 5 19 5-13 4 8 5-8 5 18 5-13 5 4 5 14 5-23 5 7 5-19 5 18 5-2 5-2 5 14 5 8 5-7 5-1 4 3 5-16 5-2 5 11 5 14 5-22 5-10 5 16 5 9 5-3 5-2 5-6 5 9 5-12 5 17 5 1 4-5 5 11 5 0 5-27 5 6 5-8 5-7 5 5 5 10 5 7 5-1 5-26 5 21 5-11 5 18 5-15 4 18 5 7 5 2 5-21 5 4 5-5 5 3 5 17 5-35 5 12 5 7 5-6 5-7 5 23 5-12 5-4 4-9 5 12 5 11 5-11 5 13 5-15 5-5 5 9 5-10 5-6 5 21 5 5 5 7 5-37 5 29 5-3 4-5 5 4 5 2 5-2 5 0 5-8 5 20 5-17 5 11 5-15 5 3 5-1 5 4 5 11 5-29 5 28 4-20 5 28 5-30 5 11 5 5 5-23 5 16 5 1 5 3 5-6 5-9 5-8 5 13 5 2 5 0 5 12 4-7 5-19 5 9 5 20 5-5 5-6 5-5 5 15 5-19 5 0 5 18 5-30 5 30 5-16 5 8 5-9 4-15 5 22 5-11 5 6 5 4 5-3 5-2 5 4 5-23 5 33 5-40 5 9 5-4 5-14 5 0 5-30 4-16 5-5 5-51 5 3 5-46 5 22 5 7 5 19 5-16 5 9 5 33 5 9 5 10 5 2 5 27 5 13 4 3 5 36 5-12 5 0 5 14 5-5 5 9 5-11 5 2 5 4 5 17 5-12 5 19 5-1 5-20 5 1 4 18 5-15 5-1 5 23 5-5 5-7 5-25 5 21 5-19 5 20 5 1 5 15 5-32 5 16 5 2 5 1 4 1 5 6 5-6 5-9 5 1 5 14 5-14 5-18 5 5 5 3 5 0 5 16 5-1 5-20 5 7 5 15 4 0 5-5 5 21 5-29 5 20 5-9 5-24 5 10 5 13 5-10 5 5 5 2 5 5 5-7 5 10 5-9 4-8 5 6 5-9 5 21 5-23 5 9 5 2 5 9 5 10 5-27 5 8 5-1 5-3 5-10 5 19 5-21 4 35 5-6 5 2 5 8 5-20 5-7 5-12 5 32 5-4 5-14 5-6 5 15 5-1 5-15 5 28 5-21 4 11 5-25 5 8 5 12 5-12 5 29 5-38 5 14 5-14 5 15 5 17 5-10 5-5 5 15 5-29 5 3 4-4 5 28 5-29 5 31 5-21 5 5 5-2 5 13 5-15 5 2 5 0 5 2 5-9 5 10 5-12 5 17 4-11 5 19 5-29 5 15 5-3 5 19 5-13 5-8 5-1 5-6 5 28 5-1 5-23 5-8 5 11 5 1 4-19 5 4 5-4 5 0 5 5 5-19 5-13 5 35 5-33 5-2 5-25 5-15 5-29 5-46 5-31 5-83 4-88 5-76 5-67 5-37 5 21 5 38 5 35 5 43 5 12 5 35 5 7 5 15 5 42 5 65 5 22 5 44 4 50 5 29 5 16 5 6 5 17 5 35 5-29 5 21 5 11 5 1 5 17 5-16 5-6 5-2 5 6 5 19 4-25 5 15 5-11 5 9 5 22 5-17 5 2 5-9 5-11 5 8 5 4 5 5 5-19 5 19 5 17 5-20 4 13 5-5 5-3 5-2 5 11 5 10 5-36 5 29 5-14 5 8 5 7 5-9 5 19 5-9 5-15 5 13 4-25 5 19 5-9 5-3 5 20 5-8 5-8 5 9 5-4 5-1 5-15 5 11 5 11 5-1 5-3 5-13 4 4 5-12 5 9 5 24 5 5 5-17 5-1 5-15 5 18 5-8 5 26 5-15 5-6 5-16 5 32 5-15 4 20 5-13 5-9 5 10 5 0 5-14 5 20 5 6 5-27 5-14 5 29 5-6 5-2 5-9 5 25 5-37 4 34 5-18 5-16 5 12 5 9 5 21 5-9 5-14 5 2 5 14 5-5 5 12 5-28 5 12 5-11 5 8 4-17 5 15 5-15 5 19 5 12 5-13 5-1 5-3 5-13 5 7 5 3 5-7 5 22 5-30 5 8 5 1 4 7 5-9 5-3 5 2 5 5 5-7 5 26 5-11 5 13 5-19 5 12 5-7 5 3 5 14 5-9 5-4 4-5 5-17 5 17 5-5 5 26 5-25 5 7 5-2 5-6 5 17 5-21 5 17 5-26 5 14 5 23 5-19 4 4 5 1 5-3 5-21 5 5 5 25 5-8 5-16 5 1 5 26 5-18 5 3 5-2 5-4 5 11 5 3 4-8 5 2 5-8 5 22 5-29 5 18 5 4 5 5 5-11 5 4 5-7 5-6 5 9 5 10 5-4 5-19 4 13 5 12 5-9 5 11 5-14 5-3 5-18 5 34 5-31 5 12 5-5 5 2 5 16 5-25 5 20 5-16 4 12 5 5 5-7 5-1 5 2 5-1 5 8 5-2 5-8 5 25 5-28 5 25 5-20 5 15 5-3 5-14 4 11 5 13 5-37 5 2 5 5 5 27 5-14 5-12 5 5 5 4 5-11 5 5 5 4 5 3 5 5 5-16 4 3 5-12 5 11 5 2 5-2 5 4 5-16 5 21 5-11 5 9 5-23 5 6 5 1 5-11 5 15 4-14 5-19 5 19 5-24 5-1 5-9 5-40 5-4 5-44 5-74 5-33 5-90 5-68 5-31 5-58 5 2 4 58 5 41 5 33 5 47 5-11 5 12 5 24 5 1 5 26 5 44 5 31 5 37 5 43 5 22 5 23 5 8 4 21 5 10 5 9 5-10 5 3 5-3 5 18 5 8 5 2 5 0 5 5 5 7 5-15 5 6 5-14 5 13 4 5 5-14 5 27 5-14 5 3 5-5 5 18 5-18 5 7 5-6 5-6 5 3 5-4 5 2 5 12 5-16 4 5 5 11 5 4 5-11 5-3 5-10 5 19 5-14 5 2 5 13 5-12 5 11 5-1 5-12 5 6 5 14 4-9 5-1 5-16 5 13 5 13 5-15 5 7 5 6 5 10 5-37 5 28 5 1 5-11 5 19 5-32 5-2 4 13 5 8 5-17 5 10 5-5 5 26 5-26 5 19 5-34 5 20 5 1 5-14 5 10 5 7 5-6 5-3 4 5 5 5 5 1 5-11 5 15 5-10 5 21 5-21 5 3 5-13 5 26 5-17 5 5 5 6 5-13 5 6 4-6 5-4 5-5 5-8 5 10 5-9 5 27 5-19 5 32 5-22 5-6 5 23 5-13 5-4 5-1 5 17 4-22 5-4 5 10 5 5 5-24 5 7 5 5 5 4 5 4 5-19 5 15 5-15 5 27 5-11 5 11 5 7 4-12 5-1 5-8 5 1 5 12 5 3 5 10 5-27 5-2 5 30 5-19 5-11 5 21 5-13 5-3 5-8 4 22 5 0 5 8 5-15 5-5 5 5 5 1 5-6 5-10 5 3 5 9 5-3 5 22 5-16 5-3 5-5 4 13 5-8 5 12 5-9 5 10 5-12 5 8 5 6 5-17 5 19 5-15 5 20 5-4 5-4 5-2 5 9 4-23 5 15 5-11 5 4 5 3 5 5 5-18 5-4 5-4 5 21 5-11 5 11 5 5 5 1 5-32 5 21 4 0 5-12 5-6 5 20 5 16 5-32 5 10 5 7 5-26 5 39 5-27 5 20 5 9 5-17 5-14 5 11 4-5 5 12 5-17 5 21 5-18 5 27 5-35 5 24 5-24 5 28 5-13 5-20 5 10 5 3 5-7 5 14 4-12 5 11 5 6 5-5 5-4 5 0 5 9 5-11 5 5 5-20 5 11 5 13 5-5 5 2 5 0 5 14 4-21 5-11 5 30 5-11 5-10 5-5 5-7 5 11 5 7 5 15 5-17 5 1 5-5 5-6 5 17 5-1 4-5 5 11 5-24 5 15 5-3 5 10 5-15 5 4 5-1 5 7 5-5 5-1 5-7 5 2 5 14 5-13 4 18 5 9 5-4 5-9 5-1 5 2 5-6 5-2 5 0 5-7 5 3 5 23 5-31 5 1 5-7 5 27 4 12 5-8 5-15 5 12 5-4 5 3 5-17 5 19 5-17 5 11 5 4 5 2 5 10 5-4 5-17 5 23 4-38 5 11 5 8 5 4 5-5 5-1 5 17 5-34 5 15 5-6 5 7 5-4 5 10 5 7 5 5 5-37 4 15 5 18 5-12 5-4 5 2 5 11 5-11 5 3 5-4 5 3 5 2 5 18 5-14 5-4 5 9 5-27 4 12 5 5 5-13 5 9 5-1 5-2 5-1 5 7 5 9 5-14 5 8 5 1 5-10 5 3 5 12 5-25 4 16 5-1 5-6 5-15 5 28 5 13 5-22 5 10 5-6 5 0 5-5 5 6 5-14 5 9 5 2 5 0 4-10 5 17 5-24 5 2 5 15 5-20 5 38 5-34 5 8 5 19 5-28 5 29 5-2 5-3 5-12 5 14 4-16 5 9 5-20 5 18 5-3 5-3 5 1 5-22 5 19 5-15 5 1 5 1 5-14 5 12 5-13 5 7 4-10 5-10 5 17 5-11 5 5 5-9 5-11 5 25 5-28 5 15 5-10 5 24 5-22 5 29 5 16 5-28 4 23 5 11 5-30 5 15 5-5 5 9 5-2 5 25 5-16 5 19 5 1 5-6 5-16 5 0 5-2 5 16 4-7 5 2 5 0 5 18 5-20 5-2 5 7 5 0 5 10 5 1 5-23 5 14 5-9 5 10 5-9 5-5 4 6 5 7 5-15 5 15 5-5 5-3 5 8 5 3 5-9 5-20 5 13 5 20 5-25 5 17 5-22 5 38 4-29 5 16 5-12 5 7 5 11 5-13 5-10 5 26 5-17 5 16 5-22 5 4 5 11 5 2 5-2 5-15 4 13 5-20 5 24 5-7 5 6 5-13 5 4 5 7 5-20 5 9 5 15 5-3 5-10 5-3 5-6 5 9 4 10 5-5 5-14 5 3 5 16 5-29 5 38 5-38 5 21 5-7 5-1 5 1 5 10 5-5 5-2 5 20 4-12 5-5 5-15 5 13 5 2 5 6 5-5 5-1 5-5 5 14 5-27 5 19 5 12 5-34 5 34 5-9 4-2 5-12 5 0 5-2 5 30 5-30 5 29 5-23 5-9 5 16 5-11 5-8 5 1 5 8 5-16 5-11 4-2 5-9 5-33 5 12 5-36 5 5 5 16 5 5 5 6 5 12 5 15 5 19 5-9 5 13 5-18 5 14 4-28 5-2 5-39 5 1 5 4 5-22 5 24 5 10 5 32 5-3 5 21 5 4 5 6 5-13 5 27 5-25 4 33 5-10 5-10 5 8 5-16 5 12 5 7 5 20 5-36 5 13 5-9 5 14 5 9 5-27 5 11 5 8 4-18 5-1 5-5 5 1 5-1 5-14 5 1 5-11 5 11 5-2 5 9 5-12 5 1 5-12 5 25 5-5 4-5 5 11 5 9 5-4 5 1 5 5 5-16 5 11 5 8 5-16 5 14 5 18 5-22 5 8 5 5 5 12 4-21 5 21 5 8 5-12 5-12 5 27 5-10 5 0 5 10 5-9 5-8 5-14 5 34 5-17 5-2 5 8 4 4 5-20 5 10 5-7 5-4 5 5 5 1 5 3 5-12 5 5 5 18 5-24 5 14 5-12 5 7 5 7 4 7 5 1 5-19 5 24 5-27 5 26 5-27 5 5 5 16 5-9 5 11 5-6 5-1 5 10 5-14 5-1 4 8 5-3 5 3 5 2 5 5 5-18 5-10 5 18 5 6 5-4 5-15 5-5 5 0 5 21 5-11 5 18 4 9 5-11 5-5 5-2 5 3 5 16 5-24 5-9 5 18 5 8 5-25 5-2 5-5 5 17 5-13 5 30 4-27 5 24 5-9 5-24 5 22 5 15 5-8 5-13 5 3 5 3 5 0 5-3 5-8 5-2 5-9 5 21 4-2 5-10 5 24 5-20 5 21 5-17 5-3 5 11 5-16 5 24 5 5 5-20 5 7 5-15 5 15 5 7 4-16 5 8 5-1 5-5 5 19 5 4 5-31 5 17 5-28 5 21 5 3 5-5 5 4 5 2 5 11 5-15 4-8 5 12 5 16 5-24 5 20 5-11 5-18 5 12 5-4 5 12 5-22 5 18 5-2 5-22 5 19 5-6 4 19 5-5 5 2 5-8 5-12 5 23 5-4 5-9 5 1 5 9 5-2 5-9 5-3 5 14 5-11 5-7 4 5 5-5 5 6 5-8 5 3 5 4 5-10 5-3 5 6 5-13 5 5 5-1 5 4 5-1 5-5 5 16 4-26 5 7 5 16 5-17 5 3 5-8 5 12 5 13 5-16 5-6 5 8 5-13 5 8 5 29 5-33 5 1 4 13 5-7 5 9 5 24 5-9 5-19 5 22 5 0 5 3 5-17 5 9 5-7 5 9 5-1 5 11 5-7 4-8 5-19 5 26 5 2 5 4 5-8 5 1 5-3"/>
<path transform="scale(.1)" fill="none" stroke="#ff0000" stroke-width="70" stroke-linejoin="round" d="M1148 11810l5 5 5-10 5-10 5 7 5-9 5 18 5 23 4-32 5-2 5 19 5-2 5-5 5-17 5 15 5 13 5-35 5 15 5-25 5 11 5-10 5 28 5-18 5 27 4-2 5-6 5-31 5 25 5 8 5 3 5-28 5 18 5-8 5 3 5 32 5-32 5 13 5 16 5-25 5 8 4 4 5-1 5-22 5 22 5 22 5-49 5 41 5-13 5-12 5 44 5-21 5-33 5 22 5 8 5-13 5 15 4-12 5 12 5 13 5-35 5 14 5-11 5 10 5-22 5 10 5 7 5 18 5 4 5-41 5 9 5 24 5-43 4 25 5 6 5 22 5-9 5-17 5 0 5 2 5 29 5-32 5 2 5 11 5-8 5-1 5-15 5 18 5-7 4 26 5-8 5-11 5 11 5-16 5 22 5-17 5 10 5-30 5 26 5-32 5-5 5 27 5-10 5 17 5 30 4-45 5 3 5 13 5 5 5-11 5 0 5 14 5-3 5-24 5-4 5-25 5-37 5 41 5 8 5 49 5-12 4-2 5-11 5 8 5-30 5 14 5 24 5-37 5 44 5-40 5 39 5-25 5 25 5-10 5-26 5 44 5 3 4-24 5-3 5 2 5-13 5 33 5-26 5 8 5-12 5 3 5-10 5 39 5-21 5 17 5-15 5-11 5 6 4-3 5 8 5-6 5 2 5-17 5 9 5 38 5-36 5-6 5 22 5 16 5-44 5 20 5-7 5-17 5 38 4-11 5 1 5-12 5 18 5-15 5 6 5-15 5-1 5 38 5-27 5 12 5-5 5-6 5-1 5 17 5-14 4 2 5 3 5 17 5-7 5-4 5-15 5-12 5 35 5 0 5-16 5 10 5 4 5 1 5 1 5-20 5 29 4-41 5 31 5-5 5 5 5 15 5-5 5-39 5-8 5 37 5-27 5 15 5 12 5-36 5-5 5 33 5-3 4-4 5 4 5-13 5-10 5 20 5-12 5-10 5 32 5-8 5 7 5-21 5 5 5-5 5 2 5 16 5-15 4 17 5 0 5 24 5-49 5 33 5-14 5 1 5-21 5 15 5 17 5-12 5 3 5-6 5 21 5-17 5-28 4 19 5-19 5 0 5 21 5 27 5-18 5-18 5 3 5 30 5-14 5-1 5-2 5 2 5 11 5-4 5-5 4-17 5 22 5-17 5 25 5-34 5 17 5 2 5-19 5 43 5-3 5-28 5 18 5-6 5-33 5 32 5-5 4 2 5-16 5 11 5 2 5 19 5-12 5-5 5 22 5-29 5 2 5-20 5 48 5-9 5 0 5-4 5-8 4 2 5-7 5 1 5 4 5 20 5-13 5-9 5-7 5-1 5 32 5-16 5-6 5-5 5-11 5 15 5 13 4-18 5 2 5 1 5 4 5-23 5 19 5-9 5 24 5-23 5 19 5 13 5-25 5-4 5 11 5-3 5-13 4 20 5 21 5-31 5 1 5-12 5 19 5-22 5 2 5 33 5-30 5 12 5-14 5-32 5 19 5 39 5-14 4-5 5-10 5 19 5 19 5-7 5-26 5 2 5 4 5 11 5-6 5 5 5 1 5-8 5 4 5 3 5-4 4 8 5 19 5-17 5-8 5-23 5 28 5-31 5 7 5 30 5-2 5-11 5-21 5 18 5-4 5 17 5 19 4-24 5-14 5-5 5 15 5-1 5-13 5 16 5-16 5 30 5-1 5 0 5-21 5 14 5-9 5-4 5 1 4-13 5-2 5 30 5-13 5 5 5 10 5-36 5 12 5 12 5 3 5-11 5 19 5-12 5-19 5 3 5 21 4-6 5-33 5 41 5-14 5 5 5-29 5-8 5-21 5 28 5-42 5 10 5-42 5 4 5-26 5 22 5 28 4-16 5 44 5 3 5-6 5 16 5 9 5 11 5-2 5-1 5 10 5-8 5-2 5 17 5 13 5-31 5 21 4-8 5-4 5 24 5-17 5 26 5-29 5 15 5-7 5-7 5 18 5-10 5 10 5-8 5-13 5 13 5 2 4 11 5-23 5 11 5-22 5 31 5-22 5-9 5 22 5 15 5-33 5 5 5 5 5-5 5 19 5-15 5 1 4 17 5-17 5 15 5-18 5-3 5-7 5 47 5-28 5 7 5-3 5 2 5-1 5 24 5-38 5-6 5 7 4-4 5 26 5 1 5-22 5-6 5 13 5 23 5-43 5 32 5-20 5 26 5-26 5 10 5-16 5 7 5 30 4-7 5-15 5-6 5-13 5 19 5 4 5 0 5 0 5-13 5 13 5 1 5 16 5 8 5-26 5-7 5 9 4-7 5-2 5 9 5-13 5 21 5-9 5 5 5-6 5-6 5-3 5 9 5-4 5 10 5-3 5-17 5 18 4-18 5 10 5 4 5-22 5 27 5 0 5-4 5-3 5 1 5-8 5 9 5-3 5 8 5-16 5 18 5-1 4-4 5-3 5 12 5-27 5 26 5-3 5 1 5 1 5-13 5 5 5 11 5-2 5-3 5-21 5 25 5 8 4-2 5-9 5-22 5 30 5-13 5-23 5 30 5-23 5 2 5 8 5 24 5-20 5 8 5 18 5-2 5-21 4-1 5-13 5 7 5 14 5 0 5-4 5 11 5-22 5 9 5 10 5-2 5 6 5-8 5-9 5 9 5-17 4-8 5 27 5-7 5 4 5-24 5 16 5-3 5-3 5-14 5 21 5 15 5-7 5-11 5 7 5 9 5-33 4 23 5 8 5 1 5 13 5-7 5-10 5 0 5 6 5-16 5 6 5 11 5 13 5-25 5 1 5 3 5 14 4-17 5 18 5-29 5 10 5 0 5 11 5 4 5-31 5 7 5 15 5-12 5-10 5 31 5-7 5 0 5-11 4 18 5-15 5 16 5-24 5 1 5 12 5-11 5 17 5-5 5-14 5 12 5-5 5 15 5-18 5 2 5 20 4 9 5 0 5-23 5 2 5 16 5-20 5-10 5 13 5 4 5-15 5-10 5 3 5 25 5-17 5 7 5 5 4 4 5-11 5 10 5-16 5 6 5-8 5 26 5-14 5-8 5 4 5 2 5 11 5-27 5 6 5 8 5 28 4-12 5-12 5 9 5 15 5-26 5-1 5 18 5-8 5 2 5-14 5 29 5-3 5-13 5 1 5-31 5 31 4-10 5 8 5 3 5-12 5-16 5 24 5-13 5 5 5-3 5 3 5-19 5 37 5-11 5 10 5 10 5-23 4-21 5 11 5-4 5 9 5 6 5-24 5 28 5-22 5 21 5-5 5-2 5 3 5-5 5-1 5-13 5 20 4 21 5 2 5-8 5-7 5-16 5 25 5-17 5 0 5-3 5 5 5-7 5 5 5-12 5 8 5 28 5-24 4-2 5 9 5 2 5-21 5 11 5 13 5-8 5-2 5 17 5-26 5 9 5-7 5 24 5-40 5 15 5 1 4 14 5 0 5 9 5-35 5 27 5-12 5-4 5 14 5-17 5-12 5 19 5-13 5 10 5 11 5 0 5 14 4-20 5-15 5 9 5-2 5-4 5 19 5-12 5-15 5 31 5-10 5 6 5-3 5 6 5-7 5 14 5-9 4-1 5 1 5-22 5 15 5-1 5 6 5-18 5 34 5-17 5-15 5-6 5 16 5 2 5-7 5 10 5-9 4 14 5-15 5 8 5 12 5 12 5-35 5 7 5-5 5 19 5-22 5 8 5 5 5-11 5 0 5 6 5-17 4 6 5 12 5 6 5-4 5-18 5 15 5 15 5-3 5-7 5-9 5 17 5-14 5-6 5 4 5 25 5-13 4 10 5-18 5 16 5-18 5 5 5 25 5-14 5-14 5 4 5 5 5 10 5-19 5-14 5 17 5 3 5 1 4 14 5-12 5 6 5-22 5 23 5 13 5-14 5-6 5-1 5 18 5-30 5 9 5 6 5 4 5-14 4 9 5-7 5 5 5-3 5-11 5 12 5 11 5-21 5 8 5 10 5-19 5 14 5-14 5 25 5 9 5 0 4-24 5 10 5-7 5 0 5 17 5-33 5 27 5-12 5 16 5-14 5-9 5 11 5 5 5-8 5 5 5-11 4-17 5 33 5-3 5-6 5-1 5 11 5-16 5-3 5 6 5 15 5-29 5 29 5-20 5-5 5 26 5-15 4-14 5 11 5 14 5 3 5-18 5 10 5 3 5-15 5 11 5-4 5-6 5 1 5 6 5-1 5-6 5 1 4 17 5-10 5 8 5 3 5-7 5 16 5-32 5 18 5-12 5 24 5-2 5-41 5 11 5 18 5 1 5-1 4-9 5 6 5 2 5-8 5 12 5-34 5 29 5-19 5 22 5-14 5-7 5 13 5-14 5-1 5-7 5 16 4 5 5 6 5-14 5 12 5-12 5-2 5 6 5 4 5-17 5 0 5-2 5 1 5-14 5 18 5-20 5 4 4-22 5 3 5-14 5-32 5-7 5-68 5-55 5-99 5-122 5-96 5-54 5-14 5 31 5 48 5 52 5 100 4 66 5 100 5 47 5 43 5 36 5 26 5-5 5 6 5 14 5-5 5 15 5 32 5-27 5 21 5-20 5 20 4-6 5 4 5 8 5 14 5-16 5 0 5-12 5 18 5-9 5 12 5-9 5 20 5-40 5 18 5 13 5-13 4-4 5 5 5-12 5 17 5 21 5-9 5-25 5 3 5 5 5 15 5-19 5 1 5 17 5 0 5-13 5-8 4-5 5 9 5-14 5 30 5-15 5 12 5 15 5-7 5-25 5 22 5 3 5-21 5-2 5 9 5-16 5 33 4-38 5 10 5 9 5 1 5 4 5 1 5-5 5 14 5-34 5 22 5-8 5 9 5 1 5-12 5 3 5 16 4-5 5-11 5 29 5 0 5-38 5 19 5 19 5-14 5-6 5-5 5-3 5 3 5-3 5 14 5-13 5 0 4-9 5 13 5-9 5 7 5 14 5-8 5 2 5-2 5-3 5-2 5-2 5 11 5-20 5 27 5-15 5-8 4 3 5-2 5 9 5-10 5 20 5-21 5-13 5 14 5-14 5 21 5 12 5-4 5-22 5 6 5 28 5-16 4-4 5 12 5 10 5-8 5-12 5 2 5 3 5-14 5-5 5 12 5-10 5 9 5 2 5 20 5-31 5 8 4 0 5 6 5 7 5-17 5-4 5-9 5 8 5 16 5-6 5-11 5 7 5 4 5 5 5-12 5 4 5-17 4 7 5 30 5-39 5 18 5 5 5-6 5-5 5 8 5 1 5-1 5-20 5 19 5-8 5 3 5 9 5 4 4 3 5-15 5 15 5 2 5 0 5 2 5-16 5-1 5 11 5-24 5 17 5-8 5 2 5-15 5 9 5 9 4 9 5 1 5-11 5-2 5-7 5 13 5-7 5 9 5 12 5-19 5-16 5 6 5-6 5 2 5 27 5-12 4-19 5 23 5 6 5-18 5-3 5 3 5 6 5 3 5 6 5 0 5-1 5 1 5-8 5-24 5 14 5 4 4-8 5 13 5-14 5-7 5 24 5-9 5-6 5 6 5 0 5-9 5-27 5 13 5 0 5-7 5 10 5 8 4-21 5-10 5 30 5-30 5-13 5 10 5-4 5-19 5 8 5-23 5-16 5-1 5-10 5-36 5-16 5-41 4-29 5-103 5-88 5-173 5-218 5-276 5-344 5-374 5-354 5-225 5-37 5 112 5 168 5 213 5 239 5 297 4 298 5 246 5 194 5 165 5 116 5 117 5 33 5 64 5 24 5 34 5 10 5 2 5 11 5 13 5 9 5-1 4 12 5 23 5-31 5 25 5-9 5 15 5 10 5-7 5 11 5-23 5 31 5-17 5 15 5-4 5-22 5 15 4 11 5 15 5-12 5 0 5-17 5 31 5 5 5-18 5-3 5-14 5 27 5 12 5-13 5 6 5-7 5-16 4 25 5-28 5 11 5 5 5 7 5-5 5-1 5-12 5-6 5 13 5-9 5-7 5-1 5 6 5-17 5 2 4-7 5 13 5-6 5 8 5-49 5-4 5 3 5-25 5-13 5 14 5-24 5-7 5 4 5 25 5 10 5-6 4 16 5 29 5 11 5-3 5 22 5 6 5-20 5 20 5 10 5-8 5-13 5 20 5 12 5 10 5-37 5 43 4-33 5 23 5 3 5-2 5-9 5-13 5 19 5-14 5-13 5 43 5-14 5 12 5-29 5 26 5 1 5 0 4-17 5-12 5 11 5-19 5 3 5 19 5-11 5 9 5 0 5 22 5-7 5-14 5 14 5-21 5 4 5 14 4-23 5 10 5-11 5 16 5 16 5-26 5 11 5-12 5-3 5 0 5 28 5 6 5-16 5-13 5 15 5-11 4 12 5-5 5 0 5 4 5-13 5 2 5-14 5 14 5-11 5 14 5-9 5 11 5 4 5-20 5 7 5-1 4 17 5 11 5-9 5-13 5 19 5-31 5 32 5-23 5-14 5 42 5-5 5-27 5 13 5-4 5 3 5-17 4 9 5 12 5-3 5 11 5-12 5 20 5-28 5 10 5-23 5 7 5 27 5-24 5 16 5-6 5-11 5 8 4-2 5 0 5 13 5-1 5-13 5-3 5 12 5-4 5 12 5 11 5-13 5-9 5-1 5-7 5-1 5-1 4 6 5 0 5 12 5-12 5 3 5-11 5 30 5-12 5 14 5-11 5 7 5-18 5 10 5 14 5-34 5 25 4 6 5-14 5 4 5 5 5-20 5 11 5-13 5 2 5 0 5 5 5 4 5 3 5-20 5 36 5-9 5-4 4-12 5 3 5 7 5-1 5-23 5 26 5 13 5-41 5 31 5-7 5-5 5 16 5-28 5 15 5 14 5-18 4-2 5 5 5-6 5 22 5-27 5 20 5-23 5 20 5-8 5-20 5 21 5-11 5 7 5 21 5-29 5 1 4 27 5-14 5 15 5-13 5-13 5 9 5 14 5-4 5-10 5 1 5-2 5-5 5 27 5-21 5-12 5 7 4 13 5-1 5-8 5-6 5 8 5-19 5 4 5 23 5-14 5 9 5 9 5-6 5-7 5 21 5-14 5-11 4 12 5-3 5-14 5 10 5-3 5-19 5 19 5-1 5-2 5-13 5 14 5 4 5 1 5-13 5 19 5-20 4 10 5 17 5-22 5 2 5 17 5-16 5 1 5 6 5 8 5-32 5 12 5-2 5-1 5 2 5 1 5 12 4-13 5 10 5 3 5-12 5 9 5 16 5-15 5-10 5 6 5-10 5 12 5 6 5-18 5 6 5 13 5-18 4 7 5-14 5 1 5 2 5 25 5-26 5-4 5-2 5 1 5 5 5-10 5 13 5-28 5 0 5-31 5-25 4-60 5-36 5-61 5-68 5-78 5-4 5-14 5 23 5 32 5 28 5 34 5 16 5 46 5 58 5 40 5 30 4 25 5 17 5 23 5 23 5-16 5 32 5-3 5-11 5 16 5-22 5-1 5 6 5 10 5 2 5-1 5 8 4-22 5 27 5-19 5 8 5 3 5-7 5-2 5 4 5 11 5 6 5 0 5-16 5 3 5-2 5 15 5-25 4 33 5-17 5-3 5 12 5 7 5-7 5 7 5-9 5 11 5 1 5-14 5 16 5-13 5-1 5-11 5 7 4 11 5-21 5 20 5-3 5-1 5-23 5 19 5 8 5-14 5 9 5-22 5 28 5-14 5 16 5-28 5 26 4-9 5 10 5-18 5 4 5 27 5-29 5 1 5 4 5-7 5 23 5 5 5-25 5-11 5 31 5-1 4-3 5 4 5-22 5 8 5-13 5 0 5 25 5-17 5 27 5-20 5-7 5 15 5 10 5-13 5-18 5 17 4 10 5-19 5-3 5 18 5-9 5-13 5 8 5-4 5 11 5-2 5 11 5-5 5-23 5 20 5 5 5-4 4 6 5-17 5-4 5 20 5-21 5-10 5 32 5-18 5 4 5-11 5 0 5 2 5 9 5 7 5-24 5 28 4-20 5 1 5 18 5-7 5-16 5 36 5-29 5 12 5 0 5 12 5-19 5 15 5-18 5 19 5-19 5 4 4 23 5-16 5-2 5 19 5-17 5-12 5 16 5-20 5 24 5 1 5-18 5-1 5 9 5-2 5-10 5 16 4-27 5 16 5 1 5 1 5 6 5-16 5 19 5-8 5-5 5-7 5 2 5 16 5-14 5 11 5 10 5 0 4 5 5-19 5-8 5 22 5-8 5 9 5-12 5 12 5-3 5-1 5-3 5-1 5-1 5-1 5 8 5-15 4 23 5-19 5 11 5-11 5-1 5 23 5-24 5-10 5 6 5 4 5 24 5-19 5 8 5-20 5 14 5 3 4 12 5-26 5 14 5-3 5-14 5 10 5-2 5-18 5 27 5-1 5-10 5-9 5 29 5-13 5 8 5 4 4-20 5 14 5-11 5 2 5 0 5 1 5 11 5-10 5-3 5-1 5 6 5-13 5 4 5 5 5-5 5 4 4-5 5 27 5-6 5-10 5-5 5 22 5-18 5-4 5 4 5 0 5 11 5-14 5 21 5-30 5 16 5-17 4 29 5-23 5 3 5 11 5 3 5-25 5 8 5-10 5 15 5-2 5-3 5-3 5 3 5-4 5 14 5 10 4-36 5 19 5-3 5 9 5-15 5 9 5-10 5 18 5-6 5-3 5 6 5-6 5-14 5 22 5-3 5-4 4 11 5 3 5-24 5 3 5 24 5-1 5-22 5-5 5 6 5 1 5-11 5 17 5-14 5 1 5 22 5-17 4 7 5 7 5 2 5-12 5 4 5-9 5 27 5-12 5-18 5 12 5 7 5-3 5 14 5-4 5-20 5 5 4-13 5 16 5-1 5 19 5-19 5-22 5 14 5 8 5-14 5 4 5 5 5 7 5-5 5-8 5 18 5-14 4 0 5-9 5 7 5 14 5-23 5 16 5 8 5-11 5 6 5-14 5 25 5-2 5-9 5-21 5 8 5 21 4 7 5-14 5 10 5-20 5 5 5 2 5 4 5-20 5 25 5 4 5-25 5-2 5 17 5-10 5-14 5 29 4-7 5-6 5 25 5-19 5-9 5 9 5-12 5 3 5 12 5-10 5 1 5 22 5-9 5 0 5-3 5 0 4 10 5-16 5 20 5-29 5 7 5-12 5 11 5 9 5 10 5-22 5 7 5-4 5-4 5-5 5 13 5-18 4 19 5-1 5-7 5-4 5-4 5 34 5-33 5 30 5-10 5-10 5-9 5 23 5 7 5-27 5 6 5 14 4-7 5 17 5-27 5 12 5-19 5 34 5-28 5-13 5 19 5 0 5 21 5-23 5 3 5 6 5 11 5-17 4 11 5-5 5-9 5 4 5-1 5-9 5 22 5-27 5 26 5-2 5-11 5-7 5 6 5 7 5 3 5-5 4 7 5-16 5 8 5-18 5 24 5-7 5-6 5 17 5-5 5-28 5 21 5-16 5 26 5 10 5-26 5 6 4-4 5 7 5 2 5 7 5-24 5 27 5-26 5 12 5 9 5-5 5-17 5 2 5 3 5 4 5 12 5-25 4 18 5 1 5-1 5-1 5 10 5-11 5 3 5-3 5 12 5-39 5 32 5-16 5-2 5-8 5-10 5 13 4-5 5 10 5-24 5 26 5-18 5-13 5-16 5-15 5-21 5-16 5-20 5-29 5-40 5-10 5-19 5 9 4 25 5-1 5 3 5-2 5 13 5 10 5 40 5 2 5 28 5 11 5 23 5 27 5-11 5 13 5 2 5 22 4-16 5 2 5 0 5 1 5 21 5 17 5-30 5 21 5-7 5-13 5 9 5 1 5-4 5 27 5-39 5 24 4 0 5-9 5 7 5 8 5-7 5 3 5 3 5-28 5 36 5 6 5-11 5 1 5-25 5 13 5-7 5 2 4 17 5-19 5 7 5-18 5 18 5 3 5-8 5 0 5 26 5-31 5 1 5 3 5 21 5 8 5-17 5-11 4 3 5 15 5-20 5 24 5 0 5-14 5 6 5 1 5 8 5-26 5 23 5-16 5-5 5 9 5-3 5-8 4-6 5 7 5 24 5 6 5-14 5 6 5-18 5 4 5 4 5-14 5 1 5 11 5-4 5-8 5 15 5-7 4 14 5-11 5-3 5 4 5-3 5-5 5 3 5 12 5-2 5 7 5-31 5 14 5-1 5 6 5-6 5-1 4 13 5-6 5-14 5 26 5-4 5-16 5 14 5-16 5 19 5-14 5-6 5 4 5-4 5 10 5-1 5-1 4-7 5-15 5 22 5-21 5 22 5 9 5-9 5-8 5 2 5 0 5-4 5-1 5-4 5 21 5-13 5 9 4-13 5 3 5-3 5 5 5 3 5-7 5-11 5-3 5 24 5-22 5-3 5 16 5-7 5-10 5-14 5 19 4-23 5-8 5-20 5-31 5-25 5-19 5-51 5-73 5-93 5-98 5-86 5-92 5-18 5 12 5 54 5 45 4 34 5 31 5 8 5 32 5 32 5 57 5 53 5 58 5 49 5 49 5 43 5 0 5 26 5 4 5 41 5 4 4 0 5-16 5 18 5-1 5 5 5 0 5 9 5-8 5 14 5-5 5-4 5 3 5-3 5 14 5-10 5 6 4-6 5-11 5 25 5-20 5 19 5-3 5-21 5 8 5 5 5-3 5-4 5 21 5-10 5 6 5-8 5 8 4-11 5 8 5 6 5-5 5-5 5-7 5 14 5 1 5-6 5-5 5 14 5 15 5-24 5 7 5 0 5-24 4 22 5-8 5 21 5-17 5-5 5 6 5 4 5-8 5 6 5-14 5 12 5 10 5 13 5-13 5-5 5 10 4-2 5 7 5-6 5-13 5 4 5 0 5 1 5-1 5-10 5-13 5 14 5-14 5 22 5-1 5-17 5 24 4 2 5-8 5 16 5 2 5-31 5 23 5-6 5-1 5 6 5-17 5 1 5-2 5 0 5 7 5-14 5 4 4 17 5-6 5 4 5-23 5 11 5 3 5 6 5-7 5 16 5-10 5 0 5 0 5 8 5-13 5 17 5-7 4-3 5-1 5 5 5 5 5-1 5-6 5 5 5-7 5 11 5-13 5-20 5 34 5-13 5-13 5 10 5-7 4 30 5-16 5-21 5 22 5-10 5 24 5-31 5-9 5 21 5-4 5-1 5-16 5 25 5 12 5-36 5 31 4-18 5 27 5-16 5-7 5 14 5-6 5-12 5 13 5-12 5-13 5 39 5-24 5-3 5 10 5-20 5 2 4 9 5 0 5 6 5 10 5-16 5 10 5 1 5-17 5 13 5-12 5 21 5-7 5-4 5-14 5 15 5-9 4 15 5-9 5-7 5 18 5-2 5-14 5 18 5-15 5 0 5 4 5-9 5 4 5 2 5 18 5-1 5-18 4 19 5-17 5 5 5 5 5-7 5 18 5-18 5-15 5 25 5-17 5 1 5-18 5 31 5-2 5 0 5 1 4 7 5-18 5 10 5-17 5 4 5 14 5-7 5-18 5 17 5-6 5-7 5 13 5-9 5-12 5 4 5 29 4-34 5 18 5 3 5 0 5-20 5 9 5 4 5 6 5-16 5-6 5 21 5 0 5-9 5-11 5 8 5-4 4 5 5-24 5 12 5-6 5-13 5 9 5-7 5-10 5 1 5-29 5 2 5-13 5-26 5-27 5-72 4-69 5-67 5-101 5-101 5-132 5-111 5-29 5-2 5 53 5 113 5 51 5 51 5 24 5 23 5-5 5 37 4 27 5 61 5 98 5 63 5 44 5 41 5 32 5 16 5 41 5 4 5 8 5 6 5 12 5-1 5 7 5-17 4 20 5 18 5-24 5 6 5 12 5 2 5-2 5-22 5 23 5-16 5 4 5 15 5-8 5 12 5 13 5-12 4 0 5-16 5 3 5-4 5 6 5-6 5 5 5 5 5-8 5-4 5 1 5 19 5-4 5 10 5 1 5-15 4 11 5-21 5 35 5-8 5-14 5-10 5 16 5-23 5 11 5 16 5-7 5-5 5 14 5-20 5 14 5-8 4-4 5 14 5-15 5 30 5-26 5 27 5-32 5 18 5-19 5-1 5 15 5 6 5-20 5 25 5-20 5 9 4 3 5 2 5-24 5 35 5-11 5-10 5-6 5-7 5 3 5 20 5-9 5-8 5 6 5 22 5-20 5-3 4 20 5-9 5-4 5-7 5-9 5 4 5 7 5 2 5 6 5 2 5-3 5 0 5-13 5-10 5 15 5-4 4 3 5 4 5-10 5 2 5 10 5 2 5-8 5 12 5-7 5-8 5 10 5 19 5-26 5 19 5 2 5 1 4-23 5 29 5-20 5-3 5 0 5 8 5-5 5-3 5 15 5-20 5-3 5 18 5-1 5 5 5-23 5 22 4-6 5 13 5-31 5 16 5-6 5-13 5 9 5 19 5-16 5-3 5 16 5 2 5 0 5-19 5 8 5 11 4-17 5-1 5 16 5 7 5-27 5-9 5 6 5 4 5 9 5 8 5-8 5-6 5 9 5-11 5 9 5-6 4 27 5-12 5-17 5-2 5 6 5-12 5 9 5 0 5 17 5-14 5-4 5-5 5 1 5 12 5-2 5 14 4-18 5 17 5-8 5-2 5-21 5 7 5 21 5 7 5-12 5 5 5-12 5 1 5-3 5 17 5-7 5-6 4-1 5 9 5-2 5-12 5 26 5-15 5-2 5 15 5-5 5-11 5 6 5-16 5 4 5-14 5 33 5-32 4 27 5-16 5-1 5 8 5 4 5 4 5 12 5-15 5 6 5-15 5 13 5-6 5-6 5 4 5 0 5 3 4 2 5-9 5-3 5 15 5-25 5 11 5 23 5-37 5 14 5 14 5-24 5 37 5-41 5 36 5 1 5-7 4-11 5 5 5-12 5 17 5-20 5 9 5 13 5-22 5 8 5 5 5-15 5 26 5-9 5-19 5 15 5-7 4 1 5 8 5-8 5 17 5-17 5 17 5-11 5 10 5-15 5 1 5-7 5 18 5 3 5 11 5-7 5-11 4-4 5 6 5-4 5 15 5-6 5-18 5 2 5 21 5-11 5-6 5 15 5-16 5 1 5-2 5-15 5 29 4-22 5 7 5-2 5 15 5-8 5 1 5-17 5 16 5-14 5 18 5 1 5-4 5 20 5-15 5 1 5-5 4-3 5 12 5 1 5-25 5 25 5-6 5 5 5-6 5-17 5 1 5 30 5-16 5-17 5 18 5-7 5-15 4-2 5 4 5 19 5-3 5-2 5 5 5 4 5-27 5 17 5-5 5-4 5 7 5 4 5-1 5-13 5 10 4 26 5-31 5-7 5 20 5 3 5-1 5-16 5 21 5-18 5-4 5 6 5 5 5 8 5-1 5-6 5 9 4-8 5 8 5-24 5-2 5 25 5-23 5 11 5 2 5-4 5 0 5 19 5-35 5 30 5 11 5-20 5-1 4 7 5 12 5-32 5 13 5-3 5 7 5-4 5 4 5-12 5 4 5-8 5-1 5 3 5-1 5-13 5 25 4-21 5-16 5 21 5-23 5 8 5-10 5-2 5-5 5-11 5 5 5 19 5-40 5 22 5 6 5-13 5-1 4 36 5-22 5 27 5-13 5-2 5 7 5 5 5 9 5-4 5 0 5 3 5 15 5-4 5-16 5 5 5 11 4-8 5 3 5-5 5 8 5 8 5 6 5-10 5 21 5-21 5 21 5-10 5-5 5-10 5-15 5 19 5 4 4 18 5-34 5 34 5-22 5 10 5-28 5 22 5-5 5 11 5-6 5-13 5 22 5-3 5-1 5 4 5 1 4-11 5-14 5 0 5 28 5-7 5-6 5-5 5 4 5 0 5-3 5-4 5 28 5-18 5-9 5-7 5 6 4 15 5 0 5-10 5 3 5-4 5-8 5 25 5-10 5 17 5-29 5 7 5 10 5-11 5-12 5 4 5 11 4 3 5-5 5 11 5 0 5-7 5-3 5-3 5 9 5 3 5-8 5 4 5-8 5-12 5 5 5 18 5-4 4 12 5-16 5 9 5 4 5-3 5-17 5 5 5 3 5-12 5 15 5 6 5-16 5 25 5-23 5 1 5-1 4-5 5 12 5-5 5 17 5-11 5-1 5-8 5-13 5 14 5-8 5 18 5-11 5 17 5-10 5 0 5-6 4-1 5 3 5 2 5-19 5 11 5 13 5-25 5-6 5-10 5-16 5 16 5-25 5-13 5-3 5-19 5-48 4 5 5-11 5 0 5 11 5 9 5 30 5 2 5 5 5 12 5-3 5-5 5-1 5 17 5-6 5 3 5 4 4 16 5 2 5 21 5 8 5-18 5 25 5 9 5-2 5-10 5 24 5-19 5-5 5 2 5 11 5 11 5 2 4-10 5-14 5 6 5-3 5 7 5-16 5 18 5 5 5-9 5 6 5-16 5-6 5 6 5 17 5-3 5-18 4 14 5-18 5 16 5-14 5-13 5 10 5-18 5-4 5-7 5 17 5-3 5 1 5-3 5 21 5-18 5-2 4 22 5 3 5-9 5-19 5 13 5 15 5-4 5 18 5-27 5 23 5-11 5 22 5-13 5 13 5-16 5-6 4 4 5 6 5-4 5 24 5 2 5-11 5-13 5 10 5-5 5 22 5-12 5 2 5-8 5-17 5 13 5-3 4 15 5-3 5-9 5 5 5 20 5-26 5 0 5 7 5-4 5 3 5 9 5 13 5-36 5 18 5 1 5-2 4-1 5-1 5 14 5-15 5 3 5 2 5 1 5-3 5 12 5-10 5 1 5-2 5-10 5 2 5-2 5 13 4-10 5-3 5 13 5 3 5-23 5 35 5-17 5-1 5 12 5-10 5-7 5 26 5-31 5 10 5 10 5-20 4 10 5 5 5 17 5-30 5 9 5 7 5-6 5-13 5 16 5-3 5 4 5 7 5-2 5-6 5-1 5-14 4 10 5 3 5-6 5 5 5-9 5 24 5 5 5-25 5 8 5-6 5 15 5-8 5-4 5-3 5 3 5-11 4 17 5-14 5 13 5-5 5 10 5-11 5 11 5-20 5 15 5-8 5 4 5-1 5 9 5-30 5 23 5-18 4 27 5-32 5 10 5-7 5 34 5-30 5 14 5-7 5-13 5 15 5 11 5-9 5 11 5-13 5 4 5-4 4 7 5 16 5-16 5-1 5-9 5-1 5 22 5-26 5 2 5 8 5-3 5 24 5-40 5 24 5 3 5-19 4 5 5 11 5 12 5-26 5-7 5 26 5 5 5-20 5-17 5 35 5-18 5 13 5-12 5-4 5-2 5 19 4-2 5-36 5 10 5 27 5-24 5-11 5 12 5-2 5-1 5-5 5 1 5-3 5 8 5-12 5 5 5 1 4 16 5-10 5-4 5 7 5-1 5 8 5-5 5 14 5-4 5-13 5-3 5 15 5-3 5-5 5-13 5-3 4 23 5 6 5 1 5-21 5 25 5-16 5 10 5 1 5-12 5 3 5-14 5 11 5-9 5 24 5-4 5 9 4-6 5-10 5 11 5-8 5 10 5-2 5-14 5 10"/>
</g>
<path d="M316.2 1317.7 V1282.8 A3.25 3.25 0 0 1 322.7 1282.8 V1317.7 Z M607.8 1317.7 V1273.2 A3.25 3.25 0 0 1 614.3 1273.2 V1317.7 Z M741.1 1317.7 V1235.2 A3.25 3.25 0 0 1 747.6 1235.2 V1317.7 Z M781.1 1317.7 V1286.2 A3.25 3.25 0 0 1 787.6 1286.2 V1317.7 Z M929.7 1317.7 V1279.0 A3.25 3.25 0 0 1 936.2 1279.0 V1317.7 Z M1185.4 1317.7 V1285.2 A3.25 3.25 0 0 1 1191.9 1285.2 V1317.7 Z M1273.1 1317.7 V1274.2 A3.25 3.25 0 0 1 1279.6 1274.2 V1317.7 Z M1410.6 1317.7 V1270.3 A3.25 3.25 0 0 1 1417.1 1270.3 V1317.7 Z M1618.2 1317.7 V1288.5 A3.25 3.25 0 0 1 1624.7 1288.5 V1317.7 Z M1693.5 1317.7 V1286.5 A3.25 3.25 0 0 1 1700.0 1286.5 V1317.7 Z M1718.2 1317.7 V1288.5 A3.25 3.25 0 0 1 1724.7 1288.5 V1317.7 Z M1816.4 1317.7 V1289.0 A3.25 3.25 0 0 1 1822.9 1289.0 V1317.7 Z" fill="#00ff00"/>
<path d="M1753.4 1102.4 L1739.8 1145.2" stroke="#000" stroke-width="1.6" fill="none"/>
<path d="M1729.7 1177.0 L1731.7 1142.6 L1747.9 1147.7 Z" fill="#000"/>
</svg></body></html>
